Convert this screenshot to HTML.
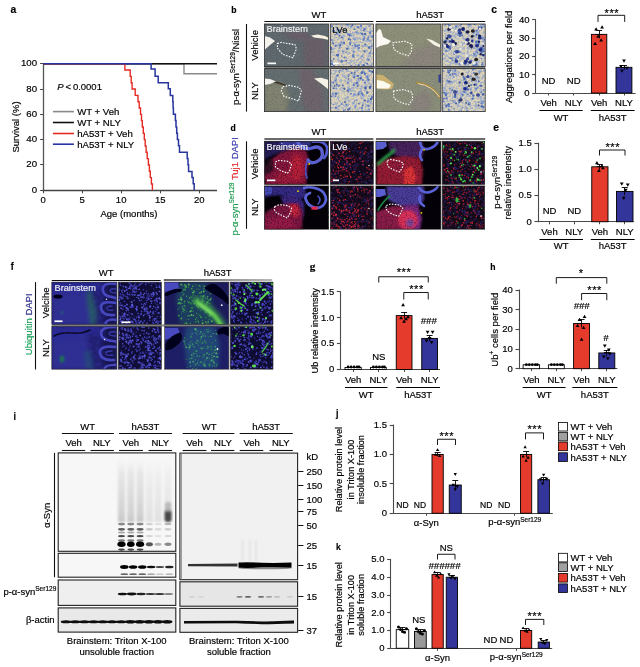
<!DOCTYPE html>
<html><head><meta charset="utf-8"><style>
html,body{margin:0;padding:0;background:#fff;}
body{width:640px;height:667px;overflow:hidden;}
svg{display:block;will-change:transform;}
text{font-family:"Liberation Sans", sans-serif;stroke-width:0.18px;}
</style></head><body>
<svg width="640" height="667" viewBox="0 0 640 667">
<defs><filter id="f1" x="-20%" y="-20%" width="140%" height="140%"><feGaussianBlur stdDeviation="1.2"/></filter><filter id="f2" x="-20%" y="-20%" width="140%" height="140%"><feGaussianBlur stdDeviation="2.2"/></filter><filter id="f3" x="-20%" y="-20%" width="140%" height="140%"><feGaussianBlur stdDeviation="0.5"/></filter><filter id="f4" x="-20%" y="-20%" width="140%" height="140%"><feGaussianBlur stdDeviation="0.3"/></filter><clipPath id="c1"><rect x="264.4" y="24" width="64.30000000000001" height="42.599999999999994"/></clipPath><filter id="f5" x="0" y="0" width="1" height="1" filterUnits="objectBoundingBox" color-interpolation-filters="sRGB"><feTurbulence type="fractalNoise" baseFrequency="0.9" numOctaves="2" seed="3"/><feColorMatrix type="matrix" values="0 0 0 0 0.243 0 0 0 0 0.290 0 0 0 0 0.333 4 0 0 0 -2.0"/></filter><clipPath id="c2"><rect x="264.4" y="68.6" width="64.30000000000001" height="43.0"/></clipPath><filter id="f6" x="0" y="0" width="1" height="1" filterUnits="objectBoundingBox" color-interpolation-filters="sRGB"><feTurbulence type="fractalNoise" baseFrequency="0.9" numOctaves="2" seed="5"/><feColorMatrix type="matrix" values="0 0 0 0 0.243 0 0 0 0 0.290 0 0 0 0 0.333 4 0 0 0 -2.0"/></filter><clipPath id="c3"><rect x="330.3" y="24" width="43.099999999999966" height="42.599999999999994"/></clipPath><filter id="f7" x="0" y="0" width="1" height="1" filterUnits="objectBoundingBox" color-interpolation-filters="sRGB"><feTurbulence type="fractalNoise" baseFrequency="0.7" numOctaves="2" seed="51"/><feColorMatrix type="matrix" values="0 0 0 0 0.690 0 0 0 0 0.659 0 0 0 0 0.565 5 0 0 0 -2.6"/></filter><filter id="f8" x="0" y="0" width="1" height="1" filterUnits="objectBoundingBox" color-interpolation-filters="sRGB"><feTurbulence type="fractalNoise" baseFrequency="0.4" numOctaves="2" seed="11"/><feColorMatrix type="matrix" values="0 0 0 0 0.557 0 0 0 0 0.643 0 0 0 0 0.812 7 0 0 0 -3.3"/></filter><clipPath id="c4"><rect x="330.3" y="68.6" width="43.099999999999966" height="43.0"/></clipPath><filter id="f9" x="0" y="0" width="1" height="1" filterUnits="objectBoundingBox" color-interpolation-filters="sRGB"><feTurbulence type="fractalNoise" baseFrequency="0.7" numOctaves="2" seed="52"/><feColorMatrix type="matrix" values="0 0 0 0 0.690 0 0 0 0 0.659 0 0 0 0 0.565 5 0 0 0 -2.6"/></filter><filter id="f10" x="0" y="0" width="1" height="1" filterUnits="objectBoundingBox" color-interpolation-filters="sRGB"><feTurbulence type="fractalNoise" baseFrequency="0.4" numOctaves="2" seed="12"/><feColorMatrix type="matrix" values="0 0 0 0 0.557 0 0 0 0 0.643 0 0 0 0 0.812 7 0 0 0 -3.3"/></filter><clipPath id="c5"><rect x="375.9" y="24" width="65.0" height="42.599999999999994"/></clipPath><filter id="f11" x="0" y="0" width="1" height="1" filterUnits="objectBoundingBox" color-interpolation-filters="sRGB"><feTurbulence type="fractalNoise" baseFrequency="0.9" numOctaves="2" seed="7"/><feColorMatrix type="matrix" values="0 0 0 0 0.353 0 0 0 0 0.392 0 0 0 0 0.314 4 0 0 0 -2.0"/></filter><clipPath id="c6"><rect x="375.9" y="68.6" width="65.0" height="43.0"/></clipPath><filter id="f12" x="0" y="0" width="1" height="1" filterUnits="objectBoundingBox" color-interpolation-filters="sRGB"><feTurbulence type="fractalNoise" baseFrequency="0.9" numOctaves="2" seed="9"/><feColorMatrix type="matrix" values="0 0 0 0 0.353 0 0 0 0 0.392 0 0 0 0 0.314 4 0 0 0 -2.0"/></filter><clipPath id="c7"><rect x="442.2" y="24" width="43.0" height="42.599999999999994"/></clipPath><filter id="f13" x="0" y="0" width="1" height="1" filterUnits="objectBoundingBox" color-interpolation-filters="sRGB"><feTurbulence type="fractalNoise" baseFrequency="0.7" numOctaves="2" seed="71"/><feColorMatrix type="matrix" values="0 0 0 0 0.690 0 0 0 0 0.659 0 0 0 0 0.565 5 0 0 0 -2.6"/></filter><filter id="f14" x="0" y="0" width="1" height="1" filterUnits="objectBoundingBox" color-interpolation-filters="sRGB"><feTurbulence type="fractalNoise" baseFrequency="0.4" numOctaves="2" seed="31"/><feColorMatrix type="matrix" values="0 0 0 0 0.557 0 0 0 0 0.643 0 0 0 0 0.812 7 0 0 0 -3.3"/></filter><clipPath id="c8"><rect x="442.2" y="68.6" width="43.0" height="43.0"/></clipPath><filter id="f15" x="0" y="0" width="1" height="1" filterUnits="objectBoundingBox" color-interpolation-filters="sRGB"><feTurbulence type="fractalNoise" baseFrequency="0.7" numOctaves="2" seed="72"/><feColorMatrix type="matrix" values="0 0 0 0 0.690 0 0 0 0 0.659 0 0 0 0 0.565 5 0 0 0 -2.6"/></filter><filter id="f16" x="0" y="0" width="1" height="1" filterUnits="objectBoundingBox" color-interpolation-filters="sRGB"><feTurbulence type="fractalNoise" baseFrequency="0.4" numOctaves="2" seed="32"/><feColorMatrix type="matrix" values="0 0 0 0 0.557 0 0 0 0 0.643 0 0 0 0 0.812 7 0 0 0 -3.3"/></filter><clipPath id="c9"><rect x="264.4" y="141.2" width="64.30000000000001" height="43.20000000000002"/></clipPath><filter id="f17" x="0" y="0" width="1" height="1" filterUnits="objectBoundingBox" color-interpolation-filters="sRGB"><feTurbulence type="fractalNoise" baseFrequency="0.8" numOctaves="2" seed="141"/><feColorMatrix type="matrix" values="0 0 0 0 0.000 0 0 0 0 0.000 0 0 0 0 0.000 4 0 0 0 -2.0"/></filter><clipPath id="c10"><rect x="264.4" y="185.9" width="64.30000000000001" height="43.29999999999998"/></clipPath><filter id="f18" x="0" y="0" width="1" height="1" filterUnits="objectBoundingBox" color-interpolation-filters="sRGB"><feTurbulence type="fractalNoise" baseFrequency="0.8" numOctaves="2" seed="143"/><feColorMatrix type="matrix" values="0 0 0 0 0.000 0 0 0 0 0.000 0 0 0 0 0.000 4 0 0 0 -2.0"/></filter><clipPath id="c11"><rect x="330.3" y="141.2" width="43.099999999999966" height="43.20000000000002"/></clipPath><filter id="f19" x="0" y="0" width="1" height="1" filterUnits="objectBoundingBox" color-interpolation-filters="sRGB"><feTurbulence type="fractalNoise" baseFrequency="0.3" numOctaves="2" seed="62"/><feColorMatrix type="matrix" values="0 0 0 0 0.165 0 0 0 0 0.102 0 0 0 0 0.314 5 0 0 0 -2.5"/></filter><clipPath id="c12"><rect x="330.3" y="185.9" width="43.099999999999966" height="43.29999999999998"/></clipPath><filter id="f20" x="0" y="0" width="1" height="1" filterUnits="objectBoundingBox" color-interpolation-filters="sRGB"><feTurbulence type="fractalNoise" baseFrequency="0.3" numOctaves="2" seed="63"/><feColorMatrix type="matrix" values="0 0 0 0 0.165 0 0 0 0 0.102 0 0 0 0 0.314 5 0 0 0 -2.5"/></filter><clipPath id="c13"><rect x="375.9" y="141.2" width="65.0" height="43.20000000000002"/></clipPath><filter id="f21" x="0" y="0" width="1" height="1" filterUnits="objectBoundingBox" color-interpolation-filters="sRGB"><feTurbulence type="fractalNoise" baseFrequency="0.8" numOctaves="2" seed="161"/><feColorMatrix type="matrix" values="0 0 0 0 0.000 0 0 0 0 0.000 0 0 0 0 0.000 4 0 0 0 -2.0"/></filter><clipPath id="c14"><rect x="375.9" y="185.9" width="65.0" height="43.29999999999998"/></clipPath><filter id="f22" x="0" y="0" width="1" height="1" filterUnits="objectBoundingBox" color-interpolation-filters="sRGB"><feTurbulence type="fractalNoise" baseFrequency="0.8" numOctaves="2" seed="163"/><feColorMatrix type="matrix" values="0 0 0 0 0.000 0 0 0 0 0.000 0 0 0 0 0.000 4 0 0 0 -2.0"/></filter><clipPath id="c15"><rect x="442.2" y="141.2" width="42.5" height="43.20000000000002"/></clipPath><filter id="f23" x="0" y="0" width="1" height="1" filterUnits="objectBoundingBox" color-interpolation-filters="sRGB"><feTurbulence type="fractalNoise" baseFrequency="0.3" numOctaves="2" seed="82"/><feColorMatrix type="matrix" values="0 0 0 0 0.165 0 0 0 0 0.102 0 0 0 0 0.314 5 0 0 0 -2.5"/></filter><clipPath id="c16"><rect x="442.2" y="185.9" width="42.5" height="43.29999999999998"/></clipPath><filter id="f24" x="0" y="0" width="1" height="1" filterUnits="objectBoundingBox" color-interpolation-filters="sRGB"><feTurbulence type="fractalNoise" baseFrequency="0.3" numOctaves="2" seed="83"/><feColorMatrix type="matrix" values="0 0 0 0 0.165 0 0 0 0 0.102 0 0 0 0 0.314 5 0 0 0 -2.5"/></filter><clipPath id="c17"><rect x="51.8" y="282.1" width="65.10000000000001" height="42.5"/></clipPath><filter id="f25" x="0" y="0" width="1" height="1" filterUnits="objectBoundingBox" color-interpolation-filters="sRGB"><feTurbulence type="fractalNoise" baseFrequency="0.3" numOctaves="2" seed="84"/><feColorMatrix type="matrix" values="0 0 0 0 0.188 0 0 0 0 0.188 0 0 0 0 0.627 4 0 0 0 -1.8"/></filter><clipPath id="c18"><rect x="51.8" y="326.2" width="65.10000000000001" height="43.0"/></clipPath><filter id="f26" x="0" y="0" width="1" height="1" filterUnits="objectBoundingBox" color-interpolation-filters="sRGB"><feTurbulence type="fractalNoise" baseFrequency="0.3" numOctaves="2" seed="85"/><feColorMatrix type="matrix" values="0 0 0 0 0.188 0 0 0 0 0.188 0 0 0 0 0.627 4 0 0 0 -1.8"/></filter><clipPath id="c19"><rect x="118.2" y="282.1" width="43.3" height="42.5"/></clipPath><clipPath id="c20"><rect x="118.2" y="326.2" width="43.3" height="43.0"/></clipPath><clipPath id="c21"><rect x="164.6" y="282.1" width="64.30000000000001" height="42.5"/></clipPath><clipPath id="c22"><rect x="164.6" y="326.2" width="64.30000000000001" height="43.0"/></clipPath><clipPath id="c23"><rect x="230.2" y="282.1" width="42.80000000000001" height="42.5"/></clipPath><clipPath id="c24"><rect x="230.2" y="326.2" width="42.80000000000001" height="43.0"/></clipPath><linearGradient id="sm1" x1="0" x2="0" y1="0" y2="1"><stop offset="0" stop-color="#e8e8e8" stop-opacity="0"/><stop offset="0.25" stop-color="#e2e2e2" stop-opacity="0.8"/><stop offset="0.85" stop-color="#d2d2d2"/><stop offset="1" stop-color="#c8c8c8"/></linearGradient><linearGradient id="sm2" x1="0" x2="0" y1="0" y2="1"><stop offset="0" stop-color="#eeeeee" stop-opacity="0"/><stop offset="0.3" stop-color="#eaeaea" stop-opacity="0.7"/><stop offset="1" stop-color="#e0e0e0"/></linearGradient><clipPath id="c25"><rect x="58.2" y="452.9" width="117.60000000000001" height="98.39999999999998"/></clipPath></defs>
<g transform="translate(10.4 13.1) scale(0.88 1)"><text x="0" y="0" font-size="11.8" font-weight="bold" stroke="#000">a</text></g>
<line x1="43.5" y1="63.7" x2="43.5" y2="190.8" stroke="#555" stroke-width="1.3"/>
<line x1="42.5" y1="190.5" x2="217" y2="190.5" stroke="#444" stroke-width="1.3"/>
<line x1="40.1" y1="190.5" x2="43.1" y2="190.5" stroke="#444" stroke-width="1"/>
<text x="37.1" y="192.8" font-size="9.7" text-anchor="end" stroke="#000">0</text>
<line x1="40.1" y1="164.5" x2="43.1" y2="164.5" stroke="#444" stroke-width="1"/>
<text x="37.1" y="167.48000000000002" font-size="9.7" text-anchor="end" stroke="#000">20</text>
<line x1="40.1" y1="139.5" x2="43.1" y2="139.5" stroke="#444" stroke-width="1"/>
<text x="37.1" y="142.16000000000003" font-size="9.7" text-anchor="end" stroke="#000">40</text>
<line x1="40.1" y1="114.5" x2="43.1" y2="114.5" stroke="#444" stroke-width="1"/>
<text x="37.1" y="116.84" font-size="9.7" text-anchor="end" stroke="#000">60</text>
<line x1="40.1" y1="89.5" x2="43.1" y2="89.5" stroke="#444" stroke-width="1"/>
<text x="37.1" y="91.52000000000001" font-size="9.7" text-anchor="end" stroke="#000">80</text>
<line x1="40.1" y1="63.5" x2="43.1" y2="63.5" stroke="#444" stroke-width="1"/>
<text x="37.1" y="66.20000000000002" font-size="9.7" text-anchor="end" stroke="#000">100</text>
<line x1="43.5" y1="190.3" x2="43.5" y2="193.3" stroke="#444" stroke-width="1"/>
<text x="43.1" y="203.3" font-size="9.5" text-anchor="middle" stroke="#000">0</text>
<line x1="82.5" y1="190.3" x2="82.5" y2="193.3" stroke="#444" stroke-width="1"/>
<text x="82.13" y="203.3" font-size="9.5" text-anchor="middle" stroke="#000">5</text>
<line x1="121.5" y1="190.3" x2="121.5" y2="193.3" stroke="#444" stroke-width="1"/>
<text x="121.16" y="203.3" font-size="9.5" text-anchor="middle" stroke="#000">10</text>
<line x1="160.5" y1="190.3" x2="160.5" y2="193.3" stroke="#444" stroke-width="1"/>
<text x="160.19" y="203.3" font-size="9.5" text-anchor="middle" stroke="#000">15</text>
<line x1="199.5" y1="190.3" x2="199.5" y2="193.3" stroke="#444" stroke-width="1"/>
<text x="199.22" y="203.3" font-size="9.5" text-anchor="middle" stroke="#000">20</text>
<text x="18.7" y="127" font-size="9.5" text-anchor="middle" transform="rotate(-90 18.7 127)" stroke="#000">Survival (%)</text>
<text x="129" y="216.7" font-size="9.5" text-anchor="middle" stroke="#000">Age (months)</text>
<text x="57.2" y="90.3" font-size="9.5" stroke="#000"><tspan font-style="italic">P</tspan> &lt; 0.0001</text>
<path d="M43.1,63.7 H184 V73.8 H217" stroke="#8a8a8a" stroke-width="1.4" fill="none"/>
<path d="M43.1,63.7 H217" stroke="#111" stroke-width="1.5" fill="none"/>
<path d="M43.1,63.7 H124.9 V70.03 H130.2 V76.36 H131.2 V82.69 H132.1 V89.02 H135.2 V95.35 H138 V101.68 H139.2 V108.01 H140.5 V114.34 H141.5 V120.67 H142.3 V127.00 H143.3 V133.33 H144.3 V139.66 H145.2 V145.99 H146.1 V152.32 H147.2 V158.65 H148.4 V164.98 H149.4 V171.31 H150.3 V177.64 H151.4 V183.97 H152.4 V190.30" stroke="#e52a23" stroke-width="1.4" fill="none"/>
<path d="M43.1,63.7 H151.1 V69.1 H155.1 V76.2 H158.2 V82.7 H168.3 V88.8 H170.3 V95.5 H172.8 V101.8 H173.1 V108 H173.4 V114.3 H175.4 V120.6 H176 V126.9 H176.7 V133.2 H177.4 V139.5 H178.5 V145.8 H179.5 V152.2 H187.2 V158.5 H188 V164.8 H188.6 V171.5 H192 V177.5 H193.2 V183.8 H194.2 V190.3" stroke="#28359e" stroke-width="1.5" fill="none"/>
<line x1="52.9" y1="111.6" x2="73.9" y2="111.6" stroke="#8a8a8a" stroke-width="1.6"/>
<text x="77.2" y="115.0" font-size="9.6" stroke="#000">WT + Veh</text>
<line x1="52.9" y1="122.5" x2="73.9" y2="122.5" stroke="#111" stroke-width="1.6"/>
<text x="77.2" y="125.9" font-size="9.6" stroke="#000">WT + NLY</text>
<line x1="52.9" y1="133.5" x2="73.9" y2="133.5" stroke="#e52a23" stroke-width="1.6"/>
<text x="77.2" y="136.9" font-size="9.6" stroke="#000">hA53T + Veh</text>
<line x1="52.9" y1="144.2" x2="73.9" y2="144.2" stroke="#28359e" stroke-width="1.6"/>
<text x="77.2" y="147.6" font-size="9.6" stroke="#000">hA53T + NLY</text>
<g transform="translate(491.3 12.9) scale(0.88 1)"><text x="0" y="0" font-size="11.8" font-weight="bold" stroke="#000">c</text></g>
<line x1="535.5" y1="19.2" x2="535.5" y2="93.5" stroke="#4a4a4a" stroke-width="1.1"/>
<line x1="532.1" y1="93.5" x2="535.7" y2="93.5" stroke="#4a4a4a" stroke-width="1.1"/>
<text x="529.5" y="95.9" font-size="9.5" text-anchor="end" stroke="#000">0</text>
<line x1="532.1" y1="74.5" x2="535.7" y2="74.5" stroke="#4a4a4a" stroke-width="1.1"/>
<text x="529.5" y="77.575" font-size="9.5" text-anchor="end" stroke="#000">10</text>
<line x1="532.1" y1="56.5" x2="535.7" y2="56.5" stroke="#4a4a4a" stroke-width="1.1"/>
<text x="529.5" y="59.25" font-size="9.5" text-anchor="end" stroke="#000">20</text>
<line x1="532.1" y1="38.5" x2="535.7" y2="38.5" stroke="#4a4a4a" stroke-width="1.1"/>
<text x="529.5" y="40.925" font-size="9.5" text-anchor="end" stroke="#000">30</text>
<line x1="532.1" y1="19.5" x2="535.7" y2="19.5" stroke="#4a4a4a" stroke-width="1.1"/>
<text x="529.5" y="22.6" font-size="9.5" text-anchor="end" stroke="#000">40</text>
<line x1="535.7" y1="93.5" x2="635.6" y2="93.5" stroke="#4a4a4a" stroke-width="1"/>
<line x1="548.5" y1="93" x2="548.5" y2="95.5" stroke="#4a4a4a" stroke-width="1"/>
<line x1="573.5" y1="93" x2="573.5" y2="95.5" stroke="#4a4a4a" stroke-width="1"/>
<line x1="599.5" y1="93" x2="599.5" y2="95.5" stroke="#4a4a4a" stroke-width="1"/>
<line x1="624.5" y1="93" x2="624.5" y2="95.5" stroke="#4a4a4a" stroke-width="1"/>
<rect x="591.4" y="34.36" width="15.399999999999977" height="58.64" fill="#e53b2c" stroke="#000" stroke-width="0.9"/>
<rect x="616.0" y="67.345" width="15.899999999999977" height="25.655" fill="#34359a" stroke="#000" stroke-width="0.9"/>
<line x1="599.5" y1="30.32849999999999" x2="599.5" y2="38.3915" stroke="#000" stroke-width="0.9"/>
<line x1="596.1" y1="30.5" x2="602.1" y2="30.5" stroke="#000" stroke-width="0.9"/>
<line x1="596.1" y1="34.5" x2="602.1" y2="34.5" stroke="#000" stroke-width="0.9"/>
<line x1="624.5" y1="65.146" x2="624.5" y2="69.544" stroke="#000" stroke-width="0.9"/>
<line x1="621.0" y1="65.5" x2="627.0" y2="65.5" stroke="#000" stroke-width="0.9"/>
<line x1="621.0" y1="67.5" x2="627.0" y2="67.5" stroke="#000" stroke-width="0.9"/>
<path d="M594.2,30.382499999999997 L598.0,30.382499999999997 L596.1,27.152499999999996 Z" fill="#000"/>
<path d="M600.2,28.55 L604.0,28.55 L602.1,25.32 Z" fill="#000"/>
<path d="M596.2,37.712500000000006 L600.0,37.712500000000006 L598.1,34.4825 Z" fill="#000"/>
<path d="M599.2,41.377500000000005 L603.0,41.377500000000005 L601.1,38.1475 Z" fill="#000"/>
<path d="M593.2,45.042500000000004 L597.0,45.042500000000004 L595.1,41.8125 Z" fill="#000"/>
<path d="M622.1,59.411249999999995 L625.9,59.411249999999995 L624,62.64125 Z" fill="#000"/>
<path d="M620.1,69.49 L623.9,69.49 L622,72.71999999999998 Z" fill="#000"/>
<path d="M625.1,66.74125000000001 L628.9,66.74125000000001 L627,69.97125 Z" fill="#000"/>
<path d="M619.1,64.90875000000001 L622.9,64.90875000000001 L621,68.13875 Z" fill="#000"/>
<text x="548.6" y="83.8" font-size="9.5" text-anchor="middle" stroke="#000">ND</text>
<text x="573.7" y="83.8" font-size="9.5" text-anchor="middle" stroke="#000">ND</text>
<path d="M598,21.9 V15.3 H624.7 V21.9" stroke="#000" stroke-width="0.9" fill="none"/>
<text x="611.9" y="16.5" font-size="11" text-anchor="middle" letter-spacing="0.6" stroke="#000">***</text>
<text x="548.6" y="106" font-size="9.5" text-anchor="middle" stroke="#000">Veh</text>
<text x="573.7" y="106" font-size="9.5" text-anchor="middle" stroke="#000">NLY</text>
<text x="599.1" y="106" font-size="9.5" text-anchor="middle" stroke="#000">Veh</text>
<text x="624.0" y="106" font-size="9.5" text-anchor="middle" stroke="#000">NLY</text>
<line x1="539.4" y1="110.5" x2="582.7" y2="110.5" stroke="#000" stroke-width="1"/>
<text x="561.05" y="121" font-size="9.5" text-anchor="middle" stroke="#000">WT</text>
<line x1="590.8" y1="110.5" x2="634.6" y2="110.5" stroke="#000" stroke-width="1"/>
<text x="612.7" y="121" font-size="9.5" text-anchor="middle" stroke="#000">hA53T</text>
<text x="512.2" y="56.9" font-size="9.5" text-anchor="middle" transform="rotate(-90 512.2 56.9)" stroke="#000">Aggregations per field</text>
<g transform="translate(493.3 130.5) scale(0.88 1)"><text x="0" y="0" font-size="11.8" font-weight="bold" stroke="#000">e</text></g>
<line x1="538.5" y1="142.75" x2="538.5" y2="222.25" stroke="#4a4a4a" stroke-width="1.1"/>
<line x1="534.4" y1="221.5" x2="538" y2="221.5" stroke="#4a4a4a" stroke-width="1.1"/>
<text x="531.8" y="224.65" font-size="9.5" text-anchor="end" stroke="#000">0</text>
<line x1="534.4" y1="195.5" x2="538" y2="195.5" stroke="#4a4a4a" stroke-width="1.1"/>
<text x="531.8" y="198.485" font-size="9.5" text-anchor="end" stroke="#000">0.5</text>
<line x1="534.4" y1="169.5" x2="538" y2="169.5" stroke="#4a4a4a" stroke-width="1.1"/>
<text x="531.8" y="172.32000000000002" font-size="9.5" text-anchor="end" stroke="#000">1.0</text>
<line x1="534.4" y1="143.5" x2="538" y2="143.5" stroke="#4a4a4a" stroke-width="1.1"/>
<text x="531.8" y="146.155" font-size="9.5" text-anchor="end" stroke="#000">1.5</text>
<line x1="538" y1="221.5" x2="633.75" y2="221.5" stroke="#4a4a4a" stroke-width="1"/>
<line x1="549.5" y1="221.75" x2="549.5" y2="224.25" stroke="#4a4a4a" stroke-width="1"/>
<line x1="574.5" y1="221.75" x2="574.5" y2="224.25" stroke="#4a4a4a" stroke-width="1"/>
<line x1="599.5" y1="221.75" x2="599.5" y2="224.25" stroke="#4a4a4a" stroke-width="1"/>
<line x1="624.5" y1="221.75" x2="624.5" y2="224.25" stroke="#4a4a4a" stroke-width="1"/>
<rect x="591.75" y="166.80349999999999" width="16.25" height="54.946500000000015" fill="#e53b2c" stroke="#000" stroke-width="0.9"/>
<rect x="616.5" y="191.3986" width="16.5" height="30.351400000000012" fill="#34359a" stroke="#000" stroke-width="0.9"/>
<line x1="599.5" y1="164.187" x2="599.5" y2="169.42000000000002" stroke="#000" stroke-width="0.9"/>
<line x1="596.9" y1="164.5" x2="602.9" y2="164.5" stroke="#000" stroke-width="0.9"/>
<line x1="596.9" y1="166.5" x2="602.9" y2="166.5" stroke="#000" stroke-width="0.9"/>
<line x1="624.5" y1="187.7355" x2="624.5" y2="195.0617" stroke="#000" stroke-width="0.9"/>
<line x1="621.75" y1="187.5" x2="627.75" y2="187.5" stroke="#000" stroke-width="0.9"/>
<line x1="621.75" y1="191.5" x2="627.75" y2="191.5" stroke="#000" stroke-width="0.9"/>
<path d="M595.0,164.1371 L598.8,164.1371 L596.9,160.90709999999999 Z" fill="#000"/>
<path d="M600.0,167.2769 L603.8,167.2769 L601.9,164.0469 Z" fill="#000"/>
<path d="M597.0,171.9866 L600.8,171.9866 L598.9,168.7566 Z" fill="#000"/>
<path d="M601.0,169.3701 L604.8,169.3701 L602.9,166.1401 Z" fill="#000"/>
<path d="M619.85,182.5524 L623.65,182.5524 L621.75,185.78240000000002 Z" fill="#000"/>
<path d="M625.85,183.599 L629.65,183.599 L627.75,186.829 Z" fill="#000"/>
<path d="M621.85,196.6815 L625.65,196.6815 L623.75,199.91150000000002 Z" fill="#000"/>
<path d="M623.85,188.832 L627.65,188.832 L625.75,192.062 Z" fill="#000"/>
<text x="549.5" y="213.75" font-size="9.5" text-anchor="middle" stroke="#000">ND</text>
<text x="574.25" y="213.75" font-size="9.5" text-anchor="middle" stroke="#000">ND</text>
<path d="M599.5,155.5 V150 H625 V155.5" stroke="#000" stroke-width="0.9" fill="none"/>
<text x="612.8" y="151.0" font-size="11" text-anchor="middle" letter-spacing="0.6" stroke="#000">***</text>
<text x="549.5" y="235" font-size="9.5" text-anchor="middle" stroke="#000">Veh</text>
<text x="574.25" y="235" font-size="9.5" text-anchor="middle" stroke="#000">NLY</text>
<text x="599.9" y="235" font-size="9.5" text-anchor="middle" stroke="#000">Veh</text>
<text x="624.75" y="235" font-size="9.5" text-anchor="middle" stroke="#000">NLY</text>
<line x1="539.5" y1="239.5" x2="583" y2="239.5" stroke="#000" stroke-width="1"/>
<text x="561.25" y="248.75" font-size="9.5" text-anchor="middle" stroke="#000">WT</text>
<line x1="590.8" y1="239.5" x2="634.6" y2="239.5" stroke="#000" stroke-width="1"/>
<text x="612.7" y="248.75" font-size="9.5" text-anchor="middle" stroke="#000">hA53T</text>
<text x="500.5" y="182.4" font-size="9.5" text-anchor="middle" transform="rotate(-90 500.5 182.4)" stroke="#000">p-α-syn<tspan font-size="6.5" dy="-3.8">Ser129</tspan></text>
<text x="510.7" y="182.7" font-size="9.5" text-anchor="middle" transform="rotate(-90 510.7 182.7)" stroke="#000">relative inetensity</text>
<text x="309.8" y="269.6" font-size="11.2" font-weight="bold" style="font-family:'Liberation Serif', serif" stroke="#000">g</text>
<line x1="340.5" y1="291.25" x2="340.5" y2="370.0" stroke="#4a4a4a" stroke-width="1.1"/>
<line x1="336.9" y1="369.5" x2="340.5" y2="369.5" stroke="#4a4a4a" stroke-width="1.1"/>
<text x="334.3" y="372.4" font-size="9.5" text-anchor="end" stroke="#000">0</text>
<line x1="336.9" y1="343.5" x2="340.5" y2="343.5" stroke="#4a4a4a" stroke-width="1.1"/>
<text x="334.3" y="346.48499999999996" font-size="9.5" text-anchor="end" stroke="#000">0.5</text>
<line x1="336.9" y1="317.5" x2="340.5" y2="317.5" stroke="#4a4a4a" stroke-width="1.1"/>
<text x="334.3" y="320.57" font-size="9.5" text-anchor="end" stroke="#000">1.0</text>
<line x1="336.9" y1="291.5" x2="340.5" y2="291.5" stroke="#4a4a4a" stroke-width="1.1"/>
<text x="334.3" y="294.655" font-size="9.5" text-anchor="end" stroke="#000">1.5</text>
<line x1="340.5" y1="369.5" x2="440" y2="369.5" stroke="#4a4a4a" stroke-width="1"/>
<line x1="353.5" y1="369.5" x2="353.5" y2="372.0" stroke="#4a4a4a" stroke-width="1"/>
<line x1="378.5" y1="369.5" x2="378.5" y2="372.0" stroke="#4a4a4a" stroke-width="1"/>
<line x1="404.5" y1="369.5" x2="404.5" y2="372.0" stroke="#4a4a4a" stroke-width="1"/>
<line x1="429.5" y1="369.5" x2="429.5" y2="372.0" stroke="#4a4a4a" stroke-width="1"/>
<rect x="345" y="367.4268" width="16.25" height="2.0731999999999857" fill="#fff" stroke="#000" stroke-width="0.9"/>
<rect x="370.5" y="367.4268" width="15.75" height="2.0731999999999857" fill="#fff" stroke="#000" stroke-width="0.9"/>
<rect x="396.25" y="315.59680000000003" width="15.75" height="53.90319999999997" fill="#e53b2c" stroke="#000" stroke-width="0.9"/>
<rect x="421.75" y="338.402" width="15.75" height="31.098000000000013" fill="#34359a" stroke="#000" stroke-width="0.9"/>
<circle cx="348.1" cy="367.0" r="1.4" fill="#000"/>
<circle cx="351.1" cy="367.0" r="1.4" fill="#000"/>
<circle cx="354.1" cy="367.0" r="1.4" fill="#000"/>
<circle cx="357.1" cy="367.0" r="1.4" fill="#000"/>
<circle cx="359.1" cy="367.0" r="1.4" fill="#000"/>
<circle cx="373.4" cy="367.0" r="1.4" fill="#000"/>
<circle cx="376.4" cy="367.0" r="1.4" fill="#000"/>
<circle cx="379.4" cy="367.0" r="1.4" fill="#000"/>
<circle cx="382.4" cy="367.0" r="1.4" fill="#000"/>
<circle cx="384.4" cy="367.0" r="1.4" fill="#000"/>
<line x1="404.5" y1="312.48699999999997" x2="404.5" y2="318.7066" stroke="#000" stroke-width="0.9"/>
<line x1="401.1" y1="312.5" x2="407.1" y2="312.5" stroke="#000" stroke-width="0.9"/>
<line x1="401.1" y1="315.5" x2="407.1" y2="315.5" stroke="#000" stroke-width="0.9"/>
<line x1="429.5" y1="335.2922" x2="429.5" y2="340.9935" stroke="#000" stroke-width="0.9"/>
<line x1="426.6" y1="335.5" x2="432.6" y2="335.5" stroke="#000" stroke-width="0.9"/>
<line x1="426.6" y1="338.5" x2="432.6" y2="338.5" stroke="#000" stroke-width="0.9"/>
<path d="M401.20000000000005,306.23249999999996 L405.0,306.23249999999996 L403.1,303.0025 Z" fill="#000"/>
<path d="M399.20000000000005,319.19 L403.0,319.19 L401.1,315.96000000000004 Z" fill="#000"/>
<path d="M404.20000000000005,320.22659999999996 L408.0,320.22659999999996 L406.1,316.9966 Z" fill="#000"/>
<path d="M406.20000000000005,318.1534 L410.0,318.1534 L408.1,314.9234 Z" fill="#000"/>
<path d="M402.20000000000005,322.81809999999996 L406.0,322.81809999999996 L404.1,319.5881 Z" fill="#000"/>
<path d="M425.70000000000005,330.66240000000005 L429.5,330.66240000000005 L427.6,333.8924 Z" fill="#000"/>
<path d="M430.70000000000005,330.66240000000005 L434.5,330.66240000000005 L432.6,333.8924 Z" fill="#000"/>
<path d="M424.70000000000005,339.4735 L428.5,339.4735 L426.6,342.70349999999996 Z" fill="#000"/>
<path d="M429.70000000000005,341.02840000000003 L433.5,341.02840000000003 L431.6,344.2584 Z" fill="#000"/>
<path d="M427.70000000000005,336.882 L431.5,336.882 L429.6,340.11199999999997 Z" fill="#000"/>
<text x="378.75" y="360" font-size="9.5" text-anchor="middle" stroke="#000">NS</text>
<text x="428.75" y="323.75" font-size="9.5" text-anchor="middle" font-style="italic" stroke="#000">###</text>
<path d="M378.75,282.5 V276.75 H428.25 V282.5" stroke="#000" stroke-width="0.9" fill="none"/>
<text x="404.05" y="275.7" font-size="11" text-anchor="middle" letter-spacing="0.6" stroke="#000">***</text>
<path d="M403.75,299.5 V292.5 H428.25 V299.5" stroke="#000" stroke-width="0.9" fill="none"/>
<text x="416.55" y="292.7" font-size="11" text-anchor="middle" letter-spacing="0.6" stroke="#000">***</text>
<text x="353.1" y="383.25" font-size="9.5" text-anchor="middle" stroke="#000">Veh</text>
<text x="378.4" y="383.25" font-size="9.5" text-anchor="middle" stroke="#000">NLY</text>
<text x="404.1" y="383.25" font-size="9.5" text-anchor="middle" stroke="#000">Veh</text>
<text x="429.6" y="383.25" font-size="9.5" text-anchor="middle" stroke="#000">NLY</text>
<line x1="345" y1="387.5" x2="387.5" y2="387.5" stroke="#000" stroke-width="1"/>
<text x="366.25" y="397.5" font-size="9.5" text-anchor="middle" stroke="#000">WT</text>
<line x1="396.25" y1="387.5" x2="440" y2="387.5" stroke="#000" stroke-width="1"/>
<text x="418.125" y="397.5" font-size="9.5" text-anchor="middle" stroke="#000">hA53T</text>
<text x="317.6" y="330.8" font-size="9.2" text-anchor="middle" transform="rotate(-90 317.6 330.8)" stroke="#000">Ub relative inetensity</text>
<g transform="translate(490.3 269.6) scale(0.88 1)"><text x="0" y="0" font-size="9.8" font-weight="bold" stroke="#000">h</text></g>
<line x1="519.5" y1="289.5" x2="519.5" y2="369.2" stroke="#4a4a4a" stroke-width="1.1"/>
<line x1="515.5" y1="368.5" x2="519.1" y2="368.5" stroke="#4a4a4a" stroke-width="1.1"/>
<text x="512.9" y="371.59999999999997" font-size="9.5" text-anchor="end" stroke="#000">0</text>
<line x1="515.5" y1="349.5" x2="519.1" y2="349.5" stroke="#4a4a4a" stroke-width="1.1"/>
<text x="512.9" y="351.92499999999995" font-size="9.5" text-anchor="end" stroke="#000">10</text>
<line x1="515.5" y1="329.5" x2="519.1" y2="329.5" stroke="#4a4a4a" stroke-width="1.1"/>
<text x="512.9" y="332.24999999999994" font-size="9.5" text-anchor="end" stroke="#000">20</text>
<line x1="515.5" y1="309.5" x2="519.1" y2="309.5" stroke="#4a4a4a" stroke-width="1.1"/>
<text x="512.9" y="312.575" font-size="9.5" text-anchor="end" stroke="#000">30</text>
<line x1="515.5" y1="290.5" x2="519.1" y2="290.5" stroke="#4a4a4a" stroke-width="1.1"/>
<text x="512.9" y="292.9" font-size="9.5" text-anchor="end" stroke="#000">40</text>
<line x1="519.1" y1="368.5" x2="617.4" y2="368.5" stroke="#4a4a4a" stroke-width="1"/>
<line x1="531.5" y1="368.7" x2="531.5" y2="371.2" stroke="#4a4a4a" stroke-width="1"/>
<line x1="556.5" y1="368.7" x2="556.5" y2="371.2" stroke="#4a4a4a" stroke-width="1"/>
<line x1="581.5" y1="368.7" x2="581.5" y2="371.2" stroke="#4a4a4a" stroke-width="1"/>
<line x1="606.5" y1="368.7" x2="606.5" y2="371.2" stroke="#4a4a4a" stroke-width="1"/>
<rect x="523.1" y="364.765" width="16.5" height="3.9350000000000023" fill="#fff" stroke="#000" stroke-width="0.9"/>
<rect x="548.4" y="364.765" width="15.899999999999977" height="3.9350000000000023" fill="#fff" stroke="#000" stroke-width="0.9"/>
<rect x="573.6" y="323.4475" width="15.899999999999977" height="45.2525" fill="#e53b2c" stroke="#000" stroke-width="0.9"/>
<rect x="598.8" y="352.96" width="16.0" height="15.740000000000009" fill="#34359a" stroke="#000" stroke-width="0.9"/>
<circle cx="526.35" cy="364.7" r="1.4" fill="#000"/>
<circle cx="529.35" cy="364.7" r="1.4" fill="#000"/>
<circle cx="532.35" cy="364.7" r="1.4" fill="#000"/>
<circle cx="535.35" cy="364.7" r="1.4" fill="#000"/>
<circle cx="537.35" cy="364.7" r="1.4" fill="#000"/>
<circle cx="551.35" cy="364.7" r="1.4" fill="#000"/>
<circle cx="554.35" cy="364.7" r="1.4" fill="#000"/>
<circle cx="557.35" cy="364.7" r="1.4" fill="#000"/>
<circle cx="560.35" cy="364.7" r="1.4" fill="#000"/>
<circle cx="562.35" cy="364.7" r="1.4" fill="#000"/>
<line x1="581.5" y1="319.5125" x2="581.5" y2="327.3825" stroke="#000" stroke-width="0.9"/>
<line x1="578.55" y1="319.5" x2="584.55" y2="319.5" stroke="#000" stroke-width="0.9"/>
<line x1="578.55" y1="323.5" x2="584.55" y2="323.5" stroke="#000" stroke-width="0.9"/>
<line x1="606.5" y1="350.00874999999996" x2="606.5" y2="355.91125" stroke="#000" stroke-width="0.9"/>
<line x1="603.8" y1="350.5" x2="609.8" y2="350.5" stroke="#000" stroke-width="0.9"/>
<line x1="603.8" y1="352.5" x2="609.8" y2="352.5" stroke="#000" stroke-width="0.9"/>
<path d="M577.65,321.03249999999997 L581.4499999999999,321.03249999999997 L579.55,317.8025 Z" fill="#000"/>
<path d="M582.65,318.08124999999995 L586.4499999999999,318.08124999999995 L584.55,314.85125 Z" fill="#000"/>
<path d="M575.65,326.93499999999995 L579.4499999999999,326.93499999999995 L577.55,323.705 Z" fill="#000"/>
<path d="M581.65,328.9025 L585.4499999999999,328.9025 L583.55,325.6725 Z" fill="#000"/>
<path d="M579.65,340.7075 L583.4499999999999,340.7075 L581.55,337.4775 Z" fill="#000"/>
<path d="M602.9,344.55375000000004 L606.6999999999999,344.55375000000004 L604.8,347.78375 Z" fill="#000"/>
<path d="M606.9,348.48875 L610.6999999999999,348.48875 L608.8,351.71874999999994 Z" fill="#000"/>
<path d="M601.9,355.375 L605.6999999999999,355.375 L603.8,358.60499999999996 Z" fill="#000"/>
<path d="M605.9,357.34250000000003 L609.6999999999999,357.34250000000003 L607.8,360.5725 Z" fill="#000"/>
<path d="M607.9,352.42375 L611.6999999999999,352.42375 L609.8,355.65374999999995 Z" fill="#000"/>
<text x="581.6" y="309.4" font-size="9.5" text-anchor="middle" font-style="italic" stroke="#000">###</text>
<text x="606" y="340.5" font-size="9.5" text-anchor="middle" font-style="italic" stroke="#000">#</text>
<path d="M556.3,283.7 V277.6 H606.8 V283.7" stroke="#000" stroke-width="0.9" fill="none"/>
<text x="581.3" y="277.0" font-size="11" text-anchor="middle" letter-spacing="0.6" stroke="#000">*</text>
<path d="M581.6,300.2 V293.5 H606.8 V300.2" stroke="#000" stroke-width="0.9" fill="none"/>
<text x="594.5999999999999" y="293.8" font-size="11" text-anchor="middle" letter-spacing="0.6" stroke="#000">***</text>
<text x="531.35" y="382.5" font-size="9.5" text-anchor="middle" stroke="#000">Veh</text>
<text x="556.35" y="382.5" font-size="9.5" text-anchor="middle" stroke="#000">NLY</text>
<text x="581.55" y="382.5" font-size="9.5" text-anchor="middle" stroke="#000">Veh</text>
<text x="606.8" y="382.5" font-size="9.5" text-anchor="middle" stroke="#000">NLY</text>
<line x1="522.6" y1="387.5" x2="565.6" y2="387.5" stroke="#000" stroke-width="1"/>
<text x="544.1" y="397.9" font-size="9.5" text-anchor="middle" stroke="#000">WT</text>
<line x1="572.3" y1="387.5" x2="617.4" y2="387.5" stroke="#000" stroke-width="1"/>
<text x="594.8499999999999" y="397.9" font-size="9.5" text-anchor="middle" stroke="#000">hA53T</text>
<text x="494.5" y="329.6" font-size="9.5" text-anchor="middle" transform="rotate(-90 494.5 329.6)" dy="3.3" stroke="#000">Ub<tspan font-size="6.5" dy="-3.8">+</tspan><tspan dy="3.8"> cells per field</tspan></text>
<g transform="translate(335.90000000000003 417.2) scale(0.88 1)"><text x="0" y="0" font-size="10.2" font-weight="bold" stroke="#000">j</text></g>
<line x1="393.5" y1="424.5" x2="393.5" y2="513.75" stroke="#4a4a4a" stroke-width="1.1"/>
<line x1="389.65" y1="513.5" x2="393.25" y2="513.5" stroke="#4a4a4a" stroke-width="1.1"/>
<text x="387.05" y="516.15" font-size="9.5" text-anchor="end" stroke="#000">0</text>
<line x1="389.65" y1="483.5" x2="393.25" y2="483.5" stroke="#4a4a4a" stroke-width="1.1"/>
<text x="387.05" y="486.73499999999996" font-size="9.5" text-anchor="end" stroke="#000">0.5</text>
<line x1="389.65" y1="454.5" x2="393.25" y2="454.5" stroke="#4a4a4a" stroke-width="1.1"/>
<text x="387.05" y="457.32" font-size="9.5" text-anchor="end" stroke="#000">1.0</text>
<line x1="389.65" y1="425.5" x2="393.25" y2="425.5" stroke="#4a4a4a" stroke-width="1.1"/>
<text x="387.05" y="427.905" font-size="9.5" text-anchor="end" stroke="#000">1.5</text>
<line x1="393.25" y1="513.5" x2="552.8" y2="513.5" stroke="#4a4a4a" stroke-width="1"/>
<line x1="426.5" y1="513.25" x2="426.5" y2="515.75" stroke="#4a4a4a" stroke-width="1"/>
<line x1="514.5" y1="513.25" x2="514.5" y2="515.75" stroke="#4a4a4a" stroke-width="1"/>
<rect x="432" y="454.42" width="11.25" height="58.829999999999984" fill="#e53b2c" stroke="#000" stroke-width="0.9"/>
<rect x="449.25" y="485.0116" width="12.0" height="28.238400000000013" fill="#34359a" stroke="#000" stroke-width="0.9"/>
<rect x="520.5" y="454.42" width="11.200000000000045" height="58.829999999999984" fill="#e53b2c" stroke="#000" stroke-width="0.9"/>
<rect x="537.9" y="479.7169" width="11.5" height="33.53309999999999" fill="#34359a" stroke="#000" stroke-width="0.9"/>
<line x1="437.5" y1="452.6551" x2="437.5" y2="456.1849" stroke="#000" stroke-width="0.9"/>
<line x1="434.6" y1="452.5" x2="440.6" y2="452.5" stroke="#000" stroke-width="0.9"/>
<line x1="434.6" y1="454.5" x2="440.6" y2="454.5" stroke="#000" stroke-width="0.9"/>
<line x1="455.5" y1="480.8935" x2="455.5" y2="489.1297" stroke="#000" stroke-width="0.9"/>
<line x1="452.25" y1="480.5" x2="458.25" y2="480.5" stroke="#000" stroke-width="0.9"/>
<line x1="452.25" y1="485.5" x2="458.25" y2="485.5" stroke="#000" stroke-width="0.9"/>
<line x1="526.5" y1="451.4785" x2="526.5" y2="457.3615" stroke="#000" stroke-width="0.9"/>
<line x1="523.1" y1="451.5" x2="529.1" y2="451.5" stroke="#000" stroke-width="0.9"/>
<line x1="523.1" y1="454.5" x2="529.1" y2="454.5" stroke="#000" stroke-width="0.9"/>
<line x1="543.5" y1="477.952" x2="543.5" y2="482.0701" stroke="#000" stroke-width="0.9"/>
<line x1="540.65" y1="477.5" x2="546.65" y2="477.5" stroke="#000" stroke-width="0.9"/>
<line x1="540.65" y1="479.5" x2="546.65" y2="479.5" stroke="#000" stroke-width="0.9"/>
<path d="M435.90000000000003,451.0736 L439.3,451.0736 L437.6,448.1836 Z" fill="#000"/>
<path d="M433.90000000000003,455.78000000000003 L437.3,455.78000000000003 L435.6,452.89000000000004 Z" fill="#000"/>
<path d="M437.90000000000003,456.95660000000004 L441.3,456.95660000000004 L439.6,454.06660000000005 Z" fill="#000"/>
<path d="M453.55,473.06219999999996 L456.95,473.06219999999996 L455.25,475.95219999999995 Z" fill="#000"/>
<path d="M451.55,483.6516 L454.95,483.6516 L453.25,486.54159999999996 Z" fill="#000"/>
<path d="M455.55,485.4165 L458.95,485.4165 L457.25,488.30649999999997 Z" fill="#000"/>
<path d="M453.55,488.358 L456.95,488.358 L455.25,491.248 Z" fill="#000"/>
<path d="M523.4,448.13210000000004 L526.8000000000001,448.13210000000004 L525.1,445.24210000000005 Z" fill="#000"/>
<path d="M521.4,457.54490000000004 L524.8000000000001,457.54490000000004 L523.1,454.65490000000005 Z" fill="#000"/>
<path d="M526.4,458.7215 L529.8000000000001,458.7215 L528.1,455.8315 Z" fill="#000"/>
<path d="M524.4,461.663 L527.8000000000001,461.663 L526.1,458.773 Z" fill="#000"/>
<path d="M541.9499999999999,473.65049999999997 L545.35,473.65049999999997 L543.65,476.54049999999995 Z" fill="#000"/>
<path d="M538.9499999999999,478.3569 L542.35,478.3569 L540.65,481.2469 Z" fill="#000"/>
<path d="M544.9499999999999,477.7686 L548.35,477.7686 L546.65,480.6586 Z" fill="#000"/>
<path d="M540.9499999999999,482.47499999999997 L544.35,482.47499999999997 L542.65,485.36499999999995 Z" fill="#000"/>
<text x="402.5" y="507.9" font-size="8.5" text-anchor="middle" stroke="#000">ND</text>
<text x="420" y="507.9" font-size="8.5" text-anchor="middle" stroke="#000">ND</text>
<text x="486.2" y="507.9" font-size="8.5" text-anchor="middle" stroke="#000">ND</text>
<text x="504.2" y="507.9" font-size="8.5" text-anchor="middle" stroke="#000">ND</text>
<path d="M437.5,445 V439.25 H455.5 V445" stroke="#000" stroke-width="0.9" fill="none"/>
<text x="446.8" y="439.5" font-size="11" text-anchor="middle" letter-spacing="0.6" stroke="#000">***</text>
<path d="M525.5,439.4 V432.9 H543.5 V439.4" stroke="#000" stroke-width="0.9" fill="none"/>
<text x="534.8" y="433.1" font-size="11" text-anchor="middle" letter-spacing="0.6" stroke="#000">***</text>
<text x="426.25" y="526.4" font-size="9.5" text-anchor="middle" stroke="#000">α-Syn</text>
<text x="514.8" y="525.3" font-size="9.5" text-anchor="middle" stroke="#000">p-α-syn<tspan font-size="6.5" dy="-3.8">Ser129</tspan></text>
<text x="342.1" y="469.5" font-size="9.2" text-anchor="middle" transform="rotate(-90 342.1 469.5)" stroke="#000">Relative protein level</text>
<text x="354.3" y="469.5" font-size="9.2" text-anchor="middle" transform="rotate(-90 354.3 469.5)" stroke="#000">in Triton X-100</text>
<text x="364.3" y="469.5" font-size="9.2" text-anchor="middle" transform="rotate(-90 364.3 469.5)" stroke="#000">insoluble fraction</text>
<rect x="558.4" y="422.4" width="9" height="8.6" fill="#fff" stroke="#000" stroke-width="0.8"/>
<text x="570.5" y="430.09999999999997" font-size="9.5" stroke="#000">WT + Veh</text>
<rect x="558.4" y="432.3" width="9" height="8.6" fill="#a0a0a0" stroke="#000" stroke-width="0.8"/>
<text x="570.5" y="440.0" font-size="9.5" stroke="#000">WT + NLY</text>
<rect x="558.4" y="442.09999999999997" width="9" height="8.6" fill="#e53b2c" stroke="#000" stroke-width="0.8"/>
<text x="570.5" y="449.79999999999995" font-size="9.5" stroke="#000">hA53T + Veh</text>
<rect x="558.4" y="452.8" width="9" height="8.6" fill="#34359a" stroke="#000" stroke-width="0.8"/>
<text x="570.5" y="460.5" font-size="9.5" stroke="#000">hA53T + NLY</text>
<g transform="translate(335.90000000000003 549.5) scale(0.88 1)"><text x="0" y="0" font-size="9.8" font-weight="bold" stroke="#000">k</text></g>
<line x1="390.5" y1="559.0" x2="390.5" y2="648.75" stroke="#4a4a4a" stroke-width="1.1"/>
<line x1="387.15" y1="648.5" x2="390.75" y2="648.5" stroke="#4a4a4a" stroke-width="1.1"/>
<text x="384.55" y="651.15" font-size="9.5" text-anchor="end" stroke="#000">0</text>
<line x1="387.15" y1="630.5" x2="390.75" y2="630.5" stroke="#4a4a4a" stroke-width="1.1"/>
<text x="384.55" y="633.4" font-size="9.5" text-anchor="end" stroke="#000">1.0</text>
<line x1="387.15" y1="612.5" x2="390.75" y2="612.5" stroke="#4a4a4a" stroke-width="1.1"/>
<text x="384.55" y="615.65" font-size="9.5" text-anchor="end" stroke="#000">2.0</text>
<line x1="387.15" y1="595.5" x2="390.75" y2="595.5" stroke="#4a4a4a" stroke-width="1.1"/>
<text x="384.55" y="597.9" font-size="9.5" text-anchor="end" stroke="#000">3.0</text>
<line x1="387.15" y1="577.5" x2="390.75" y2="577.5" stroke="#4a4a4a" stroke-width="1.1"/>
<text x="384.55" y="580.15" font-size="9.5" text-anchor="end" stroke="#000">4.0</text>
<line x1="387.15" y1="559.5" x2="390.75" y2="559.5" stroke="#4a4a4a" stroke-width="1.1"/>
<text x="384.55" y="562.4" font-size="9.5" text-anchor="end" stroke="#000">5.0</text>
<line x1="390.75" y1="648.5" x2="552.2" y2="648.5" stroke="#4a4a4a" stroke-width="1"/>
<line x1="437.5" y1="648.25" x2="437.5" y2="650.75" stroke="#4a4a4a" stroke-width="1"/>
<line x1="516.5" y1="648.25" x2="516.5" y2="650.75" stroke="#4a4a4a" stroke-width="1"/>
<rect x="396.25" y="629.6125" width="12.5" height="18.637500000000045" fill="#fff" stroke="#000" stroke-width="0.9"/>
<rect x="414.5" y="631.3875" width="11.75" height="16.862499999999955" fill="#9a9a9a" stroke="#000" stroke-width="0.9"/>
<rect x="432" y="574.5875" width="11.25" height="73.66250000000002" fill="#e53b2c" stroke="#000" stroke-width="0.9"/>
<rect x="446.25" y="577.25" width="11.25" height="71.0" fill="#34359a" stroke="#000" stroke-width="0.9"/>
<rect x="520.5" y="630.5" width="11.200000000000045" height="17.75" fill="#e53b2c" stroke="#000" stroke-width="0.9"/>
<rect x="538.2" y="642.0375" width="11.199999999999932" height="6.212499999999977" fill="#34359a" stroke="#000" stroke-width="0.9"/>
<line x1="402.5" y1="627.8375" x2="402.5" y2="631.3875" stroke="#000" stroke-width="0.9"/>
<line x1="399.5" y1="627.5" x2="405.5" y2="627.5" stroke="#000" stroke-width="0.9"/>
<line x1="399.5" y1="629.5" x2="405.5" y2="629.5" stroke="#000" stroke-width="0.9"/>
<line x1="420.5" y1="629.6125" x2="420.5" y2="633.1625" stroke="#000" stroke-width="0.9"/>
<line x1="417.4" y1="629.5" x2="423.4" y2="629.5" stroke="#000" stroke-width="0.9"/>
<line x1="417.4" y1="631.5" x2="423.4" y2="631.5" stroke="#000" stroke-width="0.9"/>
<line x1="437.5" y1="572.8125" x2="437.5" y2="576.3625" stroke="#000" stroke-width="0.9"/>
<line x1="434.6" y1="572.5" x2="440.6" y2="572.5" stroke="#000" stroke-width="0.9"/>
<line x1="434.6" y1="574.5" x2="440.6" y2="574.5" stroke="#000" stroke-width="0.9"/>
<line x1="451.5" y1="575.475" x2="451.5" y2="579.025" stroke="#000" stroke-width="0.9"/>
<line x1="448.9" y1="575.5" x2="454.9" y2="575.5" stroke="#000" stroke-width="0.9"/>
<line x1="448.9" y1="577.5" x2="454.9" y2="577.5" stroke="#000" stroke-width="0.9"/>
<line x1="526.5" y1="628.725" x2="526.5" y2="632.275" stroke="#000" stroke-width="0.9"/>
<line x1="523.1" y1="628.5" x2="529.1" y2="628.5" stroke="#000" stroke-width="0.9"/>
<line x1="523.1" y1="630.5" x2="529.1" y2="630.5" stroke="#000" stroke-width="0.9"/>
<line x1="543.5" y1="640.2625" x2="543.5" y2="643.8125" stroke="#000" stroke-width="0.9"/>
<line x1="540.8" y1="640.5" x2="546.8" y2="640.5" stroke="#000" stroke-width="0.9"/>
<line x1="540.8" y1="642.5" x2="546.8" y2="642.5" stroke="#000" stroke-width="0.9"/>
<circle cx="398.5" cy="626.95" r="1.5" fill="#000"/>
<circle cx="400.5" cy="629.6125" r="1.5" fill="#000"/>
<circle cx="402.5" cy="631.3875" r="1.5" fill="#000"/>
<circle cx="404.5" cy="632.275" r="1.5" fill="#000"/>
<circle cx="406.5" cy="628.725" r="1.5" fill="#000"/>
<circle cx="416.4" cy="628.725" r="1.5" fill="#000"/>
<circle cx="418.4" cy="631.3875" r="1.5" fill="#000"/>
<circle cx="420.4" cy="633.1625" r="1.5" fill="#000"/>
<circle cx="422.4" cy="634.05" r="1.5" fill="#000"/>
<circle cx="424.4" cy="630.5" r="1.5" fill="#000"/>
<path d="M433.0,573.2049999999999 L436.20000000000005,573.2049999999999 L434.6,570.4849999999999 Z" fill="#000"/>
<path d="M435.0,576.755 L438.20000000000005,576.755 L436.6,574.035 Z" fill="#000"/>
<path d="M437.0,578.53 L440.20000000000005,578.53 L438.6,575.81 Z" fill="#000"/>
<path d="M439.0,574.98 L442.20000000000005,574.98 L440.6,572.26 Z" fill="#000"/>
<path d="M447.29999999999995,573.3075 L450.5,573.3075 L448.9,576.0275 Z" fill="#000"/>
<path d="M449.29999999999995,576.8575000000001 L452.5,576.8575000000001 L450.9,579.5775000000001 Z" fill="#000"/>
<path d="M451.29999999999995,575.0825 L454.5,575.0825 L452.9,577.8025 Z" fill="#000"/>
<path d="M453.29999999999995,577.745 L456.5,577.745 L454.9,580.465 Z" fill="#000"/>
<path d="M521.5,629.1175 L524.7,629.1175 L523.1,626.3974999999999 Z" fill="#000"/>
<path d="M523.5,631.78 L526.7,631.78 L525.1,629.06 Z" fill="#000"/>
<path d="M525.5,632.6675 L528.7,632.6675 L527.1,629.9475 Z" fill="#000"/>
<path d="M527.5,630.8924999999999 L530.7,630.8924999999999 L529.1,628.1724999999999 Z" fill="#000"/>
<path d="M539.1999999999999,638.095 L542.4,638.095 L540.8,640.815 Z" fill="#000"/>
<path d="M541.1999999999999,641.645 L544.4,641.645 L542.8,644.365 Z" fill="#000"/>
<path d="M543.1999999999999,642.5325 L546.4,642.5325 L544.8,645.2525 Z" fill="#000"/>
<path d="M545.1999999999999,638.9825000000001 L548.4,638.9825000000001 L546.8,641.7025000000001 Z" fill="#000"/>
<text x="418.75" y="623" font-size="9.5" text-anchor="middle" stroke="#000">NS</text>
<text x="446.25" y="550.5" font-size="9.5" text-anchor="middle" stroke="#000">NS</text>
<path d="M437.5,559.5 V554.25 H455 V559.5" stroke="#000" stroke-width="0.9" fill="none"/>
<text x="444.5" y="568.9" font-size="9.6" text-anchor="middle" font-style="italic" stroke="#000">######</text>
<text x="490.4" y="643.3" font-size="9.5" text-anchor="middle" stroke="#000">ND</text>
<text x="506.4" y="643.3" font-size="9.5" text-anchor="middle" stroke="#000">ND</text>
<path d="M525.5,625 V619.4 H543.8 V625" stroke="#000" stroke-width="0.9" fill="none"/>
<text x="534.8" y="619.5" font-size="11" text-anchor="middle" letter-spacing="0.6" stroke="#000">***</text>
<text x="437.5" y="661.4" font-size="9.5" text-anchor="middle" stroke="#000">α-Syn</text>
<text x="516.2" y="660.4" font-size="9.5" text-anchor="middle" stroke="#000">p-α-syn<tspan font-size="6.5" dy="-3.8">Ser129</tspan></text>
<text x="342.1" y="604.8" font-size="9.2" text-anchor="middle" transform="rotate(-90 342.1 604.8)" stroke="#000">Relative protein level</text>
<text x="354.3" y="604.8" font-size="9.2" text-anchor="middle" transform="rotate(-90 354.3 604.8)" stroke="#000">in Triton X-100</text>
<text x="364.3" y="604.8" font-size="9.2" text-anchor="middle" transform="rotate(-90 364.3 604.8)" stroke="#000">soluble fraction</text>
<rect x="558.4" y="553.3000000000001" width="9" height="8.6" fill="#fff" stroke="#000" stroke-width="0.8"/>
<text x="570.5" y="561.0" font-size="9.5" stroke="#000">WT + Veh</text>
<rect x="558.4" y="562.8000000000001" width="9" height="8.6" fill="#a0a0a0" stroke="#000" stroke-width="0.8"/>
<text x="570.5" y="570.5" font-size="9.5" stroke="#000">WT + NLY</text>
<rect x="558.4" y="573.5" width="9" height="8.6" fill="#e53b2c" stroke="#000" stroke-width="0.8"/>
<text x="570.5" y="581.1999999999999" font-size="9.5" stroke="#000">hA53T + Veh</text>
<rect x="558.4" y="583.9000000000001" width="9" height="8.6" fill="#34359a" stroke="#000" stroke-width="0.8"/>
<text x="570.5" y="591.6" font-size="9.5" stroke="#000">hA53T + NLY</text>
<g transform="translate(231.2 13.1) scale(0.88 1)"><text x="0" y="0" font-size="9.8" font-weight="bold" stroke="#000">b</text></g>
<text x="318.9" y="17.5" font-size="9.5" text-anchor="middle" stroke="#000">WT</text>
<text x="430.2" y="17.8" font-size="9.5" text-anchor="middle" stroke="#000">hA53T</text>
<line x1="264.4" y1="21.5" x2="373.4" y2="21.5" stroke="#111" stroke-width="1.1"/>
<line x1="375.9" y1="21.5" x2="485.2" y2="21.5" stroke="#111" stroke-width="1.1"/>
<line x1="246.5" y1="24" x2="246.5" y2="111.6" stroke="#111" stroke-width="1.1"/>
<text x="258.3" y="45.3" font-size="9.5" text-anchor="middle" transform="rotate(-90 258.3 45.3)" stroke="#000">Vehicle</text>
<text x="258.3" y="91" font-size="9.5" text-anchor="middle" transform="rotate(-90 258.3 91)" stroke="#000">NLY</text>
<text x="235.3" y="67" font-size="9.5" text-anchor="middle" dy="3.3" transform="rotate(-90 235.3 67)" stroke="#000">p-α-syn<tspan font-size="6.5" dy="-3.8">Ser129</tspan><tspan dy="3.8">/Nissl</tspan></text>
<rect x="264.4" y="66.2" width="220.8" height="2.6" fill="#7a7a7a"/>
<g clip-path="url(#c1)">
<rect x="264.4" y="24" width="64.30000000000001" height="42.599999999999994" fill="#5f696e"/>
<path d="M282.0,32.0 L307.0,32.0 L311.0,38.0 L326.0,39.0 L326.0,67.0 L304.0,67.0 L304.0,41.0 L290.0,39.0 Z" fill="#6e5c68" filter="url(#f2)" opacity="0.75"/>
<rect x="264.4" y="24" width="64.30000000000001" height="42.599999999999994" fill="#000" filter="url(#f5)" opacity="0.3"/>
<path d="M264.4,36.0 L270.0,37.5 L275.0,41.0 L270.0,45.0 L264.4,50.0 Z" fill="#f4f2ec" filter="url(#f3)"/>
<path d="M311.0,35.5 L318.0,34.5 L325.0,36.0 L329.0,38.0 L329.0,40.0 L322.0,38.5 L314.0,37.5 Z" fill="#f6f1e0" filter="url(#f3)"/>
<text x="266.5" y="32" font-size="9.2" fill="#f0f0f0" stroke="#f0f0f0">Brainstem</text>
<path d="M277.4,43.4 L281.3,42.4 L295.1,44.7 L296.4,48.9 L293.0,57.8 L282.7,54.4 L277.4,48.2 Z" fill="none" stroke="#fff" stroke-width="1.1" stroke-dasharray="1.6 1.3" stroke-linejoin="round"/>
<rect x="267.5" y="62.5" width="8.5" height="1.7" fill="#fff"/>
</g>
<g clip-path="url(#c2)">
<rect x="264.4" y="68.6" width="64.30000000000001" height="43.0" fill="#646e70"/>
<path d="M264.0,84.0 L272.0,82.0 L284.0,84.0 L289.0,95.0 L287.0,112.0 L264.0,112.0 Z" fill="#888870" filter="url(#f2)" opacity="0.85"/>
<path d="M299.0,68.0 L312.0,68.0 L323.0,90.0 L323.0,112.0 L305.0,112.0 L301.0,90.0 Z" fill="#74606a" filter="url(#f2)" opacity="0.7"/>
<rect x="264.4" y="68.6" width="64.30000000000001" height="43.0" fill="#000" filter="url(#f6)" opacity="0.3"/>
<path d="M264,80.5 Q275,81 286,85.5" stroke="#3a3020" stroke-width="1.3" fill="none" filter="url(#f3)"/>
<path d="M264.4,78.5 L270.0,79.0 L276.0,81.5 L270.0,84.0 L264.4,85.0 Z" fill="#f4f2ec" filter="url(#f3)"/>
<path d="M314.0,78.5 L321.0,77.8 L329.0,80.0 L329.0,90.0 L323.0,85.0 Z" fill="#f4f1e6" filter="url(#f3)"/>
<path d="M282.7,86.8 L289.6,85.4 L299.2,87.5 L301.3,90.9 L298.5,101.2 L293.7,99.2 L284.0,96.4 L281.3,90.9 Z" fill="none" stroke="#fff" stroke-width="1.1" stroke-dasharray="1.6 1.3" stroke-linejoin="round"/>
</g>
<g clip-path="url(#c3)">
<rect x="330.3" y="24" width="43.099999999999966" height="42.599999999999994" fill="#ddd3ba"/>
<rect x="330.3" y="24" width="43.099999999999966" height="42.599999999999994" fill="#000" filter="url(#f7)" opacity="0.5"/>
<rect x="330.3" y="24" width="43.099999999999966" height="42.599999999999994" fill="#000" filter="url(#f8)" opacity="0.7"/>
<g filter="url(#f4)"><circle cx="348.3" cy="24.4" r="1.2" fill="#8098cc"/><circle cx="367.2" cy="63.7" r="0.9" fill="#4a66ac"/><circle cx="337.3" cy="29.3" r="1.0" fill="#5070b4"/><circle cx="356.7" cy="32.0" r="1.1" fill="#6680c4"/><circle cx="353.2" cy="55.3" r="1.1" fill="#5070b4"/><circle cx="336.7" cy="54.6" r="0.8" fill="#8098cc"/><circle cx="344.2" cy="43.5" r="0.7" fill="#4a66ac"/><circle cx="330.4" cy="64.1" r="1.2" fill="#5070b4"/><circle cx="342.7" cy="51.8" r="0.8" fill="#5070b4"/><circle cx="362.0" cy="33.9" r="1.0" fill="#8098cc"/><circle cx="365.1" cy="33.9" r="1.2" fill="#5070b4"/><circle cx="362.1" cy="56.2" r="1.1" fill="#8098cc"/><circle cx="355.7" cy="46.1" r="1.3" fill="#6680c4"/><circle cx="372.5" cy="36.8" r="1.2" fill="#6680c4"/><circle cx="336.8" cy="33.8" r="1.0" fill="#5070b4"/><circle cx="346.9" cy="24.5" r="0.7" fill="#4a66ac"/><circle cx="333.7" cy="66.4" r="1.3" fill="#6680c4"/><circle cx="363.6" cy="39.7" r="1.1" fill="#6680c4"/><circle cx="351.0" cy="26.6" r="1.1" fill="#8098cc"/><circle cx="363.6" cy="65.2" r="1.3" fill="#5070b4"/><circle cx="346.0" cy="52.2" r="0.8" fill="#5070b4"/><circle cx="333.7" cy="31.0" r="1.3" fill="#5070b4"/><circle cx="339.1" cy="30.9" r="0.8" fill="#6680c4"/><circle cx="352.7" cy="24.1" r="0.7" fill="#4a66ac"/><circle cx="368.5" cy="59.6" r="1.3" fill="#6680c4"/><circle cx="341.7" cy="56.0" r="0.7" fill="#4a66ac"/><circle cx="348.3" cy="34.4" r="1.2" fill="#6680c4"/><circle cx="346.4" cy="31.5" r="0.8" fill="#5070b4"/><circle cx="371.7" cy="45.9" r="1.0" fill="#6680c4"/><circle cx="333.2" cy="43.6" r="0.8" fill="#5070b4"/><circle cx="362.6" cy="46.6" r="0.8" fill="#8098cc"/><circle cx="335.7" cy="45.7" r="1.2" fill="#6680c4"/><circle cx="341.5" cy="42.2" r="0.9" fill="#6680c4"/><circle cx="357.4" cy="26.9" r="0.9" fill="#6680c4"/><circle cx="342.1" cy="42.9" r="0.9" fill="#8098cc"/><circle cx="349.7" cy="35.3" r="1.1" fill="#4a66ac"/><circle cx="332.5" cy="43.0" r="0.8" fill="#5070b4"/><circle cx="370.0" cy="52.8" r="1.1" fill="#6680c4"/><circle cx="331.6" cy="49.7" r="0.8" fill="#4a66ac"/><circle cx="351.4" cy="35.6" r="0.8" fill="#8098cc"/><circle cx="361.6" cy="60.1" r="0.7" fill="#8098cc"/><circle cx="346.2" cy="60.8" r="1.0" fill="#5070b4"/><circle cx="333.8" cy="58.8" r="0.8" fill="#4a66ac"/><circle cx="339.0" cy="30.4" r="1.3" fill="#6680c4"/><circle cx="364.4" cy="38.5" r="0.9" fill="#6680c4"/><circle cx="340.7" cy="44.6" r="1.0" fill="#8098cc"/><circle cx="354.9" cy="39.3" r="1.3" fill="#8098cc"/><circle cx="331.9" cy="61.1" r="0.8" fill="#5070b4"/><circle cx="354.0" cy="52.0" r="0.9" fill="#6680c4"/><circle cx="363.8" cy="30.5" r="1.0" fill="#5070b4"/><circle cx="350.0" cy="42.7" r="0.9" fill="#6680c4"/><circle cx="367.7" cy="39.1" r="1.2" fill="#6680c4"/><circle cx="344.1" cy="42.6" r="0.9" fill="#4a66ac"/><circle cx="364.8" cy="29.3" r="1.0" fill="#6680c4"/><circle cx="354.9" cy="44.7" r="0.8" fill="#5070b4"/><circle cx="331.7" cy="26.2" r="1.2" fill="#6680c4"/><circle cx="350.1" cy="44.0" r="1.0" fill="#5070b4"/><circle cx="344.5" cy="57.4" r="0.9" fill="#5070b4"/><circle cx="373.4" cy="53.2" r="1.0" fill="#5070b4"/><circle cx="369.1" cy="47.6" r="1.3" fill="#5070b4"/><circle cx="337.2" cy="55.2" r="1.2" fill="#6680c4"/><circle cx="358.3" cy="27.1" r="1.2" fill="#6680c4"/><circle cx="354.5" cy="29.2" r="0.9" fill="#5070b4"/><circle cx="339.5" cy="35.8" r="1.0" fill="#4a66ac"/><circle cx="358.9" cy="47.9" r="1.1" fill="#6680c4"/><circle cx="352.6" cy="45.8" r="1.0" fill="#8098cc"/><circle cx="340.6" cy="45.0" r="0.7" fill="#4a66ac"/><circle cx="335.1" cy="34.6" r="0.9" fill="#6680c4"/><circle cx="337.7" cy="55.0" r="1.3" fill="#4a66ac"/><circle cx="341.6" cy="61.5" r="1.2" fill="#5070b4"/><circle cx="357.4" cy="46.0" r="1.1" fill="#6680c4"/><circle cx="365.1" cy="44.4" r="0.9" fill="#5070b4"/><circle cx="364.4" cy="36.9" r="1.1" fill="#8098cc"/><circle cx="339.6" cy="47.9" r="0.9" fill="#6680c4"/><circle cx="370.0" cy="32.7" r="1.3" fill="#6680c4"/><circle cx="331.0" cy="48.0" r="1.2" fill="#5070b4"/><circle cx="344.5" cy="29.5" r="1.1" fill="#8098cc"/><circle cx="352.3" cy="25.2" r="1.0" fill="#4a66ac"/><circle cx="364.4" cy="51.3" r="1.1" fill="#4a66ac"/><circle cx="354.9" cy="66.2" r="1.0" fill="#6680c4"/><circle cx="358.7" cy="65.4" r="1.1" fill="#5070b4"/><circle cx="369.1" cy="26.0" r="0.8" fill="#6680c4"/><circle cx="341.8" cy="37.4" r="0.9" fill="#4a66ac"/><circle cx="350.9" cy="65.8" r="1.1" fill="#6680c4"/><circle cx="362.2" cy="33.8" r="1.1" fill="#4a66ac"/><circle cx="337.0" cy="24.6" r="0.8" fill="#8098cc"/><circle cx="369.7" cy="40.5" r="0.9" fill="#8098cc"/><circle cx="348.8" cy="39.1" r="1.1" fill="#4a66ac"/><circle cx="331.5" cy="52.6" r="1.0" fill="#8098cc"/><circle cx="367.5" cy="59.5" r="1.2" fill="#8098cc"/><circle cx="364.6" cy="29.6" r="1.0" fill="#6680c4"/><circle cx="350.4" cy="39.7" r="0.9" fill="#4a66ac"/><circle cx="340.0" cy="45.6" r="1.0" fill="#5070b4"/><circle cx="368.3" cy="37.6" r="0.8" fill="#5070b4"/><circle cx="353.3" cy="56.4" r="1.3" fill="#6680c4"/><circle cx="364.0" cy="29.3" r="0.7" fill="#5070b4"/><circle cx="330.3" cy="38.4" r="1.1" fill="#8098cc"/><circle cx="371.2" cy="65.5" r="0.9" fill="#8098cc"/><circle cx="347.2" cy="48.8" r="1.1" fill="#4a66ac"/><circle cx="358.0" cy="34.0" r="0.8" fill="#8098cc"/><circle cx="359.3" cy="45.3" r="0.8" fill="#5070b4"/><circle cx="360.5" cy="33.0" r="0.9" fill="#8098cc"/><circle cx="332.3" cy="63.9" r="1.2" fill="#5070b4"/><circle cx="361.0" cy="25.9" r="1.2" fill="#6680c4"/><circle cx="331.8" cy="40.1" r="1.0" fill="#6680c4"/></g>
</g>
<g clip-path="url(#c4)">
<rect x="330.3" y="68.6" width="43.099999999999966" height="43.0" fill="#ddd3ba"/>
<rect x="330.3" y="68.6" width="43.099999999999966" height="43.0" fill="#000" filter="url(#f9)" opacity="0.5"/>
<rect x="330.3" y="68.6" width="43.099999999999966" height="43.0" fill="#000" filter="url(#f10)" opacity="0.7"/>
<g filter="url(#f4)"><circle cx="337.8" cy="75.2" r="1.0" fill="#5070b4"/><circle cx="351.5" cy="73.1" r="1.1" fill="#5070b4"/><circle cx="331.3" cy="103.3" r="0.9" fill="#8098cc"/><circle cx="345.0" cy="77.7" r="0.8" fill="#8098cc"/><circle cx="347.8" cy="82.9" r="0.9" fill="#5070b4"/><circle cx="354.3" cy="74.3" r="0.7" fill="#5070b4"/><circle cx="368.4" cy="79.6" r="1.2" fill="#5070b4"/><circle cx="354.2" cy="94.4" r="1.3" fill="#8098cc"/><circle cx="342.8" cy="68.7" r="1.0" fill="#4a66ac"/><circle cx="354.1" cy="84.8" r="1.2" fill="#6680c4"/><circle cx="357.9" cy="75.9" r="1.2" fill="#5070b4"/><circle cx="333.5" cy="104.5" r="0.8" fill="#6680c4"/><circle cx="348.1" cy="109.7" r="1.1" fill="#4a66ac"/><circle cx="357.7" cy="86.0" r="0.9" fill="#5070b4"/><circle cx="365.0" cy="100.5" r="1.1" fill="#4a66ac"/><circle cx="336.6" cy="79.1" r="0.8" fill="#8098cc"/><circle cx="358.9" cy="92.6" r="1.2" fill="#8098cc"/><circle cx="339.5" cy="85.4" r="0.7" fill="#4a66ac"/><circle cx="349.7" cy="89.5" r="0.8" fill="#4a66ac"/><circle cx="339.8" cy="70.6" r="0.8" fill="#5070b4"/><circle cx="373.4" cy="107.9" r="0.7" fill="#5070b4"/><circle cx="337.9" cy="76.1" r="0.7" fill="#6680c4"/><circle cx="335.9" cy="107.8" r="1.2" fill="#6680c4"/><circle cx="341.6" cy="104.2" r="0.9" fill="#6680c4"/><circle cx="351.1" cy="93.7" r="0.9" fill="#6680c4"/><circle cx="331.4" cy="96.4" r="0.8" fill="#4a66ac"/><circle cx="372.3" cy="71.8" r="1.3" fill="#4a66ac"/><circle cx="344.4" cy="88.8" r="1.1" fill="#4a66ac"/><circle cx="367.1" cy="86.3" r="0.8" fill="#8098cc"/><circle cx="360.6" cy="78.3" r="1.3" fill="#4a66ac"/><circle cx="345.1" cy="109.9" r="1.0" fill="#8098cc"/><circle cx="335.5" cy="80.4" r="1.0" fill="#6680c4"/><circle cx="334.8" cy="85.9" r="0.9" fill="#4a66ac"/><circle cx="358.3" cy="78.9" r="0.9" fill="#6680c4"/><circle cx="336.6" cy="75.9" r="0.8" fill="#6680c4"/><circle cx="338.4" cy="86.1" r="0.7" fill="#4a66ac"/><circle cx="348.4" cy="82.8" r="0.9" fill="#8098cc"/><circle cx="369.9" cy="70.9" r="1.1" fill="#6680c4"/><circle cx="346.1" cy="69.1" r="1.2" fill="#4a66ac"/><circle cx="358.8" cy="103.8" r="0.8" fill="#4a66ac"/><circle cx="349.0" cy="74.3" r="0.7" fill="#5070b4"/><circle cx="365.3" cy="87.5" r="1.3" fill="#4a66ac"/><circle cx="331.5" cy="82.3" r="0.9" fill="#8098cc"/><circle cx="348.1" cy="92.1" r="0.9" fill="#8098cc"/><circle cx="348.6" cy="76.3" r="0.8" fill="#4a66ac"/><circle cx="361.8" cy="93.2" r="0.8" fill="#8098cc"/><circle cx="353.7" cy="103.2" r="1.0" fill="#8098cc"/><circle cx="360.1" cy="91.5" r="1.1" fill="#8098cc"/><circle cx="333.5" cy="88.3" r="1.0" fill="#4a66ac"/><circle cx="361.8" cy="93.3" r="1.0" fill="#5070b4"/><circle cx="365.5" cy="88.4" r="1.0" fill="#4a66ac"/><circle cx="371.2" cy="72.8" r="0.7" fill="#8098cc"/><circle cx="361.8" cy="108.0" r="1.2" fill="#6680c4"/><circle cx="372.0" cy="97.3" r="1.1" fill="#5070b4"/><circle cx="346.4" cy="105.2" r="0.7" fill="#6680c4"/><circle cx="342.8" cy="85.6" r="1.0" fill="#5070b4"/><circle cx="339.0" cy="106.0" r="0.9" fill="#8098cc"/><circle cx="348.5" cy="79.1" r="0.8" fill="#4a66ac"/><circle cx="368.4" cy="68.7" r="0.8" fill="#5070b4"/><circle cx="364.5" cy="87.7" r="0.8" fill="#6680c4"/><circle cx="371.0" cy="99.0" r="1.3" fill="#4a66ac"/><circle cx="336.3" cy="88.7" r="1.1" fill="#8098cc"/><circle cx="356.8" cy="82.5" r="0.8" fill="#5070b4"/><circle cx="367.8" cy="101.9" r="0.8" fill="#4a66ac"/><circle cx="355.2" cy="106.8" r="1.2" fill="#8098cc"/><circle cx="339.4" cy="72.3" r="0.8" fill="#5070b4"/><circle cx="335.3" cy="96.2" r="1.0" fill="#6680c4"/><circle cx="364.9" cy="73.9" r="1.1" fill="#5070b4"/><circle cx="345.0" cy="102.2" r="1.0" fill="#4a66ac"/><circle cx="362.7" cy="80.0" r="1.0" fill="#6680c4"/><circle cx="368.4" cy="105.8" r="1.2" fill="#6680c4"/><circle cx="362.6" cy="94.8" r="1.2" fill="#6680c4"/><circle cx="333.0" cy="94.1" r="1.2" fill="#8098cc"/><circle cx="361.7" cy="87.9" r="0.7" fill="#6680c4"/><circle cx="354.6" cy="72.6" r="0.9" fill="#4a66ac"/><circle cx="364.9" cy="82.6" r="1.2" fill="#6680c4"/><circle cx="354.2" cy="77.2" r="1.1" fill="#5070b4"/><circle cx="336.1" cy="93.8" r="1.3" fill="#5070b4"/><circle cx="362.7" cy="105.5" r="0.9" fill="#4a66ac"/><circle cx="368.9" cy="109.5" r="1.3" fill="#8098cc"/><circle cx="369.9" cy="87.8" r="1.2" fill="#4a66ac"/><circle cx="361.7" cy="110.9" r="1.1" fill="#8098cc"/><circle cx="370.1" cy="87.1" r="1.3" fill="#4a66ac"/><circle cx="367.2" cy="76.5" r="1.0" fill="#6680c4"/><circle cx="356.4" cy="99.9" r="1.0" fill="#8098cc"/><circle cx="348.7" cy="89.4" r="1.2" fill="#8098cc"/><circle cx="367.4" cy="77.9" r="1.1" fill="#6680c4"/><circle cx="358.3" cy="84.7" r="0.8" fill="#8098cc"/><circle cx="347.7" cy="90.5" r="1.1" fill="#4a66ac"/><circle cx="364.4" cy="72.2" r="0.9" fill="#6680c4"/><circle cx="354.7" cy="101.0" r="0.7" fill="#6680c4"/><circle cx="367.3" cy="92.6" r="1.3" fill="#5070b4"/><circle cx="343.8" cy="110.8" r="0.8" fill="#5070b4"/><circle cx="358.5" cy="94.4" r="1.1" fill="#4a66ac"/><circle cx="336.8" cy="84.5" r="1.1" fill="#4a66ac"/><circle cx="361.3" cy="97.7" r="0.7" fill="#8098cc"/><circle cx="344.0" cy="72.9" r="0.7" fill="#8098cc"/><circle cx="346.4" cy="104.4" r="0.9" fill="#6680c4"/><circle cx="349.4" cy="108.8" r="1.0" fill="#4a66ac"/><circle cx="330.8" cy="73.6" r="0.7" fill="#6680c4"/><circle cx="368.7" cy="101.0" r="1.2" fill="#8098cc"/><circle cx="362.0" cy="72.6" r="1.3" fill="#4a66ac"/><circle cx="333.3" cy="82.7" r="1.1" fill="#6680c4"/><circle cx="356.7" cy="83.1" r="1.3" fill="#5070b4"/><circle cx="347.9" cy="96.9" r="0.9" fill="#8098cc"/></g>
</g>
<text x="332.2" y="32.5" font-size="9.2" fill="#111" stroke="#111">LVe</text>
<rect x="332.8" y="62.6" width="6" height="1.7" fill="#fff"/>
<g clip-path="url(#c5)">
<rect x="375.9" y="24" width="65.0" height="42.599999999999994" fill="#8e8f79"/>
<path d="M400.0,66.6 L416.0,50.0 L430.0,44.0 L441.0,46.0 L441.0,66.6 Z" fill="#8a7c82" filter="url(#f2)" opacity="0.5"/>
<rect x="375.9" y="24" width="65.0" height="42.599999999999994" fill="#000" filter="url(#f11)" opacity="0.3"/>
<path d="M376.0,33.0 L379.0,29.0 L381.0,30.0 L383.0,37.0 L391.0,41.0 L388.0,44.0 L380.0,46.0 L376.0,48.0 Z" fill="#faf8f0" filter="url(#f3)"/>
<path d="M426.0,38.5 L432.0,40.0 L440.0,44.5 L440.0,47.5 L434.0,45.0 Z" fill="#f7f3e4" filter="url(#f3)"/>
<path d="M392.7,42.7 L405.1,41.3 L412.0,44.1 L411.3,51.7 L408.6,55.8 L399.6,53.0 L394.1,49.6 Z" fill="none" stroke="#fff" stroke-width="1.1" stroke-dasharray="1.6 1.3" stroke-linejoin="round"/>
</g>
<g clip-path="url(#c6)">
<rect x="375.9" y="68.6" width="65.0" height="43.0" fill="#8a8e7a"/>
<path d="M408.0,112.0 L414.0,96.0 L424.0,90.0 L432.0,96.0 L430.0,112.0 Z" fill="#8a7a80" filter="url(#f2)" opacity="0.6"/>
<rect x="375.9" y="68.6" width="65.0" height="43.0" fill="#000" filter="url(#f12)" opacity="0.3"/>
<path d="M376.0,74.5 L383.0,75.0 L388.0,79.0 L394.0,84.0 L392.0,89.0 L384.0,89.5 L376.0,88.0 Z" fill="#c9b070" filter="url(#f3)"/>
<path d="M377.0,80.0 L383.0,81.0 L391.0,85.0 L389.0,88.5 L377.0,88.5 Z" fill="#fbf8ee" filter="url(#f3)"/>
<path d="M416,82.7 Q432,84 440,98" stroke="#a88a40" stroke-width="2.2" fill="none"/>
<path d="M418,83.6 Q432,85.5 439.5,97" stroke="#f0ead8" stroke-width="0.8" fill="none"/>
<path d="M438.5,75.0 L441.0,74.0 L441.0,83.0 L438.5,82.0 Z" fill="#2d3f8f" filter="url(#f3)"/>
<path d="M393.4,91.0 L403.7,89.6 L412.0,92.3 L412.7,99.2 L408.6,104.8 L399.6,102.0 L394.1,98.6 Z" fill="none" stroke="#fff" stroke-width="1.1" stroke-dasharray="1.6 1.3" stroke-linejoin="round"/>
</g>
<g clip-path="url(#c7)">
<rect x="442.2" y="24" width="43.0" height="42.599999999999994" fill="#ddd4bc"/>
<rect x="442.2" y="24" width="43.0" height="42.599999999999994" fill="#000" filter="url(#f13)" opacity="0.5"/>
<rect x="442.2" y="24" width="43.0" height="42.599999999999994" fill="#000" filter="url(#f14)" opacity="0.7"/>
<g filter="url(#f4)"><circle cx="476.3" cy="63.0" r="1.2" fill="#8098cc"/><circle cx="442.5" cy="58.3" r="0.7" fill="#8098cc"/><circle cx="485.0" cy="54.6" r="1.1" fill="#6680c4"/><circle cx="477.0" cy="66.1" r="1.1" fill="#8098cc"/><circle cx="478.5" cy="66.4" r="0.7" fill="#4a66ac"/><circle cx="478.5" cy="36.1" r="0.7" fill="#6680c4"/><circle cx="483.4" cy="51.2" r="1.2" fill="#5070b4"/><circle cx="474.7" cy="24.1" r="1.1" fill="#5070b4"/><circle cx="450.7" cy="31.9" r="0.9" fill="#8098cc"/><circle cx="445.4" cy="24.9" r="0.9" fill="#6680c4"/><circle cx="462.2" cy="35.2" r="1.0" fill="#5070b4"/><circle cx="460.4" cy="32.6" r="1.2" fill="#4a66ac"/><circle cx="467.4" cy="43.8" r="0.9" fill="#8098cc"/><circle cx="476.7" cy="34.8" r="1.1" fill="#4a66ac"/><circle cx="460.2" cy="65.8" r="0.8" fill="#8098cc"/><circle cx="478.8" cy="34.7" r="0.9" fill="#8098cc"/><circle cx="470.2" cy="45.5" r="1.1" fill="#4a66ac"/><circle cx="476.1" cy="51.4" r="0.9" fill="#6680c4"/><circle cx="458.9" cy="34.9" r="0.9" fill="#8098cc"/><circle cx="458.8" cy="30.8" r="1.3" fill="#5070b4"/><circle cx="452.5" cy="60.4" r="0.9" fill="#6680c4"/><circle cx="457.7" cy="34.6" r="1.1" fill="#8098cc"/><circle cx="476.1" cy="42.9" r="1.1" fill="#8098cc"/><circle cx="478.8" cy="27.2" r="1.1" fill="#4a66ac"/><circle cx="471.2" cy="61.1" r="1.0" fill="#5070b4"/><circle cx="478.8" cy="49.7" r="1.1" fill="#8098cc"/><circle cx="451.7" cy="58.4" r="1.0" fill="#5070b4"/><circle cx="474.7" cy="63.9" r="0.7" fill="#6680c4"/><circle cx="481.5" cy="58.5" r="0.8" fill="#6680c4"/><circle cx="484.3" cy="55.5" r="1.0" fill="#8098cc"/><circle cx="474.4" cy="54.1" r="1.3" fill="#6680c4"/><circle cx="481.6" cy="27.4" r="1.2" fill="#4a66ac"/><circle cx="447.9" cy="37.1" r="1.0" fill="#8098cc"/><circle cx="462.6" cy="29.5" r="1.2" fill="#4a66ac"/><circle cx="465.7" cy="62.3" r="0.9" fill="#4a66ac"/><circle cx="480.4" cy="24.1" r="0.9" fill="#8098cc"/><circle cx="482.9" cy="24.3" r="0.9" fill="#4a66ac"/><circle cx="476.5" cy="30.8" r="1.3" fill="#6680c4"/><circle cx="476.4" cy="64.3" r="1.0" fill="#4a66ac"/><circle cx="478.2" cy="32.7" r="1.0" fill="#8098cc"/><circle cx="484.3" cy="40.4" r="1.1" fill="#8098cc"/><circle cx="446.3" cy="51.0" r="1.1" fill="#6680c4"/><circle cx="482.6" cy="38.4" r="1.2" fill="#6680c4"/><circle cx="463.7" cy="63.0" r="0.8" fill="#4a66ac"/><circle cx="484.2" cy="26.7" r="1.1" fill="#8098cc"/><circle cx="448.3" cy="47.8" r="1.2" fill="#8098cc"/><circle cx="482.6" cy="42.0" r="1.1" fill="#6680c4"/><circle cx="482.0" cy="66.5" r="0.9" fill="#5070b4"/><circle cx="473.2" cy="65.7" r="1.0" fill="#5070b4"/><circle cx="456.5" cy="56.6" r="1.1" fill="#8098cc"/><circle cx="450.4" cy="47.5" r="0.7" fill="#6680c4"/><circle cx="443.2" cy="47.0" r="0.8" fill="#8098cc"/><circle cx="475.9" cy="55.7" r="1.3" fill="#8098cc"/><circle cx="445.9" cy="40.8" r="1.3" fill="#5070b4"/><circle cx="449.6" cy="25.8" r="1.2" fill="#5070b4"/><circle cx="456.1" cy="51.0" r="1.0" fill="#6680c4"/><circle cx="473.7" cy="32.3" r="1.2" fill="#8098cc"/><circle cx="461.2" cy="24.5" r="0.8" fill="#4a66ac"/><circle cx="444.3" cy="48.4" r="0.7" fill="#6680c4"/><circle cx="459.6" cy="52.0" r="0.9" fill="#6680c4"/><circle cx="456.1" cy="26.5" r="1.2" fill="#6680c4"/><circle cx="447.4" cy="45.9" r="1.2" fill="#4a66ac"/><circle cx="476.2" cy="41.8" r="1.3" fill="#5070b4"/><circle cx="482.6" cy="62.7" r="1.0" fill="#6680c4"/><circle cx="482.1" cy="47.9" r="1.1" fill="#4a66ac"/><circle cx="455.7" cy="58.9" r="1.1" fill="#5070b4"/><circle cx="476.0" cy="51.5" r="1.0" fill="#8098cc"/><circle cx="459.7" cy="64.1" r="1.0" fill="#6680c4"/><circle cx="477.5" cy="45.3" r="1.2" fill="#8098cc"/><circle cx="451.7" cy="39.5" r="0.8" fill="#4a66ac"/><circle cx="479.4" cy="27.4" r="1.3" fill="#8098cc"/><circle cx="478.4" cy="44.0" r="1.1" fill="#4a66ac"/><circle cx="484.3" cy="39.4" r="0.7" fill="#5070b4"/><circle cx="473.8" cy="35.9" r="0.7" fill="#5070b4"/><circle cx="454.3" cy="53.7" r="1.1" fill="#4a66ac"/><circle cx="458.2" cy="57.6" r="1.0" fill="#6680c4"/><circle cx="443.5" cy="54.2" r="0.9" fill="#6680c4"/><circle cx="459.9" cy="35.8" r="1.2" fill="#5070b4"/><circle cx="483.3" cy="49.1" r="1.3" fill="#6680c4"/><circle cx="473.8" cy="48.0" r="0.9" fill="#8098cc"/><circle cx="482.0" cy="64.5" r="0.9" fill="#5070b4"/><circle cx="477.3" cy="52.4" r="0.9" fill="#5070b4"/><circle cx="469.1" cy="24.2" r="1.2" fill="#5070b4"/><circle cx="465.8" cy="39.8" r="1.1" fill="#6680c4"/><circle cx="475.1" cy="65.0" r="1.0" fill="#5070b4"/><circle cx="481.5" cy="52.4" r="1.1" fill="#5070b4"/><circle cx="477.1" cy="49.9" r="0.7" fill="#5070b4"/><circle cx="458.6" cy="30.0" r="0.8" fill="#6680c4"/><circle cx="477.6" cy="65.5" r="0.9" fill="#8098cc"/><circle cx="450.0" cy="48.6" r="1.2" fill="#4a66ac"/><circle cx="462.0" cy="44.7" r="1.0" fill="#6680c4"/><circle cx="485.1" cy="37.6" r="0.9" fill="#8098cc"/><circle cx="451.9" cy="39.5" r="1.0" fill="#4a66ac"/><circle cx="446.7" cy="38.2" r="1.2" fill="#5070b4"/><circle cx="460.3" cy="25.8" r="0.7" fill="#5070b4"/><circle cx="458.3" cy="31.3" r="0.9" fill="#6680c4"/><circle cx="454.9" cy="52.3" r="1.2" fill="#4a66ac"/><circle cx="450.8" cy="46.3" r="0.9" fill="#6680c4"/><circle cx="466.5" cy="55.1" r="0.8" fill="#8098cc"/><circle cx="449.8" cy="27.7" r="1.2" fill="#6680c4"/><circle cx="458.7" cy="29.9" r="0.7" fill="#6680c4"/><circle cx="450.1" cy="58.1" r="0.8" fill="#4a66ac"/><circle cx="480.4" cy="54.2" r="0.8" fill="#8098cc"/><circle cx="448.2" cy="24.2" r="0.9" fill="#5070b4"/><circle cx="472.8" cy="36.1" r="0.8" fill="#5070b4"/></g>
<g filter="url(#f4)"><circle cx="468.2" cy="43.3" r="1.6" fill="#2a2a50"/><circle cx="467.2" cy="43.2" r="1.3" fill="#2a2a50"/><circle cx="450.1" cy="41.5" r="1.3" fill="#2a3a90"/><circle cx="446.7" cy="45.0" r="1.3" fill="#1a2470"/><circle cx="447.3" cy="38.4" r="1.1" fill="#1c1c2a"/><circle cx="471.5" cy="47.0" r="1.4" fill="#2a2a50"/><circle cx="463.2" cy="28.9" r="1.8" fill="#1a2470"/><circle cx="479.6" cy="36.1" r="1.5" fill="#101840"/><circle cx="449.8" cy="36.6" r="1.8" fill="#3a4aa0"/><circle cx="478.9" cy="41.7" r="1.3" fill="#1a2470"/><circle cx="472.1" cy="36.4" r="1.4" fill="#1c1c2a"/><circle cx="480.7" cy="48.6" r="1.3" fill="#2a3a90"/><circle cx="483.2" cy="55.1" r="1.2" fill="#1a2470"/><circle cx="456.4" cy="61.3" r="1.8" fill="#2a3a90"/><circle cx="480.8" cy="54.2" r="1.3" fill="#2a2a50"/><circle cx="462.8" cy="29.2" r="1.3" fill="#1a2470"/><circle cx="465.3" cy="63.4" r="1.4" fill="#2a3a90"/><circle cx="472.3" cy="41.0" r="1.4" fill="#2a3a90"/><circle cx="467.6" cy="58.7" r="1.5" fill="#3a4aa0"/><circle cx="480.0" cy="28.8" r="1.7" fill="#1a2470"/><circle cx="444.9" cy="42.1" r="1.7" fill="#2a2a50"/><circle cx="449.0" cy="29.3" r="1.7" fill="#2a2a50"/><circle cx="483.3" cy="46.1" r="1.1" fill="#1a2470"/><circle cx="455.5" cy="43.4" r="1.5" fill="#101840"/><circle cx="470.0" cy="62.2" r="1.6" fill="#1a2470"/><circle cx="459.6" cy="29.9" r="1.6" fill="#2a3a90"/></g>
<g filter="url(#f3)" opacity="0.9"><circle cx="452.3" cy="30.3" r="1.0" fill="#f0f0ea"/><circle cx="461.7" cy="63.2" r="1.2" fill="#fbfaf4"/><circle cx="466.4" cy="42.6" r="1.4" fill="#f0f0ea"/><circle cx="453.7" cy="44.6" r="1.3" fill="#fbfaf4"/><circle cx="474.3" cy="62.9" r="1.5" fill="#f0f0ea"/><circle cx="480.1" cy="29.0" r="1.4" fill="#fbfaf4"/><circle cx="460.6" cy="48.6" r="1.0" fill="#fbfaf4"/><circle cx="456.0" cy="30.8" r="1.1" fill="#f0f0ea"/><circle cx="450.1" cy="27.4" r="1.3" fill="#f0f0ea"/><circle cx="461.3" cy="44.6" r="1.1" fill="#f0f0ea"/><circle cx="482.8" cy="43.0" r="1.0" fill="#fbfaf4"/><circle cx="466.9" cy="55.6" r="1.4" fill="#f0f0ea"/><circle cx="445.2" cy="45.8" r="1.1" fill="#fbfaf4"/><circle cx="454.6" cy="53.1" r="0.9" fill="#fbfaf4"/></g>
<ellipse cx="467.6" cy="31.9" rx="2.0" ry="1.7" fill="#1a1f40" filter="url(#f3)"/>
<ellipse cx="472.8" cy="31" rx="2.0" ry="1.7" fill="#222" filter="url(#f3)"/>
<ellipse cx="479.7" cy="37.9" rx="2.0" ry="1.7" fill="#1c2a8a" filter="url(#f3)"/>
<ellipse cx="452.9" cy="41.4" rx="2.0" ry="1.7" fill="#1a2070" filter="url(#f3)"/>
<ellipse cx="467.6" cy="39.7" rx="2.0" ry="1.7" fill="#20307a" filter="url(#f3)"/>
<ellipse cx="447.8" cy="46.6" rx="2.0" ry="1.7" fill="#1f2d85" filter="url(#f3)"/>
<ellipse cx="471" cy="45.7" rx="2.0" ry="1.7" fill="#181c50" filter="url(#f3)"/>
<ellipse cx="477" cy="45.7" rx="2.0" ry="1.7" fill="#1f2f90" filter="url(#f3)"/>
<ellipse cx="465.9" cy="61.2" rx="2.0" ry="1.7" fill="#1a2a80" filter="url(#f3)"/>
<ellipse cx="476.2" cy="59.5" rx="2.0" ry="1.7" fill="#222" filter="url(#f3)"/>
<ellipse cx="457.2" cy="51.7" rx="2.0" ry="1.7" fill="#304090" filter="url(#f3)"/>
<ellipse cx="480.5" cy="50" rx="2.0" ry="1.7" fill="#1a2a80" filter="url(#f3)"/>
<ellipse cx="460" cy="33" rx="2.0" ry="1.7" fill="#2a3a8a" filter="url(#f3)"/>
<ellipse cx="449" cy="36" rx="2.0" ry="1.7" fill="#3a4a95" filter="url(#f3)"/>
</g>
<g clip-path="url(#c8)">
<rect x="442.2" y="68.6" width="43.0" height="43.0" fill="#ddd4bc"/>
<rect x="442.2" y="68.6" width="43.0" height="43.0" fill="#000" filter="url(#f15)" opacity="0.5"/>
<rect x="442.2" y="68.6" width="43.0" height="43.0" fill="#000" filter="url(#f16)" opacity="0.7"/>
<g filter="url(#f4)"><circle cx="464.4" cy="91.9" r="1.2" fill="#6680c4"/><circle cx="477.3" cy="76.7" r="1.0" fill="#8098cc"/><circle cx="453.7" cy="102.3" r="0.7" fill="#8098cc"/><circle cx="475.7" cy="69.1" r="0.7" fill="#4a66ac"/><circle cx="472.6" cy="98.8" r="1.0" fill="#5070b4"/><circle cx="453.5" cy="76.7" r="1.0" fill="#8098cc"/><circle cx="484.3" cy="68.9" r="0.8" fill="#8098cc"/><circle cx="465.6" cy="80.4" r="0.9" fill="#8098cc"/><circle cx="466.1" cy="82.1" r="1.2" fill="#4a66ac"/><circle cx="453.9" cy="102.2" r="0.9" fill="#8098cc"/><circle cx="482.9" cy="94.5" r="1.2" fill="#4a66ac"/><circle cx="477.5" cy="87.8" r="1.2" fill="#8098cc"/><circle cx="481.7" cy="106.4" r="1.3" fill="#5070b4"/><circle cx="471.6" cy="81.0" r="0.8" fill="#5070b4"/><circle cx="459.3" cy="100.5" r="1.2" fill="#5070b4"/><circle cx="465.5" cy="87.5" r="0.8" fill="#4a66ac"/><circle cx="455.3" cy="70.5" r="1.2" fill="#6680c4"/><circle cx="444.2" cy="88.1" r="0.9" fill="#8098cc"/><circle cx="481.6" cy="86.0" r="0.9" fill="#4a66ac"/><circle cx="459.0" cy="102.2" r="0.8" fill="#6680c4"/><circle cx="451.2" cy="81.9" r="1.1" fill="#8098cc"/><circle cx="448.6" cy="104.3" r="1.2" fill="#5070b4"/><circle cx="461.3" cy="110.5" r="0.7" fill="#6680c4"/><circle cx="463.1" cy="91.5" r="0.9" fill="#6680c4"/><circle cx="479.3" cy="73.1" r="0.7" fill="#4a66ac"/><circle cx="446.6" cy="98.4" r="1.2" fill="#6680c4"/><circle cx="483.5" cy="93.9" r="1.0" fill="#4a66ac"/><circle cx="452.6" cy="74.0" r="1.1" fill="#5070b4"/><circle cx="470.7" cy="89.1" r="1.2" fill="#8098cc"/><circle cx="450.3" cy="70.4" r="1.1" fill="#4a66ac"/><circle cx="443.9" cy="105.0" r="0.8" fill="#8098cc"/><circle cx="468.0" cy="94.4" r="1.0" fill="#6680c4"/><circle cx="448.1" cy="81.6" r="0.8" fill="#6680c4"/><circle cx="473.9" cy="72.8" r="1.1" fill="#6680c4"/><circle cx="472.9" cy="69.5" r="1.2" fill="#6680c4"/><circle cx="455.1" cy="96.6" r="1.3" fill="#6680c4"/><circle cx="443.4" cy="71.0" r="1.0" fill="#8098cc"/><circle cx="455.1" cy="96.9" r="1.1" fill="#5070b4"/><circle cx="478.8" cy="81.2" r="1.0" fill="#4a66ac"/><circle cx="475.8" cy="80.7" r="1.2" fill="#8098cc"/><circle cx="479.0" cy="77.1" r="0.7" fill="#4a66ac"/><circle cx="446.0" cy="107.0" r="1.0" fill="#8098cc"/><circle cx="480.2" cy="85.8" r="0.9" fill="#4a66ac"/><circle cx="455.7" cy="74.3" r="1.2" fill="#8098cc"/><circle cx="456.0" cy="103.3" r="1.1" fill="#4a66ac"/><circle cx="448.7" cy="105.9" r="1.2" fill="#6680c4"/><circle cx="470.9" cy="76.0" r="0.8" fill="#4a66ac"/><circle cx="446.4" cy="93.7" r="1.3" fill="#6680c4"/><circle cx="481.4" cy="92.2" r="0.8" fill="#4a66ac"/><circle cx="454.1" cy="108.7" r="0.7" fill="#4a66ac"/><circle cx="473.5" cy="68.6" r="1.3" fill="#6680c4"/><circle cx="480.1" cy="71.7" r="1.0" fill="#8098cc"/><circle cx="463.6" cy="76.6" r="0.9" fill="#4a66ac"/><circle cx="457.3" cy="91.5" r="1.0" fill="#6680c4"/><circle cx="450.1" cy="74.6" r="1.1" fill="#6680c4"/><circle cx="478.7" cy="102.2" r="0.9" fill="#6680c4"/><circle cx="451.1" cy="106.7" r="0.8" fill="#5070b4"/><circle cx="466.9" cy="87.5" r="1.2" fill="#6680c4"/><circle cx="467.0" cy="108.2" r="0.7" fill="#4a66ac"/><circle cx="462.7" cy="95.6" r="0.9" fill="#6680c4"/><circle cx="467.1" cy="111.2" r="1.0" fill="#5070b4"/><circle cx="468.8" cy="104.3" r="1.2" fill="#4a66ac"/><circle cx="483.6" cy="89.9" r="0.8" fill="#5070b4"/><circle cx="454.8" cy="73.5" r="0.9" fill="#6680c4"/><circle cx="443.7" cy="98.7" r="0.9" fill="#4a66ac"/><circle cx="469.9" cy="103.7" r="0.7" fill="#8098cc"/><circle cx="482.2" cy="102.5" r="1.2" fill="#6680c4"/><circle cx="483.5" cy="101.1" r="1.1" fill="#8098cc"/><circle cx="482.4" cy="103.2" r="1.2" fill="#8098cc"/><circle cx="449.7" cy="88.6" r="1.0" fill="#4a66ac"/><circle cx="464.5" cy="78.8" r="1.3" fill="#4a66ac"/><circle cx="443.7" cy="92.6" r="0.9" fill="#5070b4"/><circle cx="443.5" cy="101.4" r="1.1" fill="#6680c4"/><circle cx="467.9" cy="89.5" r="1.2" fill="#4a66ac"/><circle cx="446.0" cy="95.0" r="0.9" fill="#5070b4"/><circle cx="483.4" cy="106.8" r="1.0" fill="#5070b4"/><circle cx="448.7" cy="72.4" r="1.2" fill="#4a66ac"/><circle cx="447.3" cy="80.7" r="1.1" fill="#6680c4"/><circle cx="476.1" cy="89.1" r="1.0" fill="#6680c4"/><circle cx="452.9" cy="100.7" r="0.8" fill="#4a66ac"/><circle cx="449.7" cy="88.6" r="0.9" fill="#8098cc"/><circle cx="469.3" cy="102.5" r="0.9" fill="#8098cc"/><circle cx="459.2" cy="102.2" r="0.7" fill="#4a66ac"/><circle cx="460.9" cy="98.0" r="0.8" fill="#4a66ac"/><circle cx="459.7" cy="82.5" r="1.2" fill="#4a66ac"/><circle cx="464.0" cy="68.8" r="0.8" fill="#4a66ac"/><circle cx="478.6" cy="96.5" r="0.8" fill="#8098cc"/><circle cx="473.3" cy="95.6" r="1.1" fill="#4a66ac"/><circle cx="442.5" cy="107.5" r="0.8" fill="#5070b4"/><circle cx="466.4" cy="77.0" r="0.9" fill="#6680c4"/><circle cx="462.5" cy="94.6" r="1.0" fill="#5070b4"/><circle cx="471.0" cy="85.1" r="1.0" fill="#5070b4"/><circle cx="466.1" cy="102.9" r="1.0" fill="#4a66ac"/><circle cx="476.0" cy="84.7" r="1.3" fill="#6680c4"/><circle cx="472.4" cy="77.7" r="0.8" fill="#6680c4"/><circle cx="456.9" cy="92.7" r="1.0" fill="#8098cc"/><circle cx="448.9" cy="109.9" r="0.8" fill="#4a66ac"/><circle cx="448.2" cy="70.8" r="1.1" fill="#6680c4"/><circle cx="449.4" cy="81.5" r="1.2" fill="#4a66ac"/><circle cx="445.1" cy="93.3" r="1.2" fill="#6680c4"/><circle cx="481.2" cy="103.5" r="0.9" fill="#6680c4"/><circle cx="452.5" cy="90.3" r="1.0" fill="#4a66ac"/><circle cx="446.1" cy="95.4" r="0.9" fill="#4a66ac"/><circle cx="462.5" cy="107.6" r="1.0" fill="#8098cc"/><circle cx="446.5" cy="105.6" r="1.1" fill="#4a66ac"/></g>
<g filter="url(#f4)"><circle cx="474.4" cy="84.7" r="1.0" fill="#1a2470"/><circle cx="478.6" cy="105.4" r="1.0" fill="#3a4aa0"/><circle cx="455.2" cy="94.8" r="1.2" fill="#3a4aa0"/><circle cx="462.2" cy="73.9" r="1.5" fill="#1c1c2a"/><circle cx="468.9" cy="86.0" r="1.1" fill="#1c1c2a"/><circle cx="455.2" cy="91.7" r="1.1" fill="#3a4aa0"/><circle cx="468.0" cy="76.6" r="1.5" fill="#2a3a90"/><circle cx="471.3" cy="93.0" r="1.4" fill="#3a4aa0"/></g>
<ellipse cx="465.9" cy="82.8" rx="2.0" ry="1.7" fill="#1a2a80" filter="url(#f3)"/>
<ellipse cx="473.6" cy="79.3" rx="2.0" ry="1.7" fill="#222" filter="url(#f3)"/>
<ellipse cx="465" cy="88.8" rx="2.0" ry="1.7" fill="#1f2a90" filter="url(#f3)"/>
<ellipse cx="460.7" cy="100" rx="2.0" ry="1.7" fill="#303a70" filter="url(#f3)"/>
<ellipse cx="476.2" cy="74.1" rx="2.0" ry="1.7" fill="#333" filter="url(#f3)"/>
<ellipse cx="455" cy="92" rx="2.0" ry="1.7" fill="#3a4a95" filter="url(#f3)"/>
<ellipse cx="478" cy="95" rx="2.0" ry="1.7" fill="#3a4a95" filter="url(#f3)"/>
</g>
<rect x="264.4" y="24" width="64.30000000000001" height="42.599999999999994" fill="none" stroke="#2a2a2a" stroke-width="0.8"/>
<rect x="264.4" y="68.6" width="64.30000000000001" height="43.0" fill="none" stroke="#2a2a2a" stroke-width="0.8"/>
<rect x="330.3" y="24" width="43.099999999999966" height="42.599999999999994" fill="none" stroke="#2a2a2a" stroke-width="0.8"/>
<rect x="330.3" y="68.6" width="43.099999999999966" height="43.0" fill="none" stroke="#2a2a2a" stroke-width="0.8"/>
<rect x="375.9" y="24" width="65.0" height="42.599999999999994" fill="none" stroke="#2a2a2a" stroke-width="0.8"/>
<rect x="375.9" y="68.6" width="65.0" height="43.0" fill="none" stroke="#2a2a2a" stroke-width="0.8"/>
<rect x="442.2" y="24" width="43.0" height="42.599999999999994" fill="none" stroke="#2a2a2a" stroke-width="0.8"/>
<rect x="442.2" y="68.6" width="43.0" height="43.0" fill="none" stroke="#2a2a2a" stroke-width="0.8"/>
<g transform="translate(230.4 130.8) scale(0.88 1)"><text x="0" y="0" font-size="9.8" font-weight="bold" stroke="#000">d</text></g>
<text x="318.9" y="135.2" font-size="9.5" text-anchor="middle" stroke="#000">WT</text>
<text x="430.2" y="135.2" font-size="9.5" text-anchor="middle" stroke="#000">hA53T</text>
<rect x="264.4" y="138.0" width="109.0" height="2.0" fill="#6a6a6a"/>
<rect x="375.9" y="138.0" width="109.30000000000001" height="2.0" fill="#6a6a6a"/>
<line x1="246.5" y1="141.3" x2="246.5" y2="228.8" stroke="#111" stroke-width="1.1"/>
<text x="258.3" y="163.8" font-size="9.5" text-anchor="middle" transform="rotate(-90 258.3 163.8)" stroke="#000">Vehicle</text>
<text x="258.3" y="207.2" font-size="9.5" text-anchor="middle" transform="rotate(-90 258.3 207.2)" stroke="#000">NLY</text>
<text x="234.4" y="186.3" font-size="9.5" text-anchor="middle" dy="3.3" transform="rotate(-90 234.4 186.3)" stroke="#000"><tspan fill="#1c9a4e" stroke="#1c9a4e">p-α-syn</tspan><tspan fill="#1c9a4e" font-size="6.5" dy="-3.8" stroke="#1c9a4e">Ser129</tspan><tspan fill="#e0262a" dy="3.8" stroke="#e0262a"> Tuj1</tspan><tspan fill="#3a3ab0" stroke="#3a3ab0"> DAPI</tspan></text>
<g clip-path="url(#c9)">
<rect x="264.4" y="141.2" width="64.30000000000001" height="43.20000000000002" fill="#040208"/>
<path d="M264.0,141.0 L304.0,141.0 L302.0,151.0 L288.0,152.0 L276.0,154.0 L268.0,158.0 L264.0,160.0 Z" fill="#261c58" filter="url(#f1)"/>
<path d="M278.0,141.0 L312.0,141.0 L310.0,147.0 L296.0,148.0 L282.0,147.0 Z" fill="#4040a8" filter="url(#f1)" opacity="0.8"/>
<path d="M270.0,160.0 L282.0,152.0 L296.0,148.0 L306.0,150.0 L309.0,160.0 L307.0,172.0 L306.0,185.0 L266.0,185.0 L264.0,176.0 L264.0,168.0 Z" fill="#84183e" filter="url(#f1)"/>
<ellipse cx="297" cy="168" rx="7" ry="14" fill="#d82838" filter="url(#f2)" opacity="0.6"/>
<ellipse cx="284" cy="178" rx="10" ry="6" fill="#b8203e" filter="url(#f2)" opacity="0.5"/>
<path d="M264.0,160.0 L272.0,158.0 L274.0,170.0 L266.0,175.0 L264.0,175.0 Z" fill="#14081e" filter="url(#f1)" opacity="0.7"/>
<rect x="264.4" y="141.2" width="64.30000000000001" height="43.20000000000002" fill="#000" filter="url(#f17)" opacity="0.4"/>
<path d="M298,143 Q304,151 312,148 Q320,145 322,151 Q324,159 316,162 Q310,164 308,160" fill="none" stroke="#5a60d0" stroke-width="3.4" stroke-linecap="round" filter="url(#f3)" opacity="1"/>
<path d="M313,141.5 Q324,140 327,147 Q328,154 324,158" fill="none" stroke="#5058c8" stroke-width="2.8" stroke-linecap="round" filter="url(#f3)" opacity="1"/>
<path d="M307,162 Q304,170 307,178" fill="none" stroke="#4a50c0" stroke-width="1.8" stroke-linecap="round" filter="url(#f3)" opacity="1"/>
<circle cx="309.2" cy="164" r="0.9" fill="#f0d000"/>
<text x="266.5" y="149.5" font-size="9.2" fill="#f2f2f2" stroke="#f2f2f2">Brainstem</text>
<path d="M275.4,161.9 L278.9,160.5 L287.4,161.2 L291.6,164.1 L289.5,171.1 L287.4,173.2 L280.3,170.4 L275.4,166.9 Z" fill="none" stroke="#fff" stroke-width="1.1" stroke-dasharray="1.6 1.3" stroke-linejoin="round"/>
<rect x="266.9" y="179.5" width="8.5" height="1.7" fill="#fff"/>
</g>
<g clip-path="url(#c10)">
<rect x="264.4" y="185.9" width="64.30000000000001" height="43.29999999999998" fill="#040208"/>
<path d="M264.0,186.0 L305.0,186.0 L306.0,196.0 L300.0,200.0 L290.0,198.0 L280.0,195.0 L270.0,196.0 L264.0,198.0 Z" fill="#342c88" filter="url(#f1)"/>
<path d="M265.0,187.0 L272.0,187.0 L272.0,194.0 L265.0,195.0 Z" fill="#4a50c0" filter="url(#f3)" opacity="0.9"/>
<path d="M280.0,196.0 L296.0,196.0 L304.0,202.0 L304.0,215.0 L300.0,222.0 L290.0,214.0 L284.0,205.0 Z" fill="#3a2880" filter="url(#f1)"/>
<path d="M266.0,212.0 L276.0,206.0 L288.0,203.0 L298.0,204.0 L303.0,212.0 L302.0,230.0 L264.0,230.0 L264.0,215.0 Z" fill="#7c1842" filter="url(#f1)"/>
<path d="M290.0,204.0 L298.0,204.0 L300.0,214.0 L296.0,218.0 L290.0,214.0 Z" fill="#d02840" filter="url(#f1)" opacity="0.8"/>
<path d="M266.0,218.0 L290.0,216.0 L298.0,230.0 L264.0,230.0 Z" fill="#a01c4c" filter="url(#f2)" opacity="0.7"/>
<rect x="264.4" y="185.9" width="64.30000000000001" height="43.29999999999998" fill="#000" filter="url(#f18)" opacity="0.45"/>
<path d="M304,188 Q310,186 318,189 Q326,192 326,200 Q324,208 316,208 Q308,206 306,200 Q304,195 310,193" fill="none" stroke="#5a62d8" stroke-width="2.8" stroke-linecap="round" filter="url(#f3)" opacity="1"/>
<path d="M318,196 Q322,200 318,204" fill="none" stroke="#4a52c0" stroke-width="1.6" stroke-linecap="round" filter="url(#f3)" opacity="1"/>
<rect x="311.4" y="206.6" width="6.2" height="3.1" fill="#e02850"/>
<circle cx="298" cy="191.2" r="0.9" fill="#f0d000"/>
<path d="M274.8,206.6 L279.5,204.6 L287.7,205.6 L291.6,208.2 L290.6,212.3 L287.2,218.0 L282.0,215.4 L276.4,212.8 L274.3,209.7 Z" fill="none" stroke="#fff" stroke-width="1.1" stroke-dasharray="1.6 1.3" stroke-linejoin="round"/>
</g>
<g clip-path="url(#c11)">
<rect x="330.3" y="141.2" width="43.099999999999966" height="43.20000000000002" fill="#120a18"/>
<rect x="330.3" y="141.2" width="43.099999999999966" height="43.20000000000002" fill="#000" filter="url(#f19)" opacity="0.7"/>
<g filter="url(#f4)" opacity="0.7"><circle cx="369.4" cy="179.9" r="0.6" fill="#4838b0"/><circle cx="332.5" cy="161.4" r="0.6" fill="#4838b0"/><circle cx="338.6" cy="145.6" r="0.6" fill="#4838b0"/><circle cx="343.5" cy="166.9" r="0.7" fill="#3a30a0"/><circle cx="357.2" cy="143.9" r="0.5" fill="#4838b0"/><circle cx="355.3" cy="179.6" r="0.7" fill="#4838b0"/><circle cx="371.8" cy="156.6" r="0.5" fill="#3a30a0"/><circle cx="352.5" cy="173.7" r="0.4" fill="#4838b0"/><circle cx="373.2" cy="182.1" r="0.6" fill="#3a30a0"/><circle cx="341.0" cy="178.7" r="0.7" fill="#3a30a0"/><circle cx="370.6" cy="183.2" r="0.4" fill="#4838b0"/><circle cx="347.8" cy="164.1" r="0.7" fill="#4838b0"/><circle cx="342.1" cy="183.9" r="0.5" fill="#3a30a0"/><circle cx="347.3" cy="160.6" r="0.7" fill="#3a30a0"/><circle cx="371.5" cy="173.7" r="0.8" fill="#4838b0"/><circle cx="372.4" cy="151.7" r="0.8" fill="#4838b0"/><circle cx="348.9" cy="155.6" r="0.6" fill="#3a30a0"/><circle cx="335.2" cy="173.9" r="0.7" fill="#3a30a0"/><circle cx="349.3" cy="148.8" r="0.7" fill="#4838b0"/><circle cx="361.4" cy="146.6" r="0.5" fill="#3a30a0"/><circle cx="332.0" cy="153.4" r="0.6" fill="#3a30a0"/><circle cx="331.5" cy="153.0" r="0.7" fill="#3a30a0"/><circle cx="350.1" cy="166.0" r="0.7" fill="#4838b0"/><circle cx="362.3" cy="151.8" r="0.7" fill="#3a30a0"/><circle cx="331.0" cy="165.4" r="0.8" fill="#4838b0"/><circle cx="343.0" cy="180.1" r="0.6" fill="#4838b0"/><circle cx="339.8" cy="183.8" r="0.8" fill="#3a30a0"/><circle cx="333.4" cy="164.7" r="0.6" fill="#3a30a0"/><circle cx="342.6" cy="161.6" r="0.7" fill="#3a30a0"/><circle cx="341.2" cy="150.3" r="0.5" fill="#3a30a0"/><circle cx="353.9" cy="146.3" r="0.4" fill="#4838b0"/><circle cx="332.9" cy="154.2" r="0.4" fill="#3a30a0"/><circle cx="363.5" cy="164.4" r="0.8" fill="#4838b0"/><circle cx="331.4" cy="174.0" r="0.4" fill="#4838b0"/><circle cx="347.8" cy="178.9" r="0.4" fill="#4838b0"/><circle cx="362.1" cy="164.2" r="0.6" fill="#4838b0"/><circle cx="372.2" cy="183.0" r="0.4" fill="#3a30a0"/><circle cx="335.7" cy="161.4" r="0.5" fill="#4838b0"/><circle cx="332.9" cy="174.3" r="0.8" fill="#3a30a0"/><circle cx="331.4" cy="144.5" r="0.6" fill="#3a30a0"/><circle cx="350.4" cy="169.1" r="0.6" fill="#4838b0"/><circle cx="368.8" cy="156.9" r="0.8" fill="#4838b0"/><circle cx="347.6" cy="167.5" r="0.6" fill="#3a30a0"/><circle cx="346.6" cy="163.2" r="0.7" fill="#4838b0"/><circle cx="364.9" cy="158.0" r="0.4" fill="#4838b0"/><circle cx="333.2" cy="169.1" r="0.7" fill="#3a30a0"/><circle cx="370.8" cy="172.9" r="0.6" fill="#3a30a0"/><circle cx="333.9" cy="150.0" r="0.5" fill="#4838b0"/><circle cx="367.2" cy="155.7" r="0.6" fill="#3a30a0"/><circle cx="359.4" cy="171.3" r="0.8" fill="#3a30a0"/><circle cx="338.4" cy="148.4" r="0.4" fill="#4838b0"/><circle cx="339.1" cy="162.6" r="0.8" fill="#3a30a0"/><circle cx="339.9" cy="170.6" r="0.5" fill="#3a30a0"/><circle cx="333.3" cy="142.1" r="0.6" fill="#4838b0"/><circle cx="342.4" cy="153.1" r="0.8" fill="#3a30a0"/><circle cx="343.0" cy="153.7" r="0.7" fill="#4838b0"/><circle cx="335.3" cy="177.3" r="0.5" fill="#3a30a0"/><circle cx="341.2" cy="148.7" r="0.7" fill="#4838b0"/><circle cx="366.6" cy="184.3" r="0.7" fill="#4838b0"/><circle cx="336.5" cy="179.8" r="0.5" fill="#3a30a0"/><circle cx="344.3" cy="157.3" r="0.4" fill="#3a30a0"/><circle cx="339.0" cy="179.5" r="0.8" fill="#4838b0"/><circle cx="355.3" cy="169.6" r="0.6" fill="#3a30a0"/><circle cx="333.0" cy="164.9" r="0.6" fill="#3a30a0"/><circle cx="334.2" cy="160.8" r="0.5" fill="#4838b0"/><circle cx="360.9" cy="155.4" r="0.5" fill="#4838b0"/><circle cx="334.3" cy="182.6" r="0.6" fill="#3a30a0"/><circle cx="370.2" cy="152.0" r="0.8" fill="#4838b0"/><circle cx="353.0" cy="166.1" r="0.8" fill="#3a30a0"/><circle cx="367.2" cy="158.3" r="0.5" fill="#4838b0"/><circle cx="347.1" cy="165.5" r="0.5" fill="#3a30a0"/><circle cx="344.9" cy="179.6" r="0.7" fill="#3a30a0"/><circle cx="363.9" cy="154.5" r="0.7" fill="#4838b0"/><circle cx="354.2" cy="156.3" r="0.6" fill="#3a30a0"/><circle cx="363.4" cy="175.3" r="0.5" fill="#3a30a0"/><circle cx="345.0" cy="143.9" r="0.8" fill="#3a30a0"/><circle cx="332.2" cy="141.7" r="0.7" fill="#3a30a0"/><circle cx="366.6" cy="182.7" r="0.7" fill="#4838b0"/><circle cx="342.1" cy="148.6" r="0.6" fill="#3a30a0"/><circle cx="368.3" cy="160.5" r="0.8" fill="#4838b0"/><circle cx="331.6" cy="182.5" r="0.5" fill="#4838b0"/><circle cx="355.4" cy="148.2" r="0.7" fill="#4838b0"/><circle cx="362.5" cy="168.9" r="0.4" fill="#3a30a0"/><circle cx="341.0" cy="150.0" r="0.8" fill="#4838b0"/><circle cx="341.5" cy="167.8" r="0.8" fill="#3a30a0"/><circle cx="360.7" cy="161.3" r="0.5" fill="#4838b0"/><circle cx="368.4" cy="153.9" r="0.6" fill="#4838b0"/><circle cx="345.5" cy="169.3" r="0.6" fill="#3a30a0"/><circle cx="352.1" cy="144.0" r="0.7" fill="#3a30a0"/><circle cx="348.8" cy="155.9" r="0.7" fill="#3a30a0"/><circle cx="334.6" cy="178.0" r="0.4" fill="#3a30a0"/><circle cx="357.0" cy="166.1" r="0.8" fill="#3a30a0"/><circle cx="362.8" cy="154.3" r="0.6" fill="#4838b0"/><circle cx="371.9" cy="146.2" r="0.6" fill="#4838b0"/><circle cx="371.7" cy="181.2" r="0.5" fill="#3a30a0"/><circle cx="345.6" cy="181.7" r="0.6" fill="#4838b0"/><circle cx="330.3" cy="161.3" r="0.8" fill="#3a30a0"/><circle cx="339.2" cy="161.8" r="0.4" fill="#3a30a0"/><circle cx="359.1" cy="183.3" r="0.5" fill="#3a30a0"/><circle cx="365.1" cy="146.9" r="0.6" fill="#3a30a0"/><circle cx="351.0" cy="169.1" r="0.7" fill="#4838b0"/><circle cx="344.5" cy="179.9" r="0.5" fill="#3a30a0"/><circle cx="361.6" cy="143.4" r="0.4" fill="#4838b0"/><circle cx="372.4" cy="165.7" r="0.5" fill="#3a30a0"/><circle cx="371.7" cy="152.2" r="0.8" fill="#3a30a0"/><circle cx="358.1" cy="151.3" r="0.8" fill="#3a30a0"/><circle cx="334.3" cy="178.3" r="0.5" fill="#3a30a0"/><circle cx="359.6" cy="141.3" r="0.5" fill="#3a30a0"/><circle cx="364.8" cy="182.2" r="0.5" fill="#3a30a0"/><circle cx="346.8" cy="178.5" r="0.6" fill="#4838b0"/></g>
<g filter="url(#f4)"><circle cx="369.2" cy="177.2" r="0.6" fill="#8a1828"/><circle cx="334.2" cy="179.3" r="0.5" fill="#c02030"/><circle cx="343.8" cy="171.6" r="0.4" fill="#b01e2c"/><circle cx="365.2" cy="151.6" r="0.7" fill="#8a1828"/><circle cx="361.2" cy="176.8" r="0.5" fill="#b01e2c"/><circle cx="352.4" cy="157.7" r="0.5" fill="#b01e2c"/><circle cx="345.5" cy="150.6" r="0.6" fill="#b01e2c"/><circle cx="369.0" cy="177.5" r="0.6" fill="#8a1828"/><circle cx="349.2" cy="164.5" r="0.7" fill="#8a1828"/><circle cx="333.4" cy="147.5" r="0.6" fill="#c02030"/><circle cx="361.6" cy="142.8" r="0.8" fill="#8a1828"/><circle cx="362.8" cy="164.6" r="0.5" fill="#d02838"/><circle cx="354.6" cy="159.7" r="0.8" fill="#b01e2c"/><circle cx="339.4" cy="153.3" r="0.7" fill="#c02030"/><circle cx="349.1" cy="181.7" r="0.8" fill="#d02838"/><circle cx="373.1" cy="165.3" r="0.6" fill="#c02030"/><circle cx="366.5" cy="148.2" r="0.5" fill="#b01e2c"/><circle cx="364.2" cy="153.3" r="0.8" fill="#d02838"/><circle cx="340.7" cy="175.6" r="0.8" fill="#d02838"/><circle cx="344.1" cy="169.2" r="0.4" fill="#8a1828"/><circle cx="355.4" cy="158.0" r="0.5" fill="#b01e2c"/><circle cx="331.3" cy="142.8" r="0.7" fill="#8a1828"/><circle cx="337.0" cy="171.2" r="0.4" fill="#d02838"/><circle cx="358.8" cy="177.1" r="0.8" fill="#c02030"/><circle cx="342.9" cy="168.5" r="0.5" fill="#8a1828"/><circle cx="358.3" cy="181.1" r="0.4" fill="#b01e2c"/><circle cx="341.8" cy="183.0" r="0.4" fill="#d02838"/><circle cx="332.8" cy="179.4" r="0.6" fill="#c02030"/><circle cx="365.3" cy="148.4" r="0.4" fill="#8a1828"/><circle cx="341.3" cy="170.9" r="0.5" fill="#8a1828"/><circle cx="353.4" cy="156.0" r="0.6" fill="#d02838"/><circle cx="370.4" cy="169.5" r="0.4" fill="#b01e2c"/><circle cx="354.7" cy="161.3" r="0.6" fill="#c02030"/><circle cx="359.9" cy="158.8" r="0.8" fill="#d02838"/><circle cx="355.9" cy="167.8" r="0.6" fill="#b01e2c"/><circle cx="363.2" cy="161.1" r="0.8" fill="#8a1828"/><circle cx="338.6" cy="171.1" r="0.6" fill="#d02838"/><circle cx="359.3" cy="147.5" r="0.8" fill="#d02838"/><circle cx="338.9" cy="170.5" r="0.6" fill="#b01e2c"/><circle cx="354.7" cy="171.6" r="0.7" fill="#b01e2c"/><circle cx="334.7" cy="167.0" r="0.7" fill="#8a1828"/><circle cx="369.2" cy="169.4" r="0.8" fill="#8a1828"/><circle cx="350.4" cy="167.4" r="0.6" fill="#c02030"/><circle cx="351.8" cy="165.4" r="0.4" fill="#b01e2c"/><circle cx="345.4" cy="159.1" r="0.7" fill="#c02030"/><circle cx="360.3" cy="152.3" r="0.7" fill="#c02030"/><circle cx="333.4" cy="178.3" r="0.7" fill="#8a1828"/><circle cx="366.3" cy="162.1" r="0.4" fill="#d02838"/><circle cx="367.1" cy="172.5" r="0.8" fill="#c02030"/><circle cx="345.0" cy="174.8" r="0.6" fill="#d02838"/><circle cx="333.9" cy="155.3" r="0.6" fill="#d02838"/><circle cx="359.7" cy="177.7" r="0.4" fill="#c02030"/><circle cx="352.7" cy="172.4" r="0.8" fill="#b01e2c"/><circle cx="338.1" cy="163.8" r="0.7" fill="#c02030"/><circle cx="331.3" cy="179.8" r="0.5" fill="#c02030"/><circle cx="368.0" cy="168.0" r="0.6" fill="#c02030"/><circle cx="360.7" cy="176.6" r="0.4" fill="#c02030"/><circle cx="332.0" cy="181.2" r="0.8" fill="#b01e2c"/><circle cx="352.5" cy="162.0" r="0.8" fill="#d02838"/><circle cx="362.3" cy="165.8" r="0.5" fill="#8a1828"/><circle cx="366.9" cy="167.5" r="0.7" fill="#c02030"/><circle cx="336.8" cy="155.8" r="0.6" fill="#8a1828"/><circle cx="343.9" cy="169.5" r="0.7" fill="#d02838"/><circle cx="354.1" cy="171.6" r="0.8" fill="#d02838"/><circle cx="355.0" cy="162.1" r="0.5" fill="#b01e2c"/><circle cx="360.0" cy="143.5" r="0.8" fill="#d02838"/><circle cx="360.5" cy="174.3" r="0.7" fill="#b01e2c"/><circle cx="371.1" cy="150.4" r="0.5" fill="#b01e2c"/><circle cx="361.7" cy="182.6" r="0.4" fill="#c02030"/><circle cx="373.1" cy="165.2" r="0.8" fill="#c02030"/><circle cx="342.3" cy="155.7" r="0.6" fill="#b01e2c"/><circle cx="357.8" cy="181.2" r="0.5" fill="#d02838"/><circle cx="373.4" cy="172.2" r="0.4" fill="#c02030"/><circle cx="335.8" cy="171.5" r="0.8" fill="#8a1828"/><circle cx="361.5" cy="148.5" r="0.4" fill="#8a1828"/><circle cx="330.8" cy="181.6" r="0.6" fill="#b01e2c"/><circle cx="337.6" cy="165.9" r="0.7" fill="#b01e2c"/><circle cx="330.5" cy="167.9" r="0.5" fill="#d02838"/><circle cx="343.8" cy="177.2" r="0.7" fill="#d02838"/><circle cx="348.2" cy="183.8" r="0.5" fill="#b01e2c"/><circle cx="346.8" cy="160.3" r="0.6" fill="#8a1828"/><circle cx="348.5" cy="172.1" r="0.5" fill="#d02838"/><circle cx="366.6" cy="177.8" r="0.6" fill="#c02030"/><circle cx="338.8" cy="164.2" r="0.5" fill="#b01e2c"/><circle cx="343.4" cy="156.8" r="0.7" fill="#d02838"/><circle cx="364.6" cy="154.0" r="0.6" fill="#b01e2c"/><circle cx="335.2" cy="146.0" r="0.6" fill="#c02030"/><circle cx="333.3" cy="170.8" r="0.7" fill="#d02838"/><circle cx="366.0" cy="152.1" r="0.7" fill="#b01e2c"/><circle cx="336.3" cy="177.0" r="0.6" fill="#c02030"/><circle cx="362.6" cy="141.8" r="0.7" fill="#d02838"/><circle cx="349.8" cy="173.7" r="0.6" fill="#c02030"/><circle cx="341.2" cy="178.4" r="0.7" fill="#d02838"/><circle cx="340.4" cy="159.1" r="0.6" fill="#b01e2c"/><circle cx="347.1" cy="149.1" r="0.6" fill="#b01e2c"/><circle cx="366.1" cy="148.1" r="0.6" fill="#d02838"/><circle cx="338.5" cy="153.3" r="0.6" fill="#8a1828"/><circle cx="370.2" cy="174.3" r="0.8" fill="#8a1828"/><circle cx="370.8" cy="173.4" r="0.8" fill="#c02030"/><circle cx="347.0" cy="142.3" r="0.5" fill="#d02838"/><circle cx="358.8" cy="176.5" r="0.4" fill="#b01e2c"/><circle cx="342.4" cy="153.9" r="0.6" fill="#8a1828"/><circle cx="372.9" cy="141.5" r="0.6" fill="#c02030"/><circle cx="349.6" cy="158.0" r="0.8" fill="#b01e2c"/><circle cx="336.9" cy="157.9" r="0.6" fill="#8a1828"/><circle cx="331.9" cy="157.1" r="0.4" fill="#b01e2c"/><circle cx="372.2" cy="171.0" r="0.6" fill="#b01e2c"/><circle cx="356.8" cy="179.4" r="0.8" fill="#c02030"/><circle cx="362.5" cy="161.6" r="0.8" fill="#c02030"/><circle cx="348.3" cy="158.2" r="0.5" fill="#b01e2c"/></g>
<g filter="url(#f4)"><circle cx="347.2" cy="176.4" r="0.8" fill="#d02838"/><circle cx="336.4" cy="162.8" r="0.7" fill="#d02838"/><circle cx="340.9" cy="170.2" r="0.4" fill="#d02838"/><circle cx="343.2" cy="152.2" r="0.9" fill="#d02838"/><circle cx="340.9" cy="156.3" r="0.7" fill="#c02030"/><circle cx="332.2" cy="159.4" r="0.9" fill="#c02030"/><circle cx="334.5" cy="179.9" r="0.8" fill="#d02838"/><circle cx="344.2" cy="151.1" r="0.5" fill="#c02030"/><circle cx="347.0" cy="157.6" r="0.6" fill="#d02838"/><circle cx="330.7" cy="151.6" r="0.6" fill="#d02838"/><circle cx="349.6" cy="151.5" r="0.7" fill="#d02838"/><circle cx="350.7" cy="176.9" r="0.9" fill="#d02838"/><circle cx="347.1" cy="162.0" r="0.8" fill="#d02838"/><circle cx="337.1" cy="150.1" r="0.7" fill="#c02030"/><circle cx="338.2" cy="167.6" r="0.8" fill="#d02838"/><circle cx="346.7" cy="170.9" r="0.8" fill="#c02030"/><circle cx="339.1" cy="160.5" r="0.6" fill="#d02838"/><circle cx="340.9" cy="167.1" r="0.9" fill="#d02838"/><circle cx="333.0" cy="154.8" r="0.7" fill="#d02838"/><circle cx="330.8" cy="177.3" r="0.5" fill="#c02030"/><circle cx="331.5" cy="177.1" r="0.5" fill="#c02030"/><circle cx="351.0" cy="158.2" r="0.6" fill="#d02838"/><circle cx="345.7" cy="176.6" r="0.7" fill="#c02030"/><circle cx="338.6" cy="167.9" r="0.7" fill="#d02838"/><circle cx="335.0" cy="173.7" r="0.7" fill="#c02030"/><circle cx="346.9" cy="158.4" r="0.8" fill="#d02838"/><circle cx="346.6" cy="168.6" r="0.6" fill="#d02838"/><circle cx="351.2" cy="155.6" r="0.4" fill="#c02030"/><circle cx="342.2" cy="169.8" r="0.6" fill="#c02030"/><circle cx="349.8" cy="175.1" r="0.5" fill="#d02838"/><circle cx="343.3" cy="167.3" r="0.8" fill="#d02838"/><circle cx="350.1" cy="164.0" r="0.8" fill="#d02838"/><circle cx="345.0" cy="171.5" r="0.4" fill="#c02030"/><circle cx="330.9" cy="156.9" r="0.8" fill="#c02030"/><circle cx="344.8" cy="164.3" r="0.8" fill="#d02838"/><circle cx="338.7" cy="173.3" r="0.5" fill="#d02838"/><circle cx="339.4" cy="161.4" r="0.7" fill="#c02030"/><circle cx="344.3" cy="159.8" r="0.4" fill="#c02030"/><circle cx="331.4" cy="173.8" r="0.6" fill="#c02030"/><circle cx="346.2" cy="153.3" r="0.6" fill="#c02030"/></g>
</g>
<g clip-path="url(#c12)">
<rect x="330.3" y="185.9" width="43.099999999999966" height="43.29999999999998" fill="#120a18"/>
<rect x="330.3" y="185.9" width="43.099999999999966" height="43.29999999999998" fill="#000" filter="url(#f20)" opacity="0.7"/>
<g filter="url(#f4)" opacity="0.7"><circle cx="336.8" cy="201.7" r="0.5" fill="#4838b0"/><circle cx="351.5" cy="207.0" r="0.8" fill="#4838b0"/><circle cx="367.4" cy="211.4" r="0.8" fill="#4838b0"/><circle cx="361.5" cy="208.8" r="0.4" fill="#3a30a0"/><circle cx="341.3" cy="223.2" r="0.5" fill="#3a30a0"/><circle cx="352.8" cy="219.5" r="0.6" fill="#3a30a0"/><circle cx="364.1" cy="208.0" r="0.7" fill="#4838b0"/><circle cx="343.8" cy="204.5" r="0.8" fill="#4838b0"/><circle cx="363.4" cy="226.5" r="0.6" fill="#4838b0"/><circle cx="354.6" cy="216.1" r="0.7" fill="#4838b0"/><circle cx="349.5" cy="207.6" r="0.6" fill="#3a30a0"/><circle cx="331.4" cy="192.9" r="0.6" fill="#3a30a0"/><circle cx="333.6" cy="199.6" r="0.5" fill="#3a30a0"/><circle cx="354.9" cy="225.6" r="0.7" fill="#4838b0"/><circle cx="332.2" cy="206.8" r="0.7" fill="#4838b0"/><circle cx="349.2" cy="211.5" r="0.7" fill="#4838b0"/><circle cx="345.8" cy="203.0" r="0.5" fill="#4838b0"/><circle cx="342.6" cy="186.8" r="0.6" fill="#3a30a0"/><circle cx="335.3" cy="226.2" r="0.6" fill="#3a30a0"/><circle cx="353.3" cy="187.7" r="0.7" fill="#4838b0"/><circle cx="358.1" cy="187.7" r="0.6" fill="#4838b0"/><circle cx="365.8" cy="201.2" r="0.6" fill="#4838b0"/><circle cx="370.3" cy="198.0" r="0.6" fill="#4838b0"/><circle cx="337.7" cy="192.1" r="0.6" fill="#3a30a0"/><circle cx="341.2" cy="228.1" r="0.7" fill="#4838b0"/><circle cx="343.8" cy="199.8" r="0.6" fill="#3a30a0"/><circle cx="331.2" cy="211.2" r="0.8" fill="#4838b0"/><circle cx="341.2" cy="196.4" r="0.8" fill="#4838b0"/><circle cx="333.7" cy="187.7" r="0.7" fill="#4838b0"/><circle cx="332.6" cy="202.9" r="0.7" fill="#4838b0"/><circle cx="366.7" cy="221.2" r="0.7" fill="#4838b0"/><circle cx="352.8" cy="186.5" r="0.5" fill="#3a30a0"/><circle cx="372.0" cy="198.3" r="0.7" fill="#4838b0"/><circle cx="338.0" cy="214.9" r="0.6" fill="#4838b0"/><circle cx="372.3" cy="192.9" r="0.7" fill="#4838b0"/><circle cx="361.4" cy="187.7" r="0.6" fill="#4838b0"/><circle cx="363.2" cy="219.7" r="0.7" fill="#4838b0"/><circle cx="367.8" cy="193.4" r="0.8" fill="#4838b0"/><circle cx="371.8" cy="204.1" r="0.6" fill="#3a30a0"/><circle cx="357.9" cy="228.1" r="0.5" fill="#4838b0"/><circle cx="332.3" cy="218.8" r="0.7" fill="#4838b0"/><circle cx="352.3" cy="203.6" r="0.6" fill="#4838b0"/><circle cx="347.5" cy="190.4" r="0.5" fill="#4838b0"/><circle cx="370.1" cy="192.7" r="0.6" fill="#3a30a0"/><circle cx="342.2" cy="220.0" r="0.5" fill="#4838b0"/><circle cx="346.6" cy="205.6" r="0.5" fill="#4838b0"/><circle cx="360.8" cy="186.4" r="0.7" fill="#3a30a0"/><circle cx="332.1" cy="200.4" r="0.7" fill="#3a30a0"/><circle cx="349.2" cy="222.0" r="0.6" fill="#4838b0"/><circle cx="344.4" cy="223.3" r="0.5" fill="#3a30a0"/><circle cx="342.1" cy="203.6" r="0.7" fill="#3a30a0"/><circle cx="352.3" cy="207.8" r="0.7" fill="#3a30a0"/><circle cx="356.4" cy="200.6" r="0.4" fill="#3a30a0"/><circle cx="364.9" cy="199.4" r="0.7" fill="#4838b0"/><circle cx="369.9" cy="199.2" r="0.6" fill="#3a30a0"/><circle cx="332.0" cy="223.6" r="0.5" fill="#3a30a0"/><circle cx="339.8" cy="216.0" r="0.4" fill="#4838b0"/><circle cx="360.8" cy="187.7" r="0.6" fill="#4838b0"/><circle cx="341.3" cy="218.6" r="0.6" fill="#3a30a0"/><circle cx="338.6" cy="202.9" r="0.8" fill="#4838b0"/><circle cx="333.1" cy="202.8" r="0.7" fill="#3a30a0"/><circle cx="340.9" cy="227.0" r="0.6" fill="#3a30a0"/><circle cx="361.4" cy="216.5" r="0.7" fill="#4838b0"/><circle cx="331.3" cy="192.5" r="0.6" fill="#3a30a0"/><circle cx="348.8" cy="227.3" r="0.7" fill="#3a30a0"/><circle cx="334.5" cy="219.2" r="0.5" fill="#3a30a0"/><circle cx="336.2" cy="216.9" r="0.7" fill="#3a30a0"/><circle cx="366.1" cy="200.4" r="0.5" fill="#4838b0"/><circle cx="350.0" cy="196.2" r="0.5" fill="#3a30a0"/><circle cx="354.5" cy="190.6" r="0.6" fill="#3a30a0"/><circle cx="346.1" cy="188.5" r="0.6" fill="#4838b0"/><circle cx="341.7" cy="212.4" r="0.6" fill="#3a30a0"/><circle cx="369.7" cy="195.7" r="0.5" fill="#4838b0"/><circle cx="345.8" cy="220.9" r="0.5" fill="#4838b0"/><circle cx="333.0" cy="215.1" r="0.5" fill="#3a30a0"/><circle cx="346.9" cy="200.4" r="0.7" fill="#4838b0"/><circle cx="343.1" cy="210.8" r="0.6" fill="#4838b0"/><circle cx="345.1" cy="206.9" r="0.7" fill="#3a30a0"/><circle cx="353.4" cy="188.5" r="0.5" fill="#3a30a0"/><circle cx="347.6" cy="193.5" r="0.5" fill="#4838b0"/><circle cx="350.9" cy="210.0" r="0.5" fill="#3a30a0"/><circle cx="343.5" cy="213.3" r="0.5" fill="#4838b0"/><circle cx="353.2" cy="194.7" r="0.4" fill="#4838b0"/><circle cx="358.5" cy="188.9" r="0.5" fill="#3a30a0"/><circle cx="350.9" cy="216.7" r="0.8" fill="#3a30a0"/><circle cx="351.7" cy="217.8" r="0.6" fill="#3a30a0"/><circle cx="343.6" cy="193.4" r="0.4" fill="#4838b0"/><circle cx="370.1" cy="191.2" r="0.8" fill="#3a30a0"/><circle cx="371.4" cy="212.7" r="0.5" fill="#3a30a0"/><circle cx="348.6" cy="207.2" r="0.5" fill="#3a30a0"/><circle cx="365.5" cy="225.8" r="0.7" fill="#4838b0"/><circle cx="353.2" cy="214.9" r="0.6" fill="#4838b0"/><circle cx="341.8" cy="191.1" r="0.4" fill="#4838b0"/><circle cx="342.2" cy="228.0" r="0.4" fill="#4838b0"/><circle cx="351.3" cy="205.9" r="0.7" fill="#3a30a0"/><circle cx="339.5" cy="200.0" r="0.6" fill="#3a30a0"/><circle cx="340.1" cy="202.5" r="0.7" fill="#4838b0"/><circle cx="348.5" cy="191.8" r="0.7" fill="#4838b0"/><circle cx="359.2" cy="218.3" r="0.7" fill="#3a30a0"/><circle cx="337.2" cy="201.8" r="0.5" fill="#4838b0"/><circle cx="346.7" cy="222.0" r="0.5" fill="#3a30a0"/><circle cx="366.1" cy="206.8" r="0.6" fill="#4838b0"/><circle cx="331.2" cy="192.8" r="0.7" fill="#4838b0"/><circle cx="372.2" cy="202.8" r="0.5" fill="#3a30a0"/><circle cx="332.7" cy="203.1" r="0.5" fill="#4838b0"/><circle cx="370.5" cy="206.6" r="0.7" fill="#3a30a0"/><circle cx="350.8" cy="213.2" r="0.5" fill="#4838b0"/><circle cx="335.7" cy="221.4" r="0.6" fill="#4838b0"/><circle cx="363.9" cy="201.7" r="0.5" fill="#4838b0"/><circle cx="333.6" cy="194.9" r="0.4" fill="#3a30a0"/></g>
<g filter="url(#f4)"><circle cx="367.2" cy="199.9" r="0.6" fill="#8a1828"/><circle cx="352.5" cy="223.6" r="0.7" fill="#8a1828"/><circle cx="332.2" cy="208.6" r="0.8" fill="#c02030"/><circle cx="361.1" cy="214.8" r="0.5" fill="#8a1828"/><circle cx="364.8" cy="204.7" r="0.5" fill="#b01e2c"/><circle cx="330.8" cy="228.4" r="0.6" fill="#c02030"/><circle cx="335.4" cy="203.8" r="0.4" fill="#8a1828"/><circle cx="366.9" cy="189.5" r="0.6" fill="#d02838"/><circle cx="349.8" cy="228.7" r="0.7" fill="#8a1828"/><circle cx="355.0" cy="210.7" r="0.7" fill="#d02838"/><circle cx="370.6" cy="197.6" r="0.4" fill="#8a1828"/><circle cx="344.0" cy="199.6" r="0.7" fill="#b01e2c"/><circle cx="371.9" cy="187.9" r="0.5" fill="#c02030"/><circle cx="331.1" cy="200.5" r="0.4" fill="#8a1828"/><circle cx="355.6" cy="223.9" r="0.7" fill="#d02838"/><circle cx="357.1" cy="206.9" r="0.7" fill="#8a1828"/><circle cx="373.2" cy="217.4" r="0.8" fill="#d02838"/><circle cx="343.2" cy="207.1" r="0.4" fill="#8a1828"/><circle cx="345.9" cy="225.1" r="0.8" fill="#b01e2c"/><circle cx="362.1" cy="198.1" r="0.6" fill="#8a1828"/><circle cx="368.9" cy="226.4" r="0.6" fill="#8a1828"/><circle cx="368.3" cy="207.1" r="0.5" fill="#c02030"/><circle cx="345.6" cy="226.7" r="0.5" fill="#8a1828"/><circle cx="346.5" cy="228.0" r="0.5" fill="#c02030"/><circle cx="361.6" cy="207.6" r="0.6" fill="#8a1828"/><circle cx="371.4" cy="210.1" r="0.4" fill="#b01e2c"/><circle cx="372.8" cy="226.2" r="0.5" fill="#d02838"/><circle cx="371.1" cy="202.3" r="0.4" fill="#b01e2c"/><circle cx="355.4" cy="209.7" r="0.7" fill="#d02838"/><circle cx="369.3" cy="222.7" r="0.8" fill="#b01e2c"/><circle cx="357.3" cy="209.8" r="0.5" fill="#b01e2c"/><circle cx="338.1" cy="189.7" r="0.8" fill="#d02838"/><circle cx="353.7" cy="196.8" r="0.4" fill="#d02838"/><circle cx="362.5" cy="216.8" r="0.8" fill="#8a1828"/><circle cx="372.5" cy="220.5" r="0.4" fill="#8a1828"/><circle cx="349.8" cy="225.6" r="0.8" fill="#d02838"/><circle cx="343.6" cy="210.1" r="0.7" fill="#b01e2c"/><circle cx="337.8" cy="218.7" r="0.8" fill="#b01e2c"/><circle cx="332.1" cy="202.6" r="0.4" fill="#d02838"/><circle cx="334.9" cy="203.7" r="0.4" fill="#d02838"/><circle cx="348.8" cy="219.7" r="0.4" fill="#c02030"/><circle cx="366.4" cy="203.0" r="0.6" fill="#d02838"/><circle cx="331.9" cy="218.7" r="0.4" fill="#b01e2c"/><circle cx="357.8" cy="211.0" r="0.7" fill="#d02838"/><circle cx="344.8" cy="214.4" r="0.6" fill="#d02838"/><circle cx="346.9" cy="186.5" r="0.5" fill="#8a1828"/><circle cx="372.2" cy="209.2" r="0.7" fill="#b01e2c"/><circle cx="352.3" cy="202.7" r="0.4" fill="#c02030"/><circle cx="362.8" cy="219.5" r="0.7" fill="#c02030"/><circle cx="357.8" cy="191.8" r="0.5" fill="#d02838"/><circle cx="352.0" cy="221.7" r="0.7" fill="#d02838"/><circle cx="367.2" cy="213.9" r="0.8" fill="#c02030"/><circle cx="367.9" cy="208.9" r="0.8" fill="#8a1828"/><circle cx="330.9" cy="224.6" r="0.7" fill="#b01e2c"/><circle cx="358.2" cy="225.5" r="0.8" fill="#d02838"/><circle cx="364.5" cy="190.0" r="0.7" fill="#8a1828"/><circle cx="357.5" cy="188.6" r="0.6" fill="#d02838"/><circle cx="352.1" cy="190.8" r="0.7" fill="#8a1828"/><circle cx="358.3" cy="229.0" r="0.7" fill="#c02030"/><circle cx="356.6" cy="216.1" r="0.6" fill="#c02030"/><circle cx="360.6" cy="186.9" r="0.5" fill="#b01e2c"/><circle cx="371.1" cy="212.2" r="0.5" fill="#8a1828"/><circle cx="339.7" cy="200.4" r="0.8" fill="#c02030"/><circle cx="356.6" cy="185.9" r="0.6" fill="#d02838"/><circle cx="351.4" cy="227.3" r="0.6" fill="#c02030"/><circle cx="337.5" cy="218.0" r="0.7" fill="#d02838"/><circle cx="369.7" cy="190.9" r="0.8" fill="#c02030"/><circle cx="339.6" cy="192.7" r="0.8" fill="#c02030"/><circle cx="367.1" cy="198.0" r="0.5" fill="#b01e2c"/><circle cx="336.4" cy="223.4" r="0.4" fill="#8a1828"/><circle cx="372.1" cy="197.3" r="0.5" fill="#d02838"/><circle cx="364.8" cy="209.1" r="0.8" fill="#8a1828"/><circle cx="337.6" cy="204.3" r="0.6" fill="#c02030"/><circle cx="336.1" cy="187.1" r="0.6" fill="#8a1828"/><circle cx="351.8" cy="218.3" r="0.8" fill="#c02030"/><circle cx="336.6" cy="207.2" r="0.6" fill="#c02030"/><circle cx="353.5" cy="225.5" r="0.6" fill="#8a1828"/><circle cx="347.8" cy="221.8" r="0.6" fill="#d02838"/><circle cx="369.3" cy="185.9" r="0.6" fill="#b01e2c"/><circle cx="352.7" cy="200.7" r="0.4" fill="#d02838"/><circle cx="335.9" cy="185.9" r="0.6" fill="#b01e2c"/><circle cx="356.2" cy="187.3" r="0.7" fill="#8a1828"/><circle cx="333.5" cy="226.4" r="0.7" fill="#8a1828"/><circle cx="352.8" cy="191.8" r="0.5" fill="#d02838"/><circle cx="345.0" cy="188.8" r="0.5" fill="#c02030"/><circle cx="345.0" cy="205.9" r="0.8" fill="#c02030"/><circle cx="358.0" cy="195.0" r="0.7" fill="#8a1828"/><circle cx="370.9" cy="218.7" r="0.8" fill="#8a1828"/><circle cx="354.1" cy="187.4" r="0.6" fill="#c02030"/><circle cx="350.7" cy="193.9" r="0.4" fill="#8a1828"/><circle cx="350.8" cy="229.1" r="0.4" fill="#c02030"/><circle cx="343.7" cy="200.5" r="0.6" fill="#d02838"/><circle cx="367.9" cy="193.1" r="0.5" fill="#8a1828"/><circle cx="357.8" cy="198.4" r="0.4" fill="#8a1828"/><circle cx="366.8" cy="210.7" r="0.6" fill="#b01e2c"/><circle cx="345.5" cy="199.4" r="0.7" fill="#b01e2c"/><circle cx="367.5" cy="219.3" r="0.4" fill="#b01e2c"/><circle cx="351.3" cy="190.7" r="0.7" fill="#8a1828"/><circle cx="358.7" cy="215.1" r="0.7" fill="#d02838"/><circle cx="331.9" cy="228.1" r="0.7" fill="#b01e2c"/><circle cx="355.4" cy="203.5" r="0.8" fill="#8a1828"/><circle cx="340.8" cy="223.5" r="0.5" fill="#d02838"/><circle cx="344.3" cy="192.4" r="0.4" fill="#b01e2c"/><circle cx="357.8" cy="189.7" r="0.8" fill="#d02838"/><circle cx="363.9" cy="216.2" r="0.6" fill="#d02838"/><circle cx="359.9" cy="196.9" r="0.7" fill="#c02030"/><circle cx="358.1" cy="224.1" r="0.4" fill="#d02838"/><circle cx="361.2" cy="221.7" r="0.5" fill="#b01e2c"/><circle cx="350.7" cy="191.9" r="0.8" fill="#c02030"/><circle cx="372.2" cy="186.8" r="0.7" fill="#8a1828"/><circle cx="350.4" cy="196.3" r="0.7" fill="#d02838"/><circle cx="354.0" cy="188.9" r="0.5" fill="#c02030"/><circle cx="350.0" cy="227.7" r="0.5" fill="#d02838"/><circle cx="345.7" cy="211.0" r="0.6" fill="#8a1828"/><circle cx="337.7" cy="198.3" r="0.6" fill="#c02030"/><circle cx="359.7" cy="226.9" r="0.5" fill="#8a1828"/><circle cx="347.0" cy="224.6" r="0.7" fill="#b01e2c"/><circle cx="333.4" cy="200.5" r="0.7" fill="#b01e2c"/><circle cx="358.2" cy="204.4" r="0.6" fill="#8a1828"/><circle cx="349.1" cy="203.0" r="0.5" fill="#8a1828"/><circle cx="349.5" cy="219.6" r="0.8" fill="#c02030"/><circle cx="368.2" cy="201.0" r="0.8" fill="#8a1828"/><circle cx="369.1" cy="199.7" r="0.5" fill="#b01e2c"/><circle cx="362.3" cy="226.4" r="0.6" fill="#b01e2c"/><circle cx="332.3" cy="227.3" r="0.5" fill="#8a1828"/><circle cx="355.1" cy="218.9" r="0.6" fill="#c02030"/><circle cx="337.9" cy="192.1" r="0.8" fill="#d02838"/><circle cx="365.9" cy="188.8" r="0.5" fill="#d02838"/><circle cx="358.8" cy="225.6" r="0.8" fill="#8a1828"/><circle cx="341.0" cy="213.3" r="0.8" fill="#8a1828"/><circle cx="338.6" cy="226.6" r="0.8" fill="#b01e2c"/><circle cx="359.3" cy="204.3" r="0.8" fill="#8a1828"/><circle cx="345.1" cy="195.1" r="0.5" fill="#d02838"/><circle cx="353.2" cy="195.6" r="0.7" fill="#b01e2c"/><circle cx="336.8" cy="190.1" r="0.8" fill="#b01e2c"/><circle cx="366.4" cy="212.3" r="0.4" fill="#d02838"/><circle cx="355.5" cy="228.9" r="0.8" fill="#c02030"/><circle cx="358.0" cy="212.5" r="0.6" fill="#8a1828"/><circle cx="338.6" cy="189.6" r="0.6" fill="#b01e2c"/><circle cx="362.4" cy="207.8" r="0.5" fill="#8a1828"/><circle cx="343.1" cy="192.0" r="0.6" fill="#8a1828"/><circle cx="349.2" cy="194.7" r="0.5" fill="#8a1828"/><circle cx="368.7" cy="203.9" r="0.7" fill="#d02838"/><circle cx="354.0" cy="188.1" r="0.4" fill="#8a1828"/><circle cx="337.6" cy="228.7" r="0.5" fill="#b01e2c"/><circle cx="336.5" cy="186.0" r="0.5" fill="#b01e2c"/><circle cx="348.5" cy="228.6" r="0.4" fill="#c02030"/><circle cx="347.6" cy="224.9" r="0.6" fill="#d02838"/><circle cx="361.7" cy="190.7" r="0.8" fill="#8a1828"/><circle cx="333.8" cy="217.5" r="0.4" fill="#d02838"/><circle cx="361.2" cy="208.5" r="0.7" fill="#b01e2c"/><circle cx="363.8" cy="190.1" r="0.6" fill="#d02838"/><circle cx="364.5" cy="192.0" r="0.6" fill="#c02030"/><circle cx="362.5" cy="212.2" r="0.4" fill="#b01e2c"/><circle cx="339.2" cy="186.1" r="0.5" fill="#8a1828"/><circle cx="358.4" cy="205.5" r="0.5" fill="#8a1828"/><circle cx="373.3" cy="228.7" r="0.5" fill="#c02030"/><circle cx="363.9" cy="188.3" r="0.5" fill="#d02838"/><circle cx="355.3" cy="194.6" r="0.8" fill="#c02030"/><circle cx="368.6" cy="192.7" r="0.8" fill="#8a1828"/></g>
<g filter="url(#f4)"><circle cx="331.4" cy="214.3" r="0.6" fill="#a01c2c"/><circle cx="354.9" cy="214.4" r="0.4" fill="#c02030"/><circle cx="346.0" cy="228.3" r="0.4" fill="#c02030"/><circle cx="347.6" cy="220.5" r="0.6" fill="#a01c2c"/><circle cx="343.6" cy="210.7" r="0.6" fill="#c02030"/><circle cx="336.2" cy="207.1" r="0.7" fill="#a01c2c"/><circle cx="349.1" cy="212.9" r="0.7" fill="#c02030"/><circle cx="339.9" cy="227.0" r="0.7" fill="#c02030"/><circle cx="338.0" cy="219.2" r="0.5" fill="#a01c2c"/><circle cx="347.5" cy="211.1" r="0.6" fill="#a01c2c"/><circle cx="347.0" cy="209.3" r="0.7" fill="#a01c2c"/><circle cx="336.1" cy="226.5" r="0.6" fill="#a01c2c"/><circle cx="334.2" cy="224.5" r="0.5" fill="#c02030"/><circle cx="345.8" cy="228.4" r="0.6" fill="#c02030"/><circle cx="336.0" cy="214.9" r="0.9" fill="#d83040"/><circle cx="358.5" cy="210.1" r="0.8" fill="#d83040"/><circle cx="358.4" cy="216.1" r="0.5" fill="#d83040"/><circle cx="352.8" cy="213.0" r="0.9" fill="#a01c2c"/><circle cx="350.9" cy="224.7" r="0.4" fill="#c02030"/><circle cx="353.1" cy="227.0" r="0.8" fill="#c02030"/><circle cx="356.6" cy="212.4" r="0.8" fill="#c02030"/><circle cx="354.1" cy="211.6" r="0.6" fill="#d83040"/><circle cx="349.9" cy="219.4" r="0.7" fill="#c02030"/><circle cx="332.2" cy="218.1" r="0.5" fill="#d83040"/><circle cx="352.7" cy="225.7" r="0.5" fill="#a01c2c"/><circle cx="356.0" cy="219.0" r="0.5" fill="#d83040"/><circle cx="343.8" cy="226.2" r="0.8" fill="#d83040"/><circle cx="354.3" cy="224.5" r="0.7" fill="#a01c2c"/><circle cx="345.9" cy="205.3" r="0.9" fill="#c02030"/><circle cx="332.0" cy="213.2" r="0.7" fill="#d83040"/><circle cx="348.3" cy="207.7" r="0.5" fill="#a01c2c"/><circle cx="336.0" cy="214.3" r="0.8" fill="#d83040"/><circle cx="350.0" cy="212.3" r="0.6" fill="#d83040"/><circle cx="334.3" cy="205.2" r="0.5" fill="#d83040"/><circle cx="353.4" cy="216.9" r="0.4" fill="#d83040"/><circle cx="333.7" cy="215.1" r="0.9" fill="#c02030"/><circle cx="339.4" cy="209.6" r="0.8" fill="#c02030"/><circle cx="336.5" cy="224.8" r="0.8" fill="#c02030"/><circle cx="342.1" cy="222.0" r="0.7" fill="#a01c2c"/><circle cx="347.7" cy="216.5" r="0.6" fill="#c02030"/><circle cx="336.6" cy="220.4" r="0.5" fill="#d83040"/><circle cx="336.2" cy="220.5" r="0.8" fill="#a01c2c"/><circle cx="345.1" cy="207.1" r="0.8" fill="#a01c2c"/><circle cx="350.1" cy="226.5" r="0.4" fill="#a01c2c"/><circle cx="336.4" cy="208.7" r="0.8" fill="#c02030"/><circle cx="335.6" cy="215.2" r="0.7" fill="#c02030"/><circle cx="334.1" cy="212.4" r="0.8" fill="#d83040"/><circle cx="347.9" cy="221.4" r="0.8" fill="#a01c2c"/><circle cx="356.6" cy="208.6" r="0.4" fill="#d83040"/><circle cx="356.8" cy="219.1" r="0.5" fill="#d83040"/><circle cx="346.3" cy="209.9" r="0.9" fill="#d83040"/><circle cx="345.7" cy="214.2" r="0.4" fill="#d83040"/><circle cx="335.6" cy="206.8" r="0.9" fill="#a01c2c"/><circle cx="337.1" cy="226.1" r="0.8" fill="#c02030"/><circle cx="332.1" cy="228.7" r="0.8" fill="#a01c2c"/><circle cx="341.4" cy="210.9" r="0.9" fill="#d83040"/><circle cx="342.7" cy="224.8" r="0.6" fill="#d83040"/><circle cx="355.1" cy="226.7" r="0.7" fill="#d83040"/><circle cx="333.7" cy="205.8" r="0.8" fill="#d83040"/><circle cx="346.6" cy="222.4" r="0.5" fill="#a01c2c"/><circle cx="351.1" cy="222.7" r="0.7" fill="#d83040"/><circle cx="341.3" cy="221.2" r="0.6" fill="#d83040"/><circle cx="343.9" cy="210.7" r="0.6" fill="#a01c2c"/><circle cx="350.5" cy="215.8" r="0.4" fill="#c02030"/><circle cx="339.1" cy="206.2" r="0.5" fill="#c02030"/><circle cx="344.8" cy="219.5" r="0.7" fill="#c02030"/><circle cx="342.2" cy="219.2" r="0.5" fill="#d83040"/><circle cx="354.3" cy="205.8" r="0.5" fill="#c02030"/><circle cx="351.6" cy="226.8" r="0.8" fill="#d83040"/><circle cx="354.4" cy="208.5" r="0.6" fill="#d83040"/><circle cx="353.1" cy="215.1" r="0.4" fill="#c02030"/><circle cx="343.1" cy="221.4" r="0.9" fill="#c02030"/><circle cx="331.3" cy="223.0" r="0.5" fill="#c02030"/><circle cx="354.5" cy="225.0" r="0.5" fill="#c02030"/><circle cx="351.5" cy="218.2" r="0.4" fill="#c02030"/><circle cx="358.7" cy="216.2" r="0.7" fill="#a01c2c"/><circle cx="347.0" cy="218.4" r="0.6" fill="#d83040"/><circle cx="340.1" cy="219.2" r="0.7" fill="#c02030"/><circle cx="358.1" cy="226.5" r="0.8" fill="#c02030"/><circle cx="331.9" cy="222.7" r="0.4" fill="#c02030"/><circle cx="356.4" cy="222.7" r="0.4" fill="#c02030"/><circle cx="344.2" cy="222.5" r="0.7" fill="#c02030"/><circle cx="339.5" cy="228.9" r="0.8" fill="#a01c2c"/><circle cx="353.8" cy="226.5" r="0.6" fill="#c02030"/><circle cx="334.0" cy="222.8" r="0.8" fill="#a01c2c"/><circle cx="341.8" cy="210.9" r="0.7" fill="#d83040"/><circle cx="351.5" cy="205.0" r="0.8" fill="#d83040"/><circle cx="354.9" cy="221.7" r="0.7" fill="#d83040"/><circle cx="349.2" cy="210.8" r="0.8" fill="#c02030"/><circle cx="346.6" cy="208.1" r="0.4" fill="#d83040"/></g>
</g>
<circle cx="369" cy="165.5" r="0.7" fill="#fff"/>
<circle cx="369" cy="208.5" r="0.7" fill="#fff"/>
<text x="332.2" y="149.5" font-size="9.2" fill="#f2f2f2" stroke="#f2f2f2">LVe</text>
<rect x="333.0" y="179.5" width="6" height="1.7" fill="#fff"/>
<g clip-path="url(#c13)">
<rect x="375.9" y="141.2" width="65.0" height="43.20000000000002" fill="#040208"/>
<path d="M388.0,141.0 L422.0,141.0 L424.0,150.0 L422.0,158.0 L400.0,158.0 L390.0,152.0 Z" fill="#4a2060" filter="url(#f1)"/>
<path d="M377.0,162.0 L390.0,158.0 L405.0,156.0 L420.0,158.0 L423.0,170.0 L422.0,185.0 L376.0,185.0 Z" fill="#961c36" filter="url(#f1)"/>
<path d="M404.0,170.0 L412.0,166.0 L416.0,176.0 L414.0,185.0 L404.0,185.0 Z" fill="#e83838" filter="url(#f1)" opacity="0.85"/>
<path d="M390.0,162.0 L400.0,160.0 L404.0,166.0 L398.0,172.0 L390.0,170.0 Z" fill="#8a1c40" filter="url(#f1)" opacity="0.6"/>
<rect x="375.9" y="141.2" width="65.0" height="43.20000000000002" fill="#000" filter="url(#f21)" opacity="0.4"/>
<path d="M376.0,142.0 L386.0,142.0 L387.0,146.0 L383.0,149.0 L376.0,150.0 Z" fill="#5a5ed0" filter="url(#f3)"/>
<path d="M378,164 Q384,158 390,154 Q393,152 394,150" fill="none" stroke="#2a9a48" stroke-width="3.0" stroke-linecap="round" filter="url(#f1)" opacity="1"/>
<path d="M420,142 Q421,150 428,149 Q436,147 438,141 M422,149 Q418,156 422,160" fill="none" stroke="#5a62d8" stroke-width="2.6" stroke-linecap="round" filter="url(#f3)" opacity="1"/>
<circle cx="424" cy="149.8" r="0.9" fill="#f0d000"/>
<path d="M387.4,160.6 L390.5,159.4 L399.7,161.1 L403.4,163.2 L402.3,167.8 L399.7,171.9 L394.6,170.4 L388.4,166.8 L386.9,163.2 Z" fill="none" stroke="#fff" stroke-width="1.1" stroke-dasharray="1.6 1.3" stroke-linejoin="round"/>
</g>
<g clip-path="url(#c14)">
<rect x="375.9" y="185.9" width="65.0" height="43.29999999999998" fill="#040208"/>
<path d="M386.0,186.0 L424.0,186.0 L424.0,200.0 L418.0,206.0 L400.0,206.0 L388.0,200.0 Z" fill="#4a3a98" filter="url(#f1)"/>
<path d="M376.0,212.0 L392.0,206.0 L402.0,206.0 L410.0,210.0 L404.0,230.0 L376.0,230.0 Z" fill="#8a1c48" filter="url(#f1)"/>
<path d="M404.0,205.0 L418.0,205.0 L422.0,218.0 L420.0,230.0 L404.0,230.0 Z" fill="#7a2a80" filter="url(#f1)"/>
<ellipse cx="408" cy="220" rx="10" ry="10" fill="#e0305a" filter="url(#f1)" opacity="0.95"/>
<ellipse cx="410" cy="223" rx="4" ry="4" fill="#6a4aa8" filter="url(#f1)" opacity="0.8"/>
<rect x="375.9" y="185.9" width="65.0" height="43.29999999999998" fill="#000" filter="url(#f22)" opacity="0.35"/>
<path d="M376.0,189.0 L385.0,189.0 L386.0,195.0 L380.0,197.0 L376.0,197.0 Z" fill="#5a5ed0" filter="url(#f3)"/>
<path d="M378,210 Q384,200 390,196" fill="none" stroke="#1c8040" stroke-width="1.6" stroke-linecap="round" filter="url(#f3)" opacity="1"/>
<path d="M419,188 Q424,194 430,192 Q436,190 438,186 M420,196 Q418,202 424,206" fill="none" stroke="#5a62d8" stroke-width="2.6" stroke-linecap="round" filter="url(#f3)" opacity="1"/>
<circle cx="421.4" cy="212.8" r="0.9" fill="#f0d000"/>
<path d="M386.3,205.5 L390.5,204.0 L399.7,205.0 L402.8,208.1 L401.3,212.2 L398.7,216.3 L393.6,214.8 L387.4,211.2 L385.8,208.1 Z" fill="none" stroke="#fff" stroke-width="1.1" stroke-dasharray="1.6 1.3" stroke-linejoin="round"/>
</g>
<g clip-path="url(#c15)">
<rect x="442.2" y="141.2" width="42.5" height="43.20000000000002" fill="#120a16"/>
<rect x="442.2" y="141.2" width="42.5" height="43.20000000000002" fill="#000" filter="url(#f23)" opacity="0.7"/>
<g filter="url(#f4)" opacity="0.7"><circle cx="459.3" cy="166.3" r="0.6" fill="#3a30a0"/><circle cx="472.7" cy="174.5" r="0.6" fill="#4838b0"/><circle cx="443.5" cy="145.4" r="0.4" fill="#4838b0"/><circle cx="483.8" cy="172.6" r="0.8" fill="#4838b0"/><circle cx="468.5" cy="148.4" r="0.6" fill="#4838b0"/><circle cx="456.0" cy="152.6" r="0.8" fill="#3a30a0"/><circle cx="471.6" cy="156.5" r="0.5" fill="#4838b0"/><circle cx="471.4" cy="145.2" r="0.6" fill="#4838b0"/><circle cx="472.9" cy="171.4" r="0.6" fill="#4838b0"/><circle cx="466.4" cy="167.7" r="0.4" fill="#3a30a0"/><circle cx="471.3" cy="141.9" r="0.5" fill="#4838b0"/><circle cx="478.1" cy="162.9" r="0.4" fill="#4838b0"/><circle cx="456.9" cy="180.2" r="0.5" fill="#3a30a0"/><circle cx="479.6" cy="146.6" r="0.7" fill="#3a30a0"/><circle cx="474.5" cy="183.3" r="0.8" fill="#3a30a0"/><circle cx="453.9" cy="168.1" r="0.8" fill="#4838b0"/><circle cx="478.3" cy="154.6" r="0.6" fill="#4838b0"/><circle cx="476.0" cy="152.0" r="0.6" fill="#3a30a0"/><circle cx="463.2" cy="180.8" r="0.6" fill="#4838b0"/><circle cx="477.4" cy="166.8" r="0.8" fill="#3a30a0"/><circle cx="463.5" cy="159.6" r="0.8" fill="#4838b0"/><circle cx="482.9" cy="180.7" r="0.6" fill="#3a30a0"/><circle cx="456.9" cy="157.9" r="0.8" fill="#3a30a0"/><circle cx="473.8" cy="150.1" r="0.4" fill="#3a30a0"/><circle cx="458.9" cy="158.7" r="0.5" fill="#3a30a0"/><circle cx="452.1" cy="180.2" r="0.7" fill="#4838b0"/><circle cx="465.6" cy="152.5" r="0.5" fill="#3a30a0"/><circle cx="447.9" cy="164.9" r="0.8" fill="#3a30a0"/><circle cx="453.0" cy="153.6" r="0.5" fill="#4838b0"/><circle cx="480.6" cy="180.0" r="0.6" fill="#3a30a0"/><circle cx="454.8" cy="144.3" r="0.7" fill="#3a30a0"/><circle cx="443.8" cy="168.6" r="0.5" fill="#3a30a0"/><circle cx="470.4" cy="180.0" r="0.5" fill="#3a30a0"/><circle cx="445.8" cy="180.8" r="0.6" fill="#3a30a0"/><circle cx="484.5" cy="170.9" r="0.4" fill="#3a30a0"/><circle cx="482.1" cy="153.5" r="0.5" fill="#3a30a0"/><circle cx="458.2" cy="154.9" r="0.6" fill="#3a30a0"/><circle cx="456.7" cy="168.8" r="0.6" fill="#3a30a0"/><circle cx="460.2" cy="183.7" r="0.7" fill="#4838b0"/><circle cx="471.7" cy="147.9" r="0.5" fill="#3a30a0"/><circle cx="470.9" cy="176.0" r="0.6" fill="#4838b0"/><circle cx="453.5" cy="183.8" r="0.5" fill="#3a30a0"/><circle cx="471.9" cy="169.2" r="0.5" fill="#3a30a0"/><circle cx="477.8" cy="146.9" r="0.5" fill="#3a30a0"/><circle cx="465.0" cy="173.9" r="0.8" fill="#3a30a0"/><circle cx="449.0" cy="148.7" r="0.7" fill="#4838b0"/><circle cx="455.5" cy="167.6" r="0.6" fill="#3a30a0"/><circle cx="461.4" cy="169.6" r="0.6" fill="#4838b0"/><circle cx="453.8" cy="172.1" r="0.6" fill="#3a30a0"/><circle cx="459.7" cy="163.5" r="0.7" fill="#3a30a0"/><circle cx="469.4" cy="180.8" r="0.7" fill="#4838b0"/><circle cx="453.4" cy="176.9" r="0.6" fill="#4838b0"/><circle cx="449.7" cy="183.6" r="0.8" fill="#3a30a0"/><circle cx="466.6" cy="157.3" r="0.6" fill="#3a30a0"/><circle cx="474.3" cy="180.8" r="0.7" fill="#4838b0"/><circle cx="484.6" cy="141.9" r="0.7" fill="#3a30a0"/><circle cx="464.5" cy="149.4" r="0.6" fill="#3a30a0"/><circle cx="477.6" cy="155.2" r="0.8" fill="#4838b0"/><circle cx="468.1" cy="165.1" r="0.8" fill="#3a30a0"/><circle cx="464.7" cy="168.7" r="0.7" fill="#3a30a0"/><circle cx="483.6" cy="183.7" r="0.7" fill="#3a30a0"/><circle cx="472.0" cy="154.8" r="0.6" fill="#3a30a0"/><circle cx="478.7" cy="150.7" r="0.6" fill="#3a30a0"/><circle cx="450.6" cy="160.6" r="0.5" fill="#3a30a0"/><circle cx="458.4" cy="148.4" r="0.8" fill="#3a30a0"/><circle cx="463.1" cy="166.6" r="0.7" fill="#3a30a0"/><circle cx="453.2" cy="172.6" r="0.7" fill="#4838b0"/><circle cx="457.0" cy="156.7" r="0.5" fill="#3a30a0"/><circle cx="456.0" cy="156.4" r="0.4" fill="#3a30a0"/><circle cx="474.7" cy="171.3" r="0.5" fill="#4838b0"/><circle cx="484.3" cy="178.3" r="0.6" fill="#3a30a0"/><circle cx="456.9" cy="168.2" r="0.6" fill="#4838b0"/><circle cx="452.1" cy="156.2" r="0.5" fill="#4838b0"/><circle cx="468.2" cy="183.0" r="0.4" fill="#3a30a0"/><circle cx="446.7" cy="159.3" r="0.5" fill="#4838b0"/><circle cx="458.3" cy="178.5" r="0.4" fill="#4838b0"/><circle cx="470.1" cy="154.0" r="0.5" fill="#4838b0"/><circle cx="459.7" cy="183.1" r="0.5" fill="#3a30a0"/><circle cx="442.4" cy="162.7" r="0.6" fill="#3a30a0"/><circle cx="475.7" cy="144.6" r="0.7" fill="#4838b0"/><circle cx="458.8" cy="172.3" r="0.7" fill="#3a30a0"/><circle cx="454.6" cy="177.7" r="0.5" fill="#3a30a0"/><circle cx="471.8" cy="183.5" r="0.4" fill="#3a30a0"/><circle cx="460.5" cy="159.1" r="0.5" fill="#3a30a0"/><circle cx="449.8" cy="157.1" r="0.7" fill="#3a30a0"/><circle cx="465.4" cy="149.1" r="0.8" fill="#4838b0"/><circle cx="456.8" cy="180.6" r="0.5" fill="#4838b0"/><circle cx="447.2" cy="154.7" r="0.5" fill="#3a30a0"/><circle cx="478.5" cy="184.4" r="0.6" fill="#4838b0"/><circle cx="462.6" cy="162.1" r="0.8" fill="#3a30a0"/><circle cx="459.5" cy="153.9" r="0.6" fill="#4838b0"/><circle cx="443.0" cy="160.3" r="0.6" fill="#3a30a0"/><circle cx="470.7" cy="155.4" r="0.4" fill="#4838b0"/><circle cx="456.4" cy="168.4" r="0.5" fill="#3a30a0"/><circle cx="448.3" cy="172.6" r="0.7" fill="#3a30a0"/><circle cx="447.3" cy="141.3" r="0.6" fill="#3a30a0"/><circle cx="476.3" cy="165.1" r="0.7" fill="#3a30a0"/><circle cx="459.1" cy="155.8" r="0.5" fill="#4838b0"/><circle cx="455.4" cy="146.6" r="0.6" fill="#3a30a0"/><circle cx="475.7" cy="183.8" r="0.6" fill="#4838b0"/><circle cx="462.3" cy="155.3" r="0.4" fill="#3a30a0"/><circle cx="481.6" cy="182.8" r="0.6" fill="#3a30a0"/><circle cx="458.4" cy="149.0" r="0.8" fill="#4838b0"/><circle cx="476.9" cy="167.3" r="0.4" fill="#4838b0"/><circle cx="462.1" cy="152.2" r="0.4" fill="#4838b0"/><circle cx="476.4" cy="178.2" r="0.6" fill="#3a30a0"/><circle cx="451.4" cy="147.1" r="0.5" fill="#3a30a0"/><circle cx="477.4" cy="168.9" r="0.7" fill="#4838b0"/><circle cx="481.1" cy="148.7" r="0.6" fill="#4838b0"/><circle cx="442.3" cy="160.1" r="0.5" fill="#3a30a0"/></g>
<g filter="url(#f4)"><circle cx="484.0" cy="159.1" r="0.5" fill="#b01e2c"/><circle cx="454.7" cy="178.6" r="0.5" fill="#c02030"/><circle cx="457.3" cy="142.4" r="0.4" fill="#d02838"/><circle cx="443.5" cy="149.6" r="0.8" fill="#8a1828"/><circle cx="471.4" cy="164.4" r="0.5" fill="#c02030"/><circle cx="466.1" cy="160.3" r="0.8" fill="#8a1828"/><circle cx="443.9" cy="164.4" r="0.4" fill="#8a1828"/><circle cx="451.6" cy="157.3" r="0.6" fill="#8a1828"/><circle cx="460.2" cy="151.8" r="0.8" fill="#d02838"/><circle cx="478.4" cy="175.8" r="0.5" fill="#8a1828"/><circle cx="483.3" cy="171.1" r="0.8" fill="#b01e2c"/><circle cx="452.2" cy="149.0" r="0.5" fill="#b01e2c"/><circle cx="445.4" cy="171.0" r="0.6" fill="#8a1828"/><circle cx="473.3" cy="153.2" r="0.8" fill="#d02838"/><circle cx="474.1" cy="142.1" r="0.5" fill="#b01e2c"/><circle cx="482.3" cy="145.1" r="0.5" fill="#8a1828"/><circle cx="465.3" cy="171.6" r="0.7" fill="#c02030"/><circle cx="450.0" cy="146.2" r="0.7" fill="#8a1828"/><circle cx="460.6" cy="179.3" r="0.8" fill="#b01e2c"/><circle cx="481.0" cy="174.0" r="0.8" fill="#d02838"/><circle cx="450.5" cy="153.6" r="0.4" fill="#8a1828"/><circle cx="451.7" cy="170.7" r="0.6" fill="#c02030"/><circle cx="478.0" cy="146.1" r="0.6" fill="#d02838"/><circle cx="481.7" cy="183.6" r="0.5" fill="#d02838"/><circle cx="453.0" cy="171.7" r="0.5" fill="#d02838"/><circle cx="476.7" cy="162.2" r="0.8" fill="#d02838"/><circle cx="481.1" cy="156.9" r="0.5" fill="#c02030"/><circle cx="444.3" cy="152.0" r="0.7" fill="#8a1828"/><circle cx="447.5" cy="176.3" r="0.8" fill="#b01e2c"/><circle cx="466.8" cy="176.9" r="0.7" fill="#b01e2c"/><circle cx="482.2" cy="143.4" r="0.7" fill="#8a1828"/><circle cx="457.8" cy="142.2" r="0.6" fill="#8a1828"/><circle cx="484.0" cy="142.0" r="0.7" fill="#8a1828"/><circle cx="476.7" cy="151.9" r="0.5" fill="#8a1828"/><circle cx="449.3" cy="144.4" r="0.4" fill="#c02030"/><circle cx="451.9" cy="178.2" r="0.8" fill="#c02030"/><circle cx="459.8" cy="144.1" r="0.6" fill="#8a1828"/><circle cx="466.4" cy="152.0" r="0.6" fill="#c02030"/><circle cx="465.0" cy="143.4" r="0.7" fill="#b01e2c"/><circle cx="484.5" cy="181.8" r="0.4" fill="#8a1828"/><circle cx="444.3" cy="165.7" r="0.5" fill="#d02838"/><circle cx="481.4" cy="180.4" r="0.7" fill="#d02838"/><circle cx="452.8" cy="159.9" r="0.7" fill="#c02030"/><circle cx="463.9" cy="155.3" r="0.5" fill="#d02838"/><circle cx="479.4" cy="154.0" r="0.8" fill="#c02030"/><circle cx="444.6" cy="141.2" r="0.4" fill="#8a1828"/><circle cx="444.0" cy="169.9" r="0.7" fill="#8a1828"/><circle cx="460.5" cy="166.5" r="0.7" fill="#b01e2c"/><circle cx="483.7" cy="156.5" r="0.4" fill="#b01e2c"/><circle cx="473.8" cy="160.7" r="0.5" fill="#8a1828"/><circle cx="469.5" cy="144.7" r="0.5" fill="#d02838"/><circle cx="455.6" cy="156.1" r="0.4" fill="#c02030"/><circle cx="446.3" cy="168.4" r="0.6" fill="#c02030"/><circle cx="450.3" cy="149.3" r="0.7" fill="#8a1828"/><circle cx="470.8" cy="181.2" r="0.8" fill="#c02030"/><circle cx="477.2" cy="178.2" r="0.7" fill="#d02838"/><circle cx="442.3" cy="160.2" r="0.5" fill="#8a1828"/><circle cx="448.8" cy="181.3" r="0.5" fill="#c02030"/><circle cx="468.7" cy="179.5" r="0.5" fill="#8a1828"/><circle cx="448.9" cy="171.9" r="0.8" fill="#d02838"/><circle cx="477.4" cy="148.8" r="0.5" fill="#b01e2c"/><circle cx="449.4" cy="159.6" r="0.7" fill="#8a1828"/><circle cx="453.7" cy="182.8" r="0.6" fill="#d02838"/><circle cx="450.0" cy="173.3" r="0.6" fill="#d02838"/><circle cx="478.6" cy="170.0" r="0.7" fill="#d02838"/><circle cx="459.1" cy="152.4" r="0.4" fill="#8a1828"/><circle cx="442.8" cy="150.8" r="0.4" fill="#c02030"/><circle cx="460.2" cy="143.6" r="0.7" fill="#d02838"/><circle cx="462.0" cy="174.5" r="0.8" fill="#d02838"/><circle cx="466.2" cy="184.2" r="0.5" fill="#8a1828"/><circle cx="464.4" cy="148.1" r="0.5" fill="#b01e2c"/><circle cx="451.5" cy="172.1" r="0.5" fill="#c02030"/><circle cx="461.0" cy="167.0" r="0.7" fill="#b01e2c"/><circle cx="470.6" cy="150.4" r="0.4" fill="#d02838"/><circle cx="484.4" cy="180.1" r="0.8" fill="#8a1828"/><circle cx="452.5" cy="182.9" r="0.5" fill="#8a1828"/><circle cx="461.5" cy="150.7" r="0.7" fill="#8a1828"/><circle cx="465.3" cy="159.8" r="0.5" fill="#b01e2c"/><circle cx="465.6" cy="182.8" r="0.7" fill="#8a1828"/><circle cx="469.0" cy="161.6" r="0.5" fill="#b01e2c"/><circle cx="460.3" cy="152.6" r="0.6" fill="#8a1828"/><circle cx="444.9" cy="156.1" r="0.4" fill="#8a1828"/><circle cx="446.7" cy="148.5" r="0.4" fill="#b01e2c"/><circle cx="467.7" cy="144.7" r="0.4" fill="#c02030"/><circle cx="459.1" cy="151.4" r="0.6" fill="#d02838"/><circle cx="476.9" cy="160.1" r="0.7" fill="#c02030"/><circle cx="452.0" cy="150.8" r="0.7" fill="#c02030"/><circle cx="471.1" cy="148.2" r="0.5" fill="#b01e2c"/><circle cx="462.3" cy="163.1" r="0.8" fill="#c02030"/><circle cx="475.7" cy="161.9" r="0.8" fill="#8a1828"/><circle cx="475.9" cy="170.4" r="0.8" fill="#c02030"/><circle cx="482.0" cy="179.5" r="0.6" fill="#8a1828"/><circle cx="474.1" cy="166.0" r="0.6" fill="#d02838"/><circle cx="443.8" cy="165.4" r="0.8" fill="#b01e2c"/><circle cx="474.3" cy="166.2" r="0.8" fill="#d02838"/><circle cx="462.2" cy="143.7" r="0.5" fill="#c02030"/><circle cx="471.3" cy="153.6" r="0.8" fill="#8a1828"/><circle cx="470.3" cy="166.6" r="0.7" fill="#b01e2c"/><circle cx="473.2" cy="166.1" r="0.8" fill="#8a1828"/><circle cx="456.8" cy="141.4" r="0.8" fill="#8a1828"/><circle cx="457.9" cy="171.1" r="0.7" fill="#c02030"/><circle cx="478.6" cy="141.6" r="0.5" fill="#c02030"/><circle cx="483.5" cy="179.6" r="0.7" fill="#d02838"/><circle cx="447.3" cy="168.5" r="0.7" fill="#d02838"/><circle cx="460.1" cy="163.2" r="0.5" fill="#b01e2c"/><circle cx="446.1" cy="172.1" r="0.6" fill="#c02030"/><circle cx="472.6" cy="147.6" r="0.6" fill="#c02030"/><circle cx="476.8" cy="141.8" r="0.6" fill="#8a1828"/><circle cx="453.6" cy="168.7" r="0.8" fill="#b01e2c"/><circle cx="465.9" cy="155.6" r="0.5" fill="#b01e2c"/><circle cx="484.3" cy="159.3" r="0.5" fill="#8a1828"/><circle cx="482.9" cy="157.8" r="0.4" fill="#b01e2c"/><circle cx="471.1" cy="179.4" r="0.4" fill="#8a1828"/><circle cx="463.7" cy="155.2" r="0.6" fill="#c02030"/><circle cx="468.4" cy="177.7" r="0.7" fill="#c02030"/><circle cx="476.5" cy="181.6" r="0.6" fill="#d02838"/><circle cx="481.6" cy="174.0" r="0.7" fill="#b01e2c"/><circle cx="459.8" cy="167.6" r="0.5" fill="#8a1828"/><circle cx="462.4" cy="169.2" r="0.8" fill="#8a1828"/><circle cx="455.1" cy="169.2" r="0.5" fill="#8a1828"/><circle cx="445.6" cy="149.8" r="0.4" fill="#8a1828"/><circle cx="471.7" cy="146.8" r="0.8" fill="#c02030"/><circle cx="442.8" cy="143.4" r="0.4" fill="#b01e2c"/><circle cx="472.2" cy="174.9" r="0.7" fill="#8a1828"/><circle cx="448.3" cy="161.4" r="0.4" fill="#d02838"/><circle cx="474.4" cy="167.9" r="0.7" fill="#8a1828"/><circle cx="447.2" cy="151.9" r="0.7" fill="#c02030"/><circle cx="449.0" cy="149.3" r="0.5" fill="#d02838"/><circle cx="465.9" cy="143.0" r="0.6" fill="#8a1828"/><circle cx="468.8" cy="169.2" r="0.7" fill="#8a1828"/><circle cx="454.7" cy="164.8" r="0.6" fill="#c02030"/><circle cx="448.0" cy="146.1" r="0.6" fill="#b01e2c"/><circle cx="452.2" cy="181.6" r="0.6" fill="#b01e2c"/><circle cx="452.0" cy="149.4" r="0.4" fill="#c02030"/><circle cx="449.9" cy="172.8" r="0.4" fill="#b01e2c"/><circle cx="473.4" cy="171.9" r="0.8" fill="#d02838"/><circle cx="445.4" cy="151.1" r="0.5" fill="#c02030"/><circle cx="447.9" cy="155.6" r="0.7" fill="#d02838"/><circle cx="476.3" cy="180.2" r="0.8" fill="#b01e2c"/><circle cx="465.1" cy="159.0" r="0.5" fill="#8a1828"/><circle cx="445.7" cy="179.8" r="0.8" fill="#8a1828"/><circle cx="479.3" cy="151.9" r="0.7" fill="#c02030"/><circle cx="460.7" cy="171.3" r="0.7" fill="#b01e2c"/><circle cx="448.0" cy="173.4" r="0.4" fill="#8a1828"/><circle cx="464.5" cy="175.6" r="0.8" fill="#b01e2c"/><circle cx="471.1" cy="143.3" r="0.5" fill="#8a1828"/><circle cx="460.2" cy="154.2" r="0.5" fill="#b01e2c"/><circle cx="484.4" cy="158.2" r="0.8" fill="#8a1828"/><circle cx="444.8" cy="169.7" r="0.8" fill="#d02838"/><circle cx="459.2" cy="143.6" r="0.6" fill="#8a1828"/><circle cx="447.8" cy="180.0" r="0.5" fill="#d02838"/><circle cx="477.0" cy="160.0" r="0.7" fill="#8a1828"/><circle cx="446.2" cy="157.5" r="0.6" fill="#d02838"/><circle cx="446.4" cy="145.1" r="0.8" fill="#d02838"/><circle cx="469.6" cy="160.4" r="0.8" fill="#c02030"/><circle cx="456.0" cy="178.9" r="0.8" fill="#d02838"/><circle cx="462.6" cy="160.9" r="0.8" fill="#8a1828"/><circle cx="475.6" cy="152.0" r="0.5" fill="#c02030"/><circle cx="446.6" cy="171.9" r="0.7" fill="#b01e2c"/><circle cx="465.2" cy="164.9" r="0.7" fill="#8a1828"/></g>
<g filter="url(#f4)"><circle cx="471.7" cy="152.1" r="0.9" fill="#50e050"/><circle cx="454.3" cy="154.6" r="0.9" fill="#38c040"/><circle cx="450.6" cy="163.4" r="1.0" fill="#38c040"/><circle cx="484.1" cy="171.8" r="0.5" fill="#38c040"/><circle cx="480.0" cy="158.4" r="1.0" fill="#2aa038"/><circle cx="472.7" cy="174.7" r="0.9" fill="#70f060"/><circle cx="466.3" cy="152.8" r="0.7" fill="#70f060"/><circle cx="473.0" cy="165.8" r="0.7" fill="#38c040"/><circle cx="467.8" cy="156.8" r="1.1" fill="#2aa038"/><circle cx="466.9" cy="145.2" r="0.7" fill="#50e050"/><circle cx="450.2" cy="149.2" r="0.7" fill="#38c040"/><circle cx="460.8" cy="178.1" r="0.8" fill="#50e050"/><circle cx="451.1" cy="163.2" r="0.8" fill="#70f060"/><circle cx="477.3" cy="160.1" r="0.8" fill="#2aa038"/><circle cx="464.9" cy="180.9" r="1.0" fill="#38c040"/><circle cx="451.0" cy="175.0" r="1.0" fill="#2aa038"/><circle cx="484.4" cy="171.0" r="0.6" fill="#2aa038"/><circle cx="463.1" cy="181.6" r="1.1" fill="#38c040"/><circle cx="469.8" cy="155.7" r="0.7" fill="#38c040"/><circle cx="461.2" cy="179.6" r="1.0" fill="#50e050"/><circle cx="474.7" cy="172.4" r="0.5" fill="#50e050"/><circle cx="474.7" cy="165.4" r="0.9" fill="#50e050"/><circle cx="456.1" cy="177.7" r="0.6" fill="#2aa038"/><circle cx="467.7" cy="161.9" r="0.6" fill="#38c040"/><circle cx="477.4" cy="168.0" r="0.9" fill="#70f060"/><circle cx="483.8" cy="142.3" r="1.0" fill="#38c040"/><circle cx="454.6" cy="160.4" r="0.6" fill="#38c040"/><circle cx="479.8" cy="166.4" r="1.0" fill="#50e050"/><circle cx="459.4" cy="175.4" r="1.1" fill="#50e050"/><circle cx="452.6" cy="149.0" r="1.0" fill="#50e050"/><circle cx="479.7" cy="180.2" r="1.1" fill="#2aa038"/><circle cx="471.8" cy="177.1" r="1.1" fill="#2aa038"/><circle cx="470.3" cy="179.9" r="1.0" fill="#38c040"/><circle cx="482.0" cy="148.9" r="0.8" fill="#50e050"/><circle cx="443.6" cy="146.1" r="0.9" fill="#50e050"/><circle cx="479.8" cy="166.0" r="1.0" fill="#70f060"/><circle cx="474.9" cy="148.3" r="1.2" fill="#70f060"/><circle cx="447.8" cy="170.9" r="0.7" fill="#50e050"/><circle cx="462.2" cy="175.6" r="0.6" fill="#50e050"/><circle cx="474.8" cy="165.4" r="0.6" fill="#50e050"/><circle cx="451.0" cy="158.0" r="1.1" fill="#50e050"/><circle cx="453.2" cy="150.1" r="0.5" fill="#38c040"/><circle cx="477.8" cy="179.7" r="1.1" fill="#70f060"/><circle cx="459.2" cy="177.1" r="0.6" fill="#50e050"/><circle cx="456.6" cy="159.1" r="0.5" fill="#38c040"/><circle cx="443.4" cy="147.7" r="1.1" fill="#2aa038"/><circle cx="473.2" cy="182.9" r="0.8" fill="#2aa038"/><circle cx="464.7" cy="153.5" r="0.7" fill="#38c040"/><circle cx="463.6" cy="164.6" r="0.8" fill="#2aa038"/><circle cx="466.0" cy="147.6" r="0.6" fill="#2aa038"/><circle cx="458.2" cy="159.8" r="0.8" fill="#50e050"/><circle cx="478.7" cy="169.8" r="1.1" fill="#2aa038"/><circle cx="455.6" cy="151.8" r="0.9" fill="#70f060"/><circle cx="465.6" cy="151.8" r="1.0" fill="#38c040"/><circle cx="461.8" cy="165.2" r="0.7" fill="#70f060"/></g>
</g>
<g clip-path="url(#c16)">
<rect x="442.2" y="185.9" width="42.5" height="43.29999999999998" fill="#120a16"/>
<rect x="442.2" y="185.9" width="42.5" height="43.29999999999998" fill="#000" filter="url(#f24)" opacity="0.7"/>
<g filter="url(#f4)" opacity="0.7"><circle cx="475.4" cy="200.8" r="0.5" fill="#3a30a0"/><circle cx="468.1" cy="207.6" r="0.6" fill="#3a30a0"/><circle cx="481.2" cy="224.9" r="0.6" fill="#3a30a0"/><circle cx="459.1" cy="193.3" r="0.8" fill="#3a30a0"/><circle cx="467.2" cy="198.3" r="0.6" fill="#3a30a0"/><circle cx="450.7" cy="187.2" r="0.7" fill="#4838b0"/><circle cx="479.9" cy="189.2" r="0.5" fill="#3a30a0"/><circle cx="446.7" cy="209.1" r="0.6" fill="#4838b0"/><circle cx="455.6" cy="207.3" r="0.6" fill="#3a30a0"/><circle cx="461.7" cy="194.0" r="0.7" fill="#3a30a0"/><circle cx="459.2" cy="186.6" r="0.7" fill="#3a30a0"/><circle cx="483.3" cy="201.3" r="0.5" fill="#4838b0"/><circle cx="448.7" cy="190.1" r="0.7" fill="#3a30a0"/><circle cx="443.6" cy="187.4" r="0.5" fill="#4838b0"/><circle cx="462.8" cy="196.9" r="0.5" fill="#4838b0"/><circle cx="450.6" cy="213.2" r="0.5" fill="#3a30a0"/><circle cx="455.9" cy="225.5" r="0.6" fill="#4838b0"/><circle cx="469.4" cy="206.5" r="0.7" fill="#4838b0"/><circle cx="454.9" cy="212.4" r="0.5" fill="#4838b0"/><circle cx="476.2" cy="186.7" r="0.5" fill="#3a30a0"/><circle cx="445.8" cy="207.1" r="0.5" fill="#4838b0"/><circle cx="447.1" cy="220.0" r="0.5" fill="#3a30a0"/><circle cx="470.7" cy="213.7" r="0.5" fill="#4838b0"/><circle cx="450.2" cy="223.9" r="0.7" fill="#3a30a0"/><circle cx="473.9" cy="188.8" r="0.5" fill="#4838b0"/><circle cx="482.3" cy="221.5" r="0.7" fill="#4838b0"/><circle cx="457.9" cy="227.6" r="0.8" fill="#4838b0"/><circle cx="454.1" cy="204.8" r="0.5" fill="#3a30a0"/><circle cx="480.3" cy="212.8" r="0.4" fill="#3a30a0"/><circle cx="474.1" cy="188.3" r="0.5" fill="#3a30a0"/><circle cx="466.6" cy="227.1" r="0.7" fill="#3a30a0"/><circle cx="448.9" cy="198.5" r="0.6" fill="#4838b0"/><circle cx="476.9" cy="227.4" r="0.6" fill="#3a30a0"/><circle cx="456.2" cy="211.4" r="0.6" fill="#3a30a0"/><circle cx="465.1" cy="212.6" r="0.6" fill="#4838b0"/><circle cx="462.6" cy="209.1" r="0.5" fill="#3a30a0"/><circle cx="450.6" cy="202.4" r="0.7" fill="#3a30a0"/><circle cx="469.1" cy="225.2" r="0.5" fill="#4838b0"/><circle cx="450.6" cy="216.7" r="0.4" fill="#4838b0"/><circle cx="457.0" cy="189.9" r="0.6" fill="#3a30a0"/><circle cx="466.1" cy="196.7" r="0.4" fill="#3a30a0"/><circle cx="467.9" cy="222.0" r="0.5" fill="#4838b0"/><circle cx="461.8" cy="200.4" r="0.5" fill="#3a30a0"/><circle cx="442.5" cy="214.5" r="0.8" fill="#4838b0"/><circle cx="448.3" cy="225.3" r="0.6" fill="#3a30a0"/><circle cx="470.7" cy="217.0" r="0.8" fill="#4838b0"/><circle cx="462.3" cy="211.7" r="0.8" fill="#4838b0"/><circle cx="466.9" cy="208.8" r="0.5" fill="#3a30a0"/><circle cx="465.6" cy="214.0" r="0.7" fill="#3a30a0"/><circle cx="444.2" cy="210.8" r="0.6" fill="#4838b0"/><circle cx="460.2" cy="226.6" r="0.7" fill="#4838b0"/><circle cx="451.6" cy="204.5" r="0.7" fill="#4838b0"/><circle cx="460.8" cy="217.0" r="0.8" fill="#3a30a0"/><circle cx="464.7" cy="211.0" r="0.6" fill="#3a30a0"/><circle cx="465.4" cy="211.2" r="0.6" fill="#4838b0"/><circle cx="480.0" cy="199.1" r="0.7" fill="#4838b0"/><circle cx="444.3" cy="214.4" r="0.5" fill="#3a30a0"/><circle cx="466.6" cy="192.2" r="0.4" fill="#4838b0"/><circle cx="446.2" cy="200.1" r="0.4" fill="#3a30a0"/><circle cx="468.3" cy="227.1" r="0.6" fill="#3a30a0"/><circle cx="464.9" cy="189.9" r="0.8" fill="#4838b0"/><circle cx="477.8" cy="212.0" r="0.7" fill="#4838b0"/><circle cx="456.8" cy="191.1" r="0.6" fill="#3a30a0"/><circle cx="468.0" cy="221.3" r="0.7" fill="#3a30a0"/><circle cx="472.3" cy="191.9" r="0.5" fill="#3a30a0"/><circle cx="451.7" cy="198.1" r="0.4" fill="#3a30a0"/><circle cx="453.2" cy="189.1" r="0.5" fill="#3a30a0"/><circle cx="474.9" cy="211.3" r="0.7" fill="#3a30a0"/><circle cx="474.4" cy="193.9" r="0.4" fill="#3a30a0"/><circle cx="461.0" cy="191.3" r="0.7" fill="#3a30a0"/><circle cx="476.6" cy="191.7" r="0.4" fill="#3a30a0"/><circle cx="469.3" cy="200.2" r="0.4" fill="#4838b0"/><circle cx="472.5" cy="207.9" r="0.7" fill="#3a30a0"/><circle cx="444.9" cy="187.6" r="0.4" fill="#3a30a0"/><circle cx="445.0" cy="201.5" r="0.6" fill="#4838b0"/><circle cx="472.3" cy="199.9" r="0.5" fill="#3a30a0"/><circle cx="478.5" cy="205.5" r="0.7" fill="#3a30a0"/><circle cx="445.7" cy="210.8" r="0.6" fill="#3a30a0"/><circle cx="460.9" cy="220.9" r="0.4" fill="#3a30a0"/><circle cx="443.8" cy="196.4" r="0.5" fill="#4838b0"/><circle cx="483.7" cy="205.7" r="0.7" fill="#4838b0"/><circle cx="445.8" cy="222.8" r="0.7" fill="#4838b0"/><circle cx="466.3" cy="222.8" r="0.8" fill="#4838b0"/><circle cx="468.3" cy="205.2" r="0.8" fill="#4838b0"/><circle cx="468.8" cy="189.4" r="0.7" fill="#4838b0"/><circle cx="471.6" cy="225.4" r="0.6" fill="#4838b0"/><circle cx="479.7" cy="211.9" r="0.7" fill="#4838b0"/><circle cx="466.5" cy="222.2" r="0.8" fill="#4838b0"/><circle cx="448.3" cy="213.8" r="0.6" fill="#3a30a0"/><circle cx="468.1" cy="193.0" r="0.7" fill="#3a30a0"/><circle cx="442.8" cy="223.8" r="0.5" fill="#4838b0"/><circle cx="471.6" cy="191.7" r="0.5" fill="#3a30a0"/><circle cx="476.5" cy="214.3" r="0.5" fill="#3a30a0"/><circle cx="479.0" cy="214.1" r="0.8" fill="#4838b0"/><circle cx="480.4" cy="223.2" r="0.7" fill="#4838b0"/><circle cx="459.1" cy="216.3" r="0.4" fill="#4838b0"/><circle cx="449.0" cy="207.0" r="0.4" fill="#3a30a0"/><circle cx="468.0" cy="189.0" r="0.8" fill="#4838b0"/><circle cx="470.6" cy="194.8" r="0.7" fill="#3a30a0"/><circle cx="461.1" cy="196.6" r="0.5" fill="#3a30a0"/><circle cx="453.4" cy="199.5" r="0.5" fill="#3a30a0"/><circle cx="466.8" cy="206.2" r="0.7" fill="#3a30a0"/><circle cx="469.2" cy="196.8" r="0.6" fill="#4838b0"/><circle cx="448.4" cy="204.7" r="0.4" fill="#3a30a0"/><circle cx="470.6" cy="197.3" r="0.8" fill="#4838b0"/><circle cx="483.1" cy="200.3" r="0.6" fill="#3a30a0"/><circle cx="476.1" cy="218.8" r="0.7" fill="#4838b0"/><circle cx="466.0" cy="207.5" r="0.6" fill="#4838b0"/><circle cx="477.1" cy="189.2" r="0.5" fill="#4838b0"/><circle cx="476.1" cy="206.4" r="0.8" fill="#3a30a0"/></g>
<g filter="url(#f4)"><circle cx="443.4" cy="216.8" r="0.7" fill="#c02030"/><circle cx="448.5" cy="218.0" r="0.7" fill="#d02838"/><circle cx="459.4" cy="204.0" r="0.5" fill="#d02838"/><circle cx="455.6" cy="187.4" r="0.6" fill="#8a1828"/><circle cx="484.2" cy="225.0" r="0.7" fill="#8a1828"/><circle cx="469.3" cy="225.6" r="0.6" fill="#d02838"/><circle cx="445.1" cy="222.5" r="0.5" fill="#c02030"/><circle cx="464.9" cy="215.1" r="0.6" fill="#c02030"/><circle cx="477.5" cy="209.0" r="0.7" fill="#8a1828"/><circle cx="455.8" cy="223.9" r="0.8" fill="#8a1828"/><circle cx="470.5" cy="222.8" r="0.7" fill="#b01e2c"/><circle cx="467.2" cy="202.1" r="0.6" fill="#c02030"/><circle cx="447.3" cy="190.1" r="0.5" fill="#d02838"/><circle cx="453.9" cy="197.3" r="0.6" fill="#b01e2c"/><circle cx="481.7" cy="218.3" r="0.8" fill="#c02030"/><circle cx="466.4" cy="192.9" r="0.6" fill="#d02838"/><circle cx="483.8" cy="218.4" r="0.5" fill="#d02838"/><circle cx="473.7" cy="196.2" r="0.5" fill="#8a1828"/><circle cx="443.0" cy="223.6" r="0.8" fill="#b01e2c"/><circle cx="464.7" cy="220.4" r="0.8" fill="#d02838"/><circle cx="463.1" cy="206.7" r="0.5" fill="#8a1828"/><circle cx="463.3" cy="204.5" r="0.5" fill="#b01e2c"/><circle cx="478.8" cy="192.4" r="0.5" fill="#8a1828"/><circle cx="456.9" cy="208.0" r="0.8" fill="#b01e2c"/><circle cx="449.9" cy="219.6" r="0.6" fill="#b01e2c"/><circle cx="475.3" cy="200.7" r="0.5" fill="#b01e2c"/><circle cx="479.3" cy="200.3" r="0.4" fill="#8a1828"/><circle cx="464.8" cy="197.9" r="0.8" fill="#8a1828"/><circle cx="474.8" cy="202.7" r="0.8" fill="#8a1828"/><circle cx="464.8" cy="186.1" r="0.4" fill="#8a1828"/><circle cx="450.6" cy="186.1" r="0.6" fill="#d02838"/><circle cx="470.1" cy="225.6" r="0.7" fill="#8a1828"/><circle cx="470.3" cy="228.8" r="0.7" fill="#d02838"/><circle cx="450.1" cy="209.5" r="0.6" fill="#8a1828"/><circle cx="476.9" cy="191.4" r="0.4" fill="#c02030"/><circle cx="469.0" cy="204.0" r="0.6" fill="#c02030"/><circle cx="455.8" cy="200.3" r="0.7" fill="#8a1828"/><circle cx="467.7" cy="225.9" r="0.7" fill="#d02838"/><circle cx="449.4" cy="216.5" r="0.8" fill="#b01e2c"/><circle cx="471.2" cy="205.0" r="0.4" fill="#c02030"/><circle cx="456.0" cy="188.3" r="0.4" fill="#c02030"/><circle cx="458.5" cy="188.8" r="0.6" fill="#b01e2c"/><circle cx="450.9" cy="217.3" r="0.6" fill="#b01e2c"/><circle cx="443.7" cy="194.5" r="0.6" fill="#c02030"/><circle cx="470.7" cy="202.5" r="0.7" fill="#b01e2c"/><circle cx="467.4" cy="216.5" r="0.8" fill="#8a1828"/><circle cx="458.5" cy="199.1" r="0.8" fill="#8a1828"/><circle cx="461.6" cy="225.6" r="0.8" fill="#d02838"/><circle cx="448.2" cy="217.9" r="0.6" fill="#d02838"/><circle cx="481.4" cy="226.2" r="0.4" fill="#b01e2c"/><circle cx="475.9" cy="190.9" r="0.8" fill="#b01e2c"/><circle cx="474.0" cy="189.7" r="0.5" fill="#d02838"/><circle cx="463.2" cy="200.9" r="0.8" fill="#d02838"/><circle cx="462.5" cy="208.6" r="0.6" fill="#b01e2c"/><circle cx="461.8" cy="198.2" r="0.7" fill="#b01e2c"/><circle cx="458.8" cy="194.0" r="0.4" fill="#d02838"/><circle cx="478.6" cy="205.7" r="0.6" fill="#b01e2c"/><circle cx="455.7" cy="204.4" r="0.5" fill="#c02030"/><circle cx="479.5" cy="196.8" r="0.6" fill="#c02030"/><circle cx="466.9" cy="215.6" r="0.5" fill="#c02030"/><circle cx="483.1" cy="192.8" r="0.7" fill="#b01e2c"/><circle cx="447.2" cy="219.5" r="0.8" fill="#8a1828"/><circle cx="445.3" cy="196.3" r="0.5" fill="#b01e2c"/><circle cx="478.3" cy="187.0" r="0.6" fill="#8a1828"/><circle cx="459.7" cy="218.9" r="0.8" fill="#c02030"/><circle cx="442.3" cy="202.5" r="0.5" fill="#b01e2c"/><circle cx="479.0" cy="187.5" r="0.8" fill="#d02838"/><circle cx="471.6" cy="223.3" r="0.5" fill="#b01e2c"/><circle cx="478.2" cy="203.8" r="0.7" fill="#b01e2c"/><circle cx="449.2" cy="202.8" r="0.8" fill="#d02838"/><circle cx="481.8" cy="216.3" r="0.8" fill="#c02030"/><circle cx="451.6" cy="222.9" r="0.7" fill="#b01e2c"/><circle cx="455.0" cy="224.7" r="0.4" fill="#b01e2c"/><circle cx="447.5" cy="199.6" r="0.5" fill="#b01e2c"/><circle cx="452.1" cy="197.7" r="0.5" fill="#8a1828"/><circle cx="482.0" cy="191.5" r="0.5" fill="#b01e2c"/><circle cx="456.5" cy="197.6" r="0.8" fill="#c02030"/><circle cx="465.1" cy="186.1" r="0.6" fill="#b01e2c"/><circle cx="456.5" cy="216.9" r="0.6" fill="#c02030"/><circle cx="482.7" cy="188.0" r="0.8" fill="#8a1828"/><circle cx="480.5" cy="194.9" r="0.6" fill="#b01e2c"/><circle cx="462.5" cy="224.7" r="0.8" fill="#b01e2c"/><circle cx="466.0" cy="206.8" r="0.5" fill="#b01e2c"/><circle cx="461.4" cy="215.4" r="0.5" fill="#c02030"/><circle cx="458.9" cy="203.9" r="0.6" fill="#d02838"/><circle cx="448.0" cy="225.4" r="0.8" fill="#8a1828"/><circle cx="467.8" cy="204.3" r="0.7" fill="#b01e2c"/><circle cx="444.0" cy="221.9" r="0.7" fill="#8a1828"/><circle cx="471.6" cy="185.9" r="0.8" fill="#c02030"/><circle cx="467.0" cy="227.9" r="0.5" fill="#c02030"/><circle cx="442.6" cy="207.3" r="0.4" fill="#d02838"/><circle cx="451.7" cy="190.1" r="0.5" fill="#8a1828"/><circle cx="474.0" cy="190.2" r="0.5" fill="#8a1828"/><circle cx="450.4" cy="208.3" r="0.7" fill="#c02030"/><circle cx="453.8" cy="206.2" r="0.8" fill="#8a1828"/><circle cx="478.0" cy="193.9" r="0.6" fill="#c02030"/><circle cx="479.6" cy="224.3" r="0.4" fill="#d02838"/><circle cx="477.7" cy="189.7" r="0.8" fill="#8a1828"/><circle cx="471.4" cy="212.9" r="0.7" fill="#8a1828"/><circle cx="453.0" cy="195.8" r="0.8" fill="#8a1828"/><circle cx="457.9" cy="203.0" r="0.6" fill="#c02030"/><circle cx="474.8" cy="191.9" r="0.8" fill="#b01e2c"/><circle cx="459.6" cy="209.9" r="0.5" fill="#c02030"/><circle cx="463.8" cy="203.5" r="0.6" fill="#b01e2c"/><circle cx="484.5" cy="203.3" r="0.8" fill="#d02838"/><circle cx="463.0" cy="190.1" r="0.6" fill="#c02030"/><circle cx="454.3" cy="188.1" r="0.7" fill="#b01e2c"/><circle cx="467.6" cy="204.4" r="0.8" fill="#c02030"/><circle cx="482.4" cy="227.0" r="0.8" fill="#8a1828"/><circle cx="475.6" cy="200.5" r="0.7" fill="#c02030"/><circle cx="459.1" cy="199.4" r="0.7" fill="#d02838"/><circle cx="466.1" cy="186.7" r="0.6" fill="#c02030"/><circle cx="445.0" cy="191.3" r="0.5" fill="#8a1828"/><circle cx="456.5" cy="221.4" r="0.8" fill="#b01e2c"/><circle cx="454.5" cy="216.9" r="0.5" fill="#d02838"/><circle cx="465.0" cy="209.1" r="0.5" fill="#8a1828"/><circle cx="446.2" cy="198.0" r="0.8" fill="#8a1828"/><circle cx="443.1" cy="212.1" r="0.8" fill="#c02030"/><circle cx="483.5" cy="209.9" r="0.5" fill="#8a1828"/><circle cx="447.2" cy="197.8" r="0.7" fill="#d02838"/><circle cx="477.8" cy="189.1" r="0.6" fill="#d02838"/><circle cx="479.9" cy="225.8" r="0.8" fill="#d02838"/><circle cx="442.3" cy="208.6" r="0.7" fill="#d02838"/><circle cx="454.9" cy="192.0" r="0.5" fill="#b01e2c"/><circle cx="475.0" cy="212.7" r="0.8" fill="#b01e2c"/><circle cx="476.7" cy="194.3" r="0.7" fill="#d02838"/><circle cx="460.2" cy="196.7" r="0.4" fill="#8a1828"/><circle cx="469.1" cy="197.5" r="0.5" fill="#b01e2c"/><circle cx="472.6" cy="206.5" r="0.8" fill="#b01e2c"/><circle cx="460.4" cy="197.8" r="0.6" fill="#8a1828"/><circle cx="456.6" cy="202.3" r="0.8" fill="#b01e2c"/><circle cx="452.1" cy="197.4" r="0.8" fill="#b01e2c"/><circle cx="457.1" cy="206.3" r="0.7" fill="#b01e2c"/><circle cx="448.8" cy="196.6" r="0.8" fill="#d02838"/><circle cx="481.1" cy="216.8" r="0.8" fill="#d02838"/><circle cx="476.7" cy="191.8" r="0.7" fill="#b01e2c"/><circle cx="478.9" cy="221.3" r="0.4" fill="#d02838"/><circle cx="482.1" cy="223.0" r="0.4" fill="#8a1828"/><circle cx="473.4" cy="199.0" r="0.4" fill="#8a1828"/><circle cx="480.1" cy="206.7" r="0.6" fill="#c02030"/><circle cx="477.4" cy="214.5" r="0.4" fill="#b01e2c"/><circle cx="457.5" cy="211.7" r="0.7" fill="#c02030"/><circle cx="448.1" cy="191.4" r="0.8" fill="#8a1828"/><circle cx="468.8" cy="227.1" r="0.5" fill="#d02838"/><circle cx="474.7" cy="200.7" r="0.8" fill="#b01e2c"/><circle cx="464.8" cy="192.2" r="0.6" fill="#c02030"/><circle cx="460.1" cy="188.0" r="0.4" fill="#8a1828"/><circle cx="476.1" cy="224.9" r="0.5" fill="#d02838"/><circle cx="462.6" cy="186.1" r="0.8" fill="#b01e2c"/><circle cx="463.7" cy="192.6" r="0.5" fill="#8a1828"/><circle cx="447.7" cy="199.0" r="0.5" fill="#8a1828"/><circle cx="467.7" cy="212.4" r="0.7" fill="#c02030"/><circle cx="455.1" cy="187.0" r="0.7" fill="#c02030"/><circle cx="480.1" cy="227.8" r="0.8" fill="#8a1828"/><circle cx="453.9" cy="203.1" r="0.5" fill="#8a1828"/><circle cx="457.8" cy="221.6" r="0.5" fill="#b01e2c"/><circle cx="454.6" cy="191.6" r="0.6" fill="#8a1828"/><circle cx="476.2" cy="216.4" r="0.8" fill="#b01e2c"/><circle cx="472.5" cy="199.5" r="0.4" fill="#c02030"/><circle cx="467.1" cy="212.6" r="0.8" fill="#c02030"/><circle cx="449.1" cy="216.3" r="0.6" fill="#b01e2c"/><circle cx="468.2" cy="186.3" r="0.6" fill="#8a1828"/><circle cx="467.4" cy="216.3" r="0.5" fill="#d02838"/><circle cx="453.1" cy="222.1" r="0.6" fill="#d02838"/><circle cx="447.6" cy="203.1" r="0.5" fill="#d02838"/><circle cx="445.5" cy="193.8" r="0.6" fill="#b01e2c"/><circle cx="443.0" cy="212.4" r="0.7" fill="#b01e2c"/><circle cx="464.5" cy="219.7" r="0.4" fill="#d02838"/><circle cx="449.3" cy="210.7" r="0.6" fill="#8a1828"/><circle cx="470.1" cy="201.5" r="0.4" fill="#8a1828"/><circle cx="442.7" cy="201.0" r="0.4" fill="#c02030"/><circle cx="472.4" cy="195.0" r="0.5" fill="#c02030"/><circle cx="450.0" cy="190.7" r="0.5" fill="#c02030"/><circle cx="464.5" cy="226.7" r="0.5" fill="#8a1828"/><circle cx="478.2" cy="223.1" r="0.4" fill="#b01e2c"/><circle cx="472.7" cy="197.8" r="0.5" fill="#8a1828"/><circle cx="453.0" cy="192.3" r="0.8" fill="#d02838"/><circle cx="447.2" cy="188.2" r="0.6" fill="#b01e2c"/><circle cx="480.1" cy="193.0" r="0.6" fill="#c02030"/><circle cx="482.9" cy="224.3" r="0.6" fill="#b01e2c"/><circle cx="445.7" cy="218.2" r="0.7" fill="#c02030"/><circle cx="459.8" cy="196.3" r="0.7" fill="#c02030"/><circle cx="471.9" cy="198.5" r="0.6" fill="#8a1828"/><circle cx="465.6" cy="189.1" r="0.6" fill="#c02030"/><circle cx="447.7" cy="218.5" r="0.5" fill="#b01e2c"/><circle cx="443.9" cy="223.4" r="0.7" fill="#d02838"/><circle cx="444.2" cy="224.6" r="0.5" fill="#b01e2c"/><circle cx="450.8" cy="225.0" r="0.6" fill="#d02838"/><circle cx="475.8" cy="204.4" r="0.6" fill="#8a1828"/><circle cx="445.4" cy="198.3" r="0.5" fill="#c02030"/><circle cx="472.2" cy="222.2" r="0.8" fill="#c02030"/><circle cx="455.7" cy="217.2" r="0.6" fill="#8a1828"/><circle cx="444.1" cy="188.2" r="0.8" fill="#c02030"/><circle cx="476.5" cy="223.7" r="0.7" fill="#8a1828"/><circle cx="474.0" cy="189.9" r="0.5" fill="#c02030"/><circle cx="444.4" cy="225.9" r="0.5" fill="#b01e2c"/><circle cx="469.1" cy="191.7" r="0.7" fill="#b01e2c"/><circle cx="456.8" cy="212.0" r="0.7" fill="#8a1828"/><circle cx="463.1" cy="194.2" r="0.8" fill="#d02838"/><circle cx="469.0" cy="228.6" r="0.7" fill="#b01e2c"/><circle cx="473.6" cy="210.5" r="0.8" fill="#b01e2c"/><circle cx="443.0" cy="207.1" r="0.6" fill="#c02030"/><circle cx="472.4" cy="223.3" r="0.8" fill="#b01e2c"/><circle cx="483.0" cy="194.1" r="0.6" fill="#c02030"/><circle cx="459.5" cy="203.5" r="0.8" fill="#d02838"/><circle cx="463.6" cy="222.8" r="0.8" fill="#d02838"/><circle cx="450.7" cy="207.5" r="0.6" fill="#c02030"/><circle cx="455.4" cy="187.1" r="0.6" fill="#b01e2c"/><circle cx="478.1" cy="201.0" r="0.5" fill="#8a1828"/><circle cx="478.7" cy="225.1" r="0.7" fill="#b01e2c"/></g>
<g filter="url(#f4)"><circle cx="456.8" cy="187.4" r="0.7" fill="#2aa038"/><circle cx="481.8" cy="208.2" r="0.7" fill="#38c040"/><circle cx="474.1" cy="191.0" r="0.6" fill="#2aa038"/><circle cx="464.6" cy="218.7" r="0.9" fill="#2aa038"/><circle cx="457.9" cy="223.0" r="0.7" fill="#2aa038"/><circle cx="459.1" cy="201.6" r="0.5" fill="#38c040"/><circle cx="463.4" cy="186.8" r="0.6" fill="#38c040"/><circle cx="458.7" cy="227.3" r="0.8" fill="#2aa038"/><circle cx="453.7" cy="213.8" r="0.6" fill="#38c040"/><circle cx="474.3" cy="197.8" r="0.9" fill="#38c040"/></g>
<ellipse cx="457" cy="200" rx="1.6" ry="2.4" fill="#30b040" filter="url(#f4)" opacity="1"/>
<ellipse cx="470" cy="206" rx="1.4" ry="2.0" fill="#30a040" filter="url(#f4)" opacity="1"/>
</g>
<circle cx="481" cy="172" r="0.8" fill="#fff"/>
<circle cx="481" cy="216" r="0.8" fill="#fff"/>
<rect x="264.4" y="141.2" width="64.30000000000001" height="43.20000000000002" fill="none" stroke="#111" stroke-width="0.6"/>
<rect x="264.4" y="185.9" width="64.30000000000001" height="43.29999999999998" fill="none" stroke="#111" stroke-width="0.6"/>
<rect x="330.3" y="141.2" width="43.099999999999966" height="43.20000000000002" fill="none" stroke="#111" stroke-width="0.6"/>
<rect x="330.3" y="185.9" width="43.099999999999966" height="43.29999999999998" fill="none" stroke="#111" stroke-width="0.6"/>
<rect x="375.9" y="141.2" width="65.0" height="43.20000000000002" fill="none" stroke="#111" stroke-width="0.6"/>
<rect x="375.9" y="185.9" width="65.0" height="43.29999999999998" fill="none" stroke="#111" stroke-width="0.6"/>
<rect x="442.2" y="141.2" width="42.5" height="43.20000000000002" fill="none" stroke="#111" stroke-width="0.6"/>
<rect x="442.2" y="185.9" width="42.5" height="43.29999999999998" fill="none" stroke="#111" stroke-width="0.6"/>
<g transform="translate(10.799999999999999 269.6) scale(0.88 1)"><text x="0" y="0" font-size="10.2" font-weight="bold" stroke="#000">f</text></g>
<text x="106.2" y="276.4" font-size="9.5" text-anchor="middle" stroke="#000">WT</text>
<text x="217.7" y="276.4" font-size="9.5" text-anchor="middle" stroke="#000">hA53T</text>
<line x1="51.8" y1="280.5" x2="160.7" y2="280.5" stroke="#111" stroke-width="1.2"/>
<defs><linearGradient id="lgf" x1="0" x2="1" y1="0" y2="0"><stop offset="0" stop-color="#222"/><stop offset="1" stop-color="#999"/></linearGradient></defs>
<rect x="163.8" y="279.3" width="108.39999999999998" height="1.4" fill="url(#lgf)"/>
<line x1="35.5" y1="282.1" x2="35.5" y2="369.5" stroke="#111" stroke-width="1.1"/>
<text x="49.0" y="302.8" font-size="9.5" text-anchor="middle" transform="rotate(-90 49.0 302.8)" stroke="#000">Velcihe</text>
<text x="49.0" y="348" font-size="9.5" text-anchor="middle" transform="rotate(-90 49.0 348)" stroke="#000">NLY</text>
<text x="29.2" y="324.3" font-size="9.5" text-anchor="middle" dy="3.3" transform="rotate(-90 29.2 324.3)" stroke="#000"><tspan fill="#16a058" stroke="#16a058">Ubiquitin</tspan><tspan fill="#2c2c88" stroke="#2c2c88"> DAPI</tspan></text>
<rect x="51.8" y="324.4" width="221.2" height="2.0" fill="#8a8a8a"/>
<g clip-path="url(#c17)">
<rect x="51.8" y="282.1" width="65.10000000000001" height="42.5" fill="#222070"/>
<path d="M52.0,286.1 L86.0,284.1 L92.0,324.6 L52.0,324.6 Z" fill="#34349c" filter="url(#f2)" opacity="0.75"/>
<rect x="51.8" y="282.1" width="65.10000000000001" height="42.5" fill="#000" filter="url(#f25)" opacity="0.45"/>
<path d="M52.0,282.1 L104.0,282.1 L100.0,290.1 L84.0,292.1 L66.0,290.1 L52.0,294.1 Z" fill="#2c2c98" filter="url(#f2)" opacity="0.8"/>
<ellipse cx="58" cy="296.5" rx="4.5" ry="2.0" fill="#05051a" filter="url(#f3)" opacity="1"/>
<path d="M86.0,292.0 L91.0,290.0 L97.0,312.0 L96.0,325.0 L90.0,325.0 L88.0,310.0 Z" fill="#2a8a5c" filter="url(#f2)" opacity="0.5"/>
<ellipse cx="62" cy="312.5" rx="1.5" ry="1.8" fill="#2a8a5c" filter="url(#f1)" opacity="0.5"/>
<path d="M105.0,282.0 L117.0,282.0 L117.0,325.0 L106.0,325.0 L103.0,310.0 L106.0,296.0 Z" fill="#0c0a30" filter="url(#f2)" opacity="0.6"/>
<path d="M118,284 Q104,282 103,288 Q102,296 112,297 Q116,298 118,299" fill="none" stroke="#4646c0" stroke-width="2.6" stroke-linecap="round" filter="url(#f3)" opacity="1"/>
<path d="M116,303 Q100,300 101,308 Q102,316 114,315" fill="none" stroke="#4646c0" stroke-width="2.6" stroke-linecap="round" filter="url(#f3)" opacity="1"/>
<path d="M117,320 Q106,318 105,325" fill="none" stroke="#4646c0" stroke-width="2.4" stroke-linecap="round" filter="url(#f3)" opacity="1"/>
<path d="M117,289 Q110,288 110,291 Q111,293 117,293" fill="none" stroke="#3838a8" stroke-width="1.4" stroke-linecap="round" filter="url(#f3)" opacity="1"/>
<path d="M112,306 Q106,306 107,309 Q108,311 113,310" fill="none" stroke="#3838a8" stroke-width="1.4" stroke-linecap="round" filter="url(#f3)" opacity="1"/>
</g>
<g clip-path="url(#c18)">
<rect x="51.8" y="326.2" width="65.10000000000001" height="43.0" fill="#222070"/>
<path d="M52.0,330.2 L86.0,328.2 L92.0,369.2 L52.0,369.2 Z" fill="#34349c" filter="url(#f2)" opacity="0.75"/>
<rect x="51.8" y="326.2" width="65.10000000000001" height="43.0" fill="#000" filter="url(#f26)" opacity="0.45"/>
<path d="M52.0,326.2 L100.0,326.2 L104.0,332.2 L80.0,336.2 L60.0,340.2 L52.0,342.2 Z" fill="#2c2c98" filter="url(#f2)" opacity="0.8"/>
<path d="M54,336 Q62,332 72,333 Q82,334 90,330" fill="none" stroke="#0a0a28" stroke-width="1.5" stroke-linecap="round" filter="url(#f3)" opacity="1"/>
<path d="M104.0,326.0 L117.0,326.0 L117.0,370.0 L105.0,370.0 L102.0,352.0 L104.0,338.0 Z" fill="#0c0a30" filter="url(#f2)" opacity="0.6"/>
<path d="M117,327 Q102,326 101,333 Q101,340 113,341 Q116,341 118,343" fill="none" stroke="#4646c0" stroke-width="2.6" stroke-linecap="round" filter="url(#f3)" opacity="1"/>
<path d="M116,347 Q99,345 100,353 Q101,361 114,360" fill="none" stroke="#4646c0" stroke-width="2.6" stroke-linecap="round" filter="url(#f3)" opacity="1"/>
<path d="M117,365 Q105,364 104,370" fill="none" stroke="#4646c0" stroke-width="2.4" stroke-linecap="round" filter="url(#f3)" opacity="1"/>
<path d="M116,332 Q109,331 109,334 Q110,336 116,336" fill="none" stroke="#3838a8" stroke-width="1.4" stroke-linecap="round" filter="url(#f3)" opacity="1"/>
<path d="M112,351 Q105,351 106,354 Q107,356 113,355" fill="none" stroke="#3838a8" stroke-width="1.4" stroke-linecap="round" filter="url(#f3)" opacity="1"/>
<ellipse cx="62" cy="359" rx="2.5" ry="3.5" fill="#1e7a50" filter="url(#f1)" opacity="0.85"/>
<path d="M84.0,352.0 L90.0,350.0 L94.0,369.0 L86.0,369.0 Z" fill="#24606a" filter="url(#f2)" opacity="0.5"/>
</g>
<circle cx="106.5" cy="299.3" r="0.7" fill="#fff"/>
<circle cx="104.5" cy="339.5" r="0.7" fill="#fff"/>
<text x="54.5" y="290.8" font-size="9.2" fill="#f2f2f2" stroke="#f2f2f2">Brainstem</text>
<rect x="54.5" y="320.4" width="8" height="1.7" fill="#fff"/>
<g clip-path="url(#c19)">
<rect x="118.2" y="282.1" width="43.3" height="42.5" fill="#100e36"/>
<g filter="url(#f4)"><circle cx="152.2" cy="316.2" r="0.6" fill="#5250cc"/><circle cx="135.3" cy="292.2" r="0.6" fill="#5a58d4"/><circle cx="155.2" cy="303.4" r="0.6" fill="#3432a4"/><circle cx="153.8" cy="306.6" r="0.8" fill="#5250cc"/><circle cx="130.5" cy="282.4" r="0.6" fill="#5a58d4"/><circle cx="142.4" cy="283.5" r="0.6" fill="#5250cc"/><circle cx="139.1" cy="289.3" r="0.9" fill="#5250cc"/><circle cx="156.0" cy="292.6" r="0.8" fill="#5a58d4"/><circle cx="149.9" cy="317.5" r="0.9" fill="#5a58d4"/><circle cx="131.0" cy="286.1" r="0.6" fill="#5a58d4"/><circle cx="122.2" cy="316.4" r="1.0" fill="#4240b8"/><circle cx="131.5" cy="305.2" r="0.7" fill="#5a58d4"/><circle cx="143.5" cy="305.0" r="0.8" fill="#4240b8"/><circle cx="152.5" cy="320.1" r="0.6" fill="#4240b8"/><circle cx="133.3" cy="306.6" r="0.9" fill="#3432a4"/><circle cx="156.8" cy="309.6" r="0.6" fill="#4240b8"/><circle cx="140.9" cy="321.5" r="0.8" fill="#5a58d4"/><circle cx="143.5" cy="294.6" r="0.9" fill="#5250cc"/><circle cx="143.5" cy="315.6" r="0.8" fill="#5a58d4"/><circle cx="124.4" cy="316.2" r="1.0" fill="#4240b8"/><circle cx="152.4" cy="308.4" r="0.6" fill="#4240b8"/><circle cx="154.2" cy="318.8" r="0.9" fill="#5a58d4"/><circle cx="154.8" cy="300.8" r="0.8" fill="#5a58d4"/><circle cx="127.4" cy="292.6" r="0.6" fill="#5a58d4"/><circle cx="156.9" cy="298.4" r="0.9" fill="#5a58d4"/><circle cx="152.1" cy="296.7" r="0.6" fill="#5250cc"/><circle cx="144.7" cy="314.4" r="0.6" fill="#4240b8"/><circle cx="119.0" cy="300.2" r="0.8" fill="#5a58d4"/><circle cx="144.4" cy="321.1" r="1.0" fill="#3432a4"/><circle cx="161.5" cy="294.3" r="0.8" fill="#5a58d4"/><circle cx="123.4" cy="286.5" r="0.8" fill="#5a58d4"/><circle cx="125.8" cy="286.9" r="1.0" fill="#5a58d4"/><circle cx="123.5" cy="296.0" r="0.6" fill="#5a58d4"/><circle cx="120.3" cy="282.6" r="0.7" fill="#5a58d4"/><circle cx="138.6" cy="316.6" r="1.0" fill="#3432a4"/><circle cx="149.1" cy="315.2" r="0.8" fill="#3432a4"/><circle cx="127.7" cy="315.0" r="1.0" fill="#4240b8"/><circle cx="124.5" cy="305.6" r="0.6" fill="#5a58d4"/><circle cx="160.7" cy="321.2" r="0.6" fill="#5250cc"/><circle cx="128.7" cy="298.3" r="0.6" fill="#5250cc"/><circle cx="121.0" cy="297.7" r="0.7" fill="#5250cc"/><circle cx="150.1" cy="312.5" r="0.8" fill="#4240b8"/><circle cx="136.9" cy="297.4" r="0.7" fill="#5250cc"/><circle cx="148.0" cy="294.3" r="0.6" fill="#5250cc"/><circle cx="150.7" cy="301.0" r="0.7" fill="#5a58d4"/><circle cx="136.0" cy="288.2" r="1.0" fill="#5a58d4"/><circle cx="149.6" cy="320.3" r="0.9" fill="#3432a4"/><circle cx="141.6" cy="311.6" r="0.8" fill="#5250cc"/><circle cx="136.8" cy="310.6" r="0.6" fill="#5a58d4"/><circle cx="139.6" cy="324.0" r="0.9" fill="#4240b8"/><circle cx="147.5" cy="300.2" r="0.9" fill="#3432a4"/><circle cx="127.3" cy="293.4" r="0.9" fill="#3432a4"/><circle cx="149.6" cy="307.1" r="0.7" fill="#4240b8"/><circle cx="127.9" cy="309.0" r="0.9" fill="#5a58d4"/><circle cx="119.0" cy="299.7" r="0.8" fill="#5a58d4"/><circle cx="157.9" cy="321.5" r="1.0" fill="#3432a4"/><circle cx="141.7" cy="304.2" r="0.9" fill="#3432a4"/><circle cx="123.2" cy="318.4" r="0.6" fill="#5a58d4"/><circle cx="156.9" cy="294.0" r="0.7" fill="#5250cc"/><circle cx="129.7" cy="288.3" r="0.8" fill="#5a58d4"/><circle cx="161.3" cy="308.1" r="0.6" fill="#3432a4"/><circle cx="158.7" cy="282.3" r="0.6" fill="#3432a4"/><circle cx="132.5" cy="304.9" r="0.9" fill="#5250cc"/><circle cx="153.7" cy="294.0" r="0.9" fill="#4240b8"/><circle cx="144.7" cy="293.3" r="0.7" fill="#5a58d4"/><circle cx="127.1" cy="324.5" r="1.0" fill="#5a58d4"/><circle cx="134.7" cy="284.1" r="0.7" fill="#5250cc"/><circle cx="153.3" cy="295.8" r="0.9" fill="#3432a4"/><circle cx="120.2" cy="319.5" r="0.9" fill="#5250cc"/><circle cx="129.5" cy="285.9" r="0.7" fill="#3432a4"/><circle cx="132.6" cy="294.7" r="1.0" fill="#5250cc"/><circle cx="135.6" cy="308.6" r="0.7" fill="#4240b8"/><circle cx="124.4" cy="319.1" r="0.7" fill="#4240b8"/><circle cx="150.5" cy="312.2" r="0.8" fill="#3432a4"/><circle cx="159.5" cy="285.2" r="0.8" fill="#4240b8"/><circle cx="159.3" cy="297.8" r="0.8" fill="#4240b8"/><circle cx="120.2" cy="298.9" r="0.7" fill="#3432a4"/><circle cx="158.3" cy="306.7" r="0.9" fill="#3432a4"/><circle cx="126.6" cy="307.9" r="0.8" fill="#5250cc"/><circle cx="133.5" cy="288.7" r="0.6" fill="#5a58d4"/><circle cx="145.7" cy="284.3" r="1.0" fill="#3432a4"/><circle cx="136.3" cy="308.6" r="0.8" fill="#5a58d4"/><circle cx="119.2" cy="299.7" r="0.7" fill="#5a58d4"/><circle cx="159.4" cy="287.0" r="0.9" fill="#5250cc"/><circle cx="118.7" cy="291.5" r="0.6" fill="#5250cc"/><circle cx="153.8" cy="313.8" r="0.7" fill="#5250cc"/><circle cx="136.9" cy="307.0" r="1.0" fill="#3432a4"/><circle cx="156.1" cy="299.6" r="1.0" fill="#4240b8"/><circle cx="136.8" cy="309.6" r="1.0" fill="#5a58d4"/><circle cx="152.0" cy="282.9" r="0.9" fill="#4240b8"/><circle cx="124.0" cy="315.0" r="0.7" fill="#5a58d4"/><circle cx="144.4" cy="308.9" r="1.0" fill="#5a58d4"/><circle cx="127.6" cy="294.5" r="0.8" fill="#4240b8"/><circle cx="140.9" cy="297.6" r="0.6" fill="#4240b8"/><circle cx="135.7" cy="321.0" r="0.9" fill="#4240b8"/><circle cx="120.0" cy="305.3" r="0.8" fill="#5250cc"/><circle cx="136.7" cy="317.3" r="1.0" fill="#3432a4"/><circle cx="147.2" cy="313.8" r="0.9" fill="#4240b8"/><circle cx="156.4" cy="287.4" r="0.8" fill="#5250cc"/><circle cx="140.3" cy="284.3" r="0.9" fill="#5a58d4"/><circle cx="160.4" cy="316.9" r="0.9" fill="#3432a4"/><circle cx="159.3" cy="291.4" r="0.8" fill="#5a58d4"/><circle cx="161.4" cy="291.4" r="0.9" fill="#5250cc"/><circle cx="120.8" cy="308.2" r="0.8" fill="#5250cc"/><circle cx="124.0" cy="314.5" r="0.6" fill="#4240b8"/><circle cx="154.3" cy="320.4" r="0.7" fill="#5250cc"/><circle cx="136.6" cy="323.3" r="0.9" fill="#4240b8"/><circle cx="124.5" cy="301.4" r="0.8" fill="#3432a4"/><circle cx="160.0" cy="321.6" r="0.9" fill="#3432a4"/><circle cx="119.8" cy="316.2" r="0.8" fill="#3432a4"/><circle cx="123.1" cy="286.0" r="0.6" fill="#4240b8"/><circle cx="156.2" cy="285.0" r="0.6" fill="#5a58d4"/><circle cx="146.2" cy="300.4" r="0.7" fill="#3432a4"/><circle cx="147.1" cy="297.2" r="0.6" fill="#4240b8"/><circle cx="153.4" cy="323.6" r="1.0" fill="#3432a4"/><circle cx="157.2" cy="300.7" r="1.0" fill="#4240b8"/><circle cx="148.4" cy="282.4" r="0.6" fill="#4240b8"/><circle cx="148.8" cy="313.2" r="0.8" fill="#5250cc"/><circle cx="120.4" cy="296.8" r="0.6" fill="#4240b8"/><circle cx="121.4" cy="308.1" r="0.6" fill="#5250cc"/><circle cx="158.9" cy="312.9" r="0.9" fill="#5250cc"/><circle cx="124.7" cy="291.0" r="0.9" fill="#5a58d4"/><circle cx="133.9" cy="287.7" r="0.8" fill="#4240b8"/><circle cx="158.0" cy="323.3" r="0.7" fill="#5a58d4"/><circle cx="132.6" cy="290.0" r="0.7" fill="#5a58d4"/><circle cx="120.4" cy="285.3" r="0.7" fill="#5250cc"/><circle cx="137.5" cy="295.4" r="0.7" fill="#3432a4"/><circle cx="157.9" cy="312.9" r="0.6" fill="#5250cc"/><circle cx="139.7" cy="300.5" r="1.0" fill="#4240b8"/><circle cx="135.0" cy="319.4" r="0.9" fill="#4240b8"/><circle cx="138.6" cy="320.2" r="0.6" fill="#5250cc"/><circle cx="129.4" cy="283.0" r="1.0" fill="#4240b8"/><circle cx="125.6" cy="322.8" r="0.9" fill="#3432a4"/><circle cx="143.4" cy="289.7" r="0.8" fill="#4240b8"/><circle cx="161.2" cy="288.2" r="0.8" fill="#5a58d4"/><circle cx="123.8" cy="306.7" r="0.8" fill="#3432a4"/><circle cx="150.5" cy="306.3" r="0.9" fill="#5250cc"/><circle cx="122.9" cy="320.8" r="0.8" fill="#3432a4"/><circle cx="159.7" cy="298.8" r="0.6" fill="#3432a4"/><circle cx="121.2" cy="297.6" r="0.9" fill="#4240b8"/><circle cx="130.1" cy="317.2" r="0.7" fill="#4240b8"/><circle cx="152.2" cy="294.2" r="0.6" fill="#5250cc"/><circle cx="125.2" cy="296.0" r="0.7" fill="#4240b8"/><circle cx="146.1" cy="310.9" r="0.8" fill="#5a58d4"/><circle cx="127.0" cy="319.6" r="1.0" fill="#5a58d4"/><circle cx="137.2" cy="321.2" r="0.7" fill="#3432a4"/><circle cx="122.8" cy="309.4" r="0.8" fill="#4240b8"/><circle cx="157.3" cy="316.6" r="0.6" fill="#5a58d4"/><circle cx="153.3" cy="311.8" r="1.0" fill="#3432a4"/><circle cx="142.2" cy="307.6" r="1.0" fill="#5a58d4"/><circle cx="157.5" cy="302.2" r="0.6" fill="#3432a4"/><circle cx="153.1" cy="322.6" r="1.0" fill="#3432a4"/><circle cx="144.6" cy="303.6" r="0.8" fill="#5250cc"/><circle cx="140.8" cy="296.2" r="0.6" fill="#5250cc"/><circle cx="132.1" cy="294.3" r="0.9" fill="#3432a4"/><circle cx="160.2" cy="299.6" r="0.7" fill="#5a58d4"/><circle cx="144.6" cy="308.3" r="0.7" fill="#5a58d4"/><circle cx="121.8" cy="305.4" r="0.9" fill="#5a58d4"/><circle cx="132.1" cy="314.2" r="0.9" fill="#5a58d4"/><circle cx="119.5" cy="289.7" r="0.9" fill="#3432a4"/><circle cx="133.9" cy="291.3" r="0.9" fill="#5250cc"/><circle cx="134.8" cy="294.9" r="0.9" fill="#5250cc"/><circle cx="142.0" cy="282.9" r="0.9" fill="#4240b8"/><circle cx="130.8" cy="282.6" r="0.9" fill="#3432a4"/><circle cx="132.7" cy="318.1" r="0.6" fill="#4240b8"/><circle cx="120.8" cy="318.3" r="0.8" fill="#5a58d4"/><circle cx="155.1" cy="282.7" r="1.0" fill="#3432a4"/><circle cx="151.1" cy="298.5" r="0.7" fill="#5250cc"/><circle cx="122.8" cy="294.3" r="0.6" fill="#5a58d4"/><circle cx="125.6" cy="317.6" r="0.8" fill="#3432a4"/><circle cx="142.6" cy="297.3" r="1.0" fill="#5250cc"/><circle cx="118.5" cy="283.0" r="0.8" fill="#4240b8"/><circle cx="141.3" cy="314.1" r="0.8" fill="#4240b8"/><circle cx="126.9" cy="318.6" r="0.7" fill="#4240b8"/><circle cx="119.8" cy="311.0" r="0.6" fill="#3432a4"/><circle cx="120.4" cy="303.0" r="0.8" fill="#4240b8"/><circle cx="158.0" cy="287.2" r="0.8" fill="#3432a4"/><circle cx="128.5" cy="288.5" r="0.7" fill="#5250cc"/><circle cx="138.2" cy="313.6" r="1.0" fill="#3432a4"/><circle cx="152.8" cy="313.0" r="0.7" fill="#5a58d4"/><circle cx="151.1" cy="285.6" r="0.7" fill="#5a58d4"/><circle cx="122.7" cy="298.4" r="0.8" fill="#5250cc"/><circle cx="141.8" cy="297.1" r="0.6" fill="#4240b8"/><circle cx="146.0" cy="308.1" r="0.7" fill="#5250cc"/><circle cx="122.2" cy="313.0" r="0.6" fill="#5250cc"/><circle cx="145.0" cy="309.2" r="0.7" fill="#3432a4"/><circle cx="126.8" cy="304.3" r="0.7" fill="#5250cc"/><circle cx="141.4" cy="300.1" r="0.6" fill="#5250cc"/><circle cx="144.7" cy="311.3" r="1.0" fill="#3432a4"/><circle cx="151.6" cy="301.8" r="0.8" fill="#3432a4"/><circle cx="147.6" cy="312.1" r="1.0" fill="#5250cc"/><circle cx="152.0" cy="301.1" r="0.8" fill="#3432a4"/><circle cx="156.8" cy="320.8" r="0.7" fill="#4240b8"/><circle cx="148.3" cy="296.8" r="0.6" fill="#3432a4"/><circle cx="131.7" cy="321.5" r="1.0" fill="#5a58d4"/><circle cx="122.4" cy="321.3" r="1.0" fill="#3432a4"/><circle cx="146.4" cy="293.3" r="0.7" fill="#3432a4"/><circle cx="152.8" cy="292.9" r="0.7" fill="#5a58d4"/><circle cx="132.3" cy="304.4" r="0.8" fill="#5a58d4"/><circle cx="131.8" cy="305.5" r="0.9" fill="#5a58d4"/><circle cx="149.2" cy="315.4" r="0.7" fill="#5a58d4"/><circle cx="151.6" cy="303.3" r="0.6" fill="#5a58d4"/><circle cx="135.5" cy="288.0" r="1.0" fill="#5250cc"/><circle cx="151.5" cy="294.3" r="1.0" fill="#4240b8"/><circle cx="124.8" cy="313.5" r="1.0" fill="#5250cc"/><circle cx="146.1" cy="282.4" r="0.8" fill="#5a58d4"/><circle cx="135.7" cy="283.3" r="0.8" fill="#3432a4"/><circle cx="126.9" cy="287.9" r="0.7" fill="#4240b8"/><circle cx="125.7" cy="321.9" r="0.9" fill="#4240b8"/><circle cx="145.5" cy="304.8" r="0.7" fill="#4240b8"/><circle cx="131.6" cy="302.1" r="1.0" fill="#5a58d4"/><circle cx="138.8" cy="285.5" r="1.0" fill="#3432a4"/><circle cx="150.1" cy="306.5" r="1.0" fill="#5250cc"/><circle cx="161.3" cy="315.0" r="0.7" fill="#3432a4"/><circle cx="123.4" cy="295.1" r="0.8" fill="#4240b8"/><circle cx="153.7" cy="289.0" r="0.6" fill="#4240b8"/><circle cx="120.0" cy="316.6" r="1.0" fill="#3432a4"/><circle cx="149.6" cy="317.7" r="0.7" fill="#5a58d4"/><circle cx="138.2" cy="295.4" r="0.9" fill="#5a58d4"/><circle cx="129.5" cy="319.5" r="1.0" fill="#3432a4"/><circle cx="140.2" cy="295.1" r="0.8" fill="#3432a4"/><circle cx="136.4" cy="310.9" r="0.6" fill="#3432a4"/><circle cx="147.0" cy="323.1" r="0.8" fill="#5250cc"/><circle cx="137.1" cy="289.6" r="0.7" fill="#4240b8"/><circle cx="131.0" cy="313.8" r="0.6" fill="#3432a4"/><circle cx="123.9" cy="314.3" r="0.7" fill="#5a58d4"/><circle cx="120.6" cy="294.2" r="1.0" fill="#3432a4"/><circle cx="128.7" cy="319.0" r="0.9" fill="#4240b8"/><circle cx="140.5" cy="294.3" r="0.9" fill="#4240b8"/><circle cx="153.5" cy="292.5" r="0.7" fill="#5a58d4"/><circle cx="128.7" cy="321.5" r="0.9" fill="#5a58d4"/><circle cx="126.9" cy="296.8" r="0.8" fill="#5250cc"/><circle cx="122.8" cy="289.8" r="0.6" fill="#5a58d4"/><circle cx="151.4" cy="295.0" r="0.6" fill="#5a58d4"/><circle cx="128.4" cy="310.3" r="0.8" fill="#4240b8"/><circle cx="144.7" cy="309.7" r="0.8" fill="#5250cc"/><circle cx="160.0" cy="303.1" r="1.0" fill="#5250cc"/><circle cx="130.2" cy="323.1" r="0.7" fill="#4240b8"/><circle cx="156.8" cy="309.8" r="0.6" fill="#4240b8"/><circle cx="125.3" cy="306.5" r="0.7" fill="#4240b8"/><circle cx="136.4" cy="286.4" r="1.0" fill="#5250cc"/><circle cx="139.2" cy="295.3" r="0.7" fill="#5250cc"/><circle cx="161.1" cy="287.3" r="0.9" fill="#3432a4"/><circle cx="126.5" cy="323.6" r="0.7" fill="#5250cc"/><circle cx="159.9" cy="282.4" r="0.9" fill="#4240b8"/><circle cx="141.0" cy="297.1" r="0.7" fill="#5250cc"/><circle cx="121.3" cy="321.3" r="0.7" fill="#5250cc"/><circle cx="148.8" cy="298.6" r="0.9" fill="#3432a4"/><circle cx="143.5" cy="297.7" r="0.8" fill="#3432a4"/><circle cx="121.2" cy="296.1" r="0.6" fill="#4240b8"/><circle cx="136.0" cy="323.8" r="0.6" fill="#5250cc"/><circle cx="118.6" cy="288.2" r="0.8" fill="#4240b8"/><circle cx="148.7" cy="293.7" r="0.6" fill="#4240b8"/><circle cx="139.6" cy="284.2" r="0.9" fill="#3432a4"/><circle cx="140.5" cy="292.3" r="0.6" fill="#5250cc"/><circle cx="126.5" cy="289.7" r="0.6" fill="#5a58d4"/><circle cx="134.1" cy="300.5" r="0.8" fill="#4240b8"/><circle cx="129.8" cy="286.5" r="0.9" fill="#3432a4"/><circle cx="131.4" cy="307.1" r="0.8" fill="#4240b8"/><circle cx="149.1" cy="299.2" r="0.8" fill="#3432a4"/><circle cx="140.9" cy="294.4" r="0.9" fill="#3432a4"/><circle cx="146.8" cy="308.4" r="0.9" fill="#5250cc"/><circle cx="157.2" cy="304.8" r="0.6" fill="#5250cc"/><circle cx="121.8" cy="298.9" r="0.6" fill="#4240b8"/><circle cx="151.1" cy="301.4" r="0.6" fill="#5250cc"/><circle cx="142.9" cy="322.9" r="0.8" fill="#5a58d4"/><circle cx="125.5" cy="316.1" r="0.6" fill="#3432a4"/><circle cx="140.8" cy="321.2" r="0.9" fill="#4240b8"/><circle cx="136.4" cy="291.5" r="0.8" fill="#4240b8"/><circle cx="155.3" cy="318.7" r="1.0" fill="#4240b8"/><circle cx="155.7" cy="307.7" r="1.0" fill="#3432a4"/><circle cx="159.3" cy="298.5" r="0.9" fill="#5a58d4"/><circle cx="139.0" cy="317.4" r="1.0" fill="#5250cc"/><circle cx="156.8" cy="301.3" r="1.0" fill="#3432a4"/><circle cx="138.6" cy="298.4" r="0.8" fill="#5a58d4"/><circle cx="131.0" cy="285.1" r="1.0" fill="#4240b8"/><circle cx="132.8" cy="291.8" r="0.9" fill="#3432a4"/><circle cx="139.1" cy="315.7" r="0.7" fill="#3432a4"/><circle cx="158.1" cy="307.5" r="1.0" fill="#5250cc"/><circle cx="143.7" cy="306.3" r="0.6" fill="#5a58d4"/><circle cx="126.4" cy="310.8" r="0.8" fill="#5250cc"/><circle cx="139.4" cy="322.4" r="1.0" fill="#5250cc"/><circle cx="143.9" cy="297.2" r="0.7" fill="#5250cc"/><circle cx="146.6" cy="302.7" r="0.6" fill="#5250cc"/><circle cx="125.9" cy="314.6" r="0.6" fill="#4240b8"/><circle cx="157.1" cy="294.2" r="1.0" fill="#4240b8"/><circle cx="143.5" cy="297.5" r="0.8" fill="#3432a4"/><circle cx="119.1" cy="297.1" r="0.9" fill="#4240b8"/><circle cx="149.9" cy="316.2" r="0.7" fill="#5a58d4"/><circle cx="150.5" cy="311.3" r="0.7" fill="#5a58d4"/><circle cx="134.2" cy="292.0" r="0.8" fill="#5250cc"/><circle cx="158.0" cy="323.5" r="0.7" fill="#4240b8"/><circle cx="130.8" cy="288.6" r="0.8" fill="#4240b8"/><circle cx="136.4" cy="322.9" r="0.8" fill="#3432a4"/><circle cx="125.3" cy="306.0" r="1.0" fill="#3432a4"/><circle cx="147.4" cy="309.6" r="0.6" fill="#4240b8"/><circle cx="126.6" cy="290.0" r="1.0" fill="#4240b8"/><circle cx="148.7" cy="282.6" r="1.0" fill="#5a58d4"/><circle cx="127.3" cy="298.3" r="0.7" fill="#5a58d4"/><circle cx="147.0" cy="295.0" r="0.6" fill="#4240b8"/><circle cx="149.3" cy="295.9" r="0.9" fill="#3432a4"/><circle cx="130.2" cy="307.1" r="0.9" fill="#4240b8"/><circle cx="129.4" cy="294.6" r="1.0" fill="#4240b8"/><circle cx="156.0" cy="322.2" r="0.9" fill="#5a58d4"/><circle cx="122.8" cy="316.1" r="0.7" fill="#5a58d4"/><circle cx="122.2" cy="323.1" r="1.0" fill="#5a58d4"/><circle cx="134.8" cy="288.9" r="0.9" fill="#4240b8"/><circle cx="136.8" cy="286.5" r="0.6" fill="#3432a4"/><circle cx="122.4" cy="292.5" r="0.6" fill="#5250cc"/><circle cx="146.8" cy="291.1" r="0.7" fill="#5250cc"/><circle cx="129.2" cy="312.9" r="0.7" fill="#3432a4"/><circle cx="130.2" cy="292.5" r="0.6" fill="#3432a4"/><circle cx="132.3" cy="307.0" r="0.9" fill="#4240b8"/><circle cx="120.5" cy="321.6" r="1.0" fill="#4240b8"/><circle cx="132.4" cy="321.9" r="0.9" fill="#5a58d4"/><circle cx="126.6" cy="308.2" r="1.0" fill="#5250cc"/><circle cx="127.1" cy="304.8" r="0.8" fill="#5a58d4"/><circle cx="134.1" cy="316.0" r="0.6" fill="#3432a4"/><circle cx="160.2" cy="303.5" r="1.0" fill="#3432a4"/><circle cx="155.5" cy="311.3" r="0.8" fill="#3432a4"/><circle cx="133.3" cy="324.2" r="1.0" fill="#4240b8"/><circle cx="153.6" cy="294.5" r="0.9" fill="#5a58d4"/><circle cx="134.4" cy="285.7" r="0.9" fill="#4240b8"/><circle cx="129.8" cy="287.6" r="0.9" fill="#5250cc"/><circle cx="140.8" cy="292.9" r="0.9" fill="#4240b8"/><circle cx="118.3" cy="289.0" r="0.9" fill="#4240b8"/><circle cx="118.4" cy="324.1" r="1.0" fill="#4240b8"/><circle cx="118.8" cy="324.3" r="1.0" fill="#3432a4"/><circle cx="118.7" cy="298.9" r="0.6" fill="#5250cc"/><circle cx="146.1" cy="298.5" r="0.6" fill="#4240b8"/><circle cx="141.1" cy="314.2" r="0.7" fill="#4240b8"/><circle cx="133.0" cy="322.1" r="0.6" fill="#5250cc"/><circle cx="134.0" cy="319.3" r="0.9" fill="#5250cc"/><circle cx="148.5" cy="298.7" r="0.8" fill="#5a58d4"/><circle cx="156.5" cy="318.8" r="0.7" fill="#4240b8"/><circle cx="141.2" cy="313.8" r="0.9" fill="#4240b8"/><circle cx="147.6" cy="297.4" r="0.7" fill="#3432a4"/><circle cx="132.5" cy="286.2" r="1.0" fill="#4240b8"/><circle cx="136.7" cy="306.7" r="0.7" fill="#5a58d4"/><circle cx="121.8" cy="291.0" r="0.8" fill="#5a58d4"/></g>
</g>
<g clip-path="url(#c20)">
<rect x="118.2" y="326.2" width="43.3" height="43.0" fill="#100e36"/>
<g filter="url(#f4)"><circle cx="157.7" cy="327.9" r="0.9" fill="#4240b8"/><circle cx="138.5" cy="340.0" r="0.8" fill="#5250cc"/><circle cx="125.0" cy="354.4" r="0.9" fill="#4240b8"/><circle cx="126.6" cy="337.0" r="0.8" fill="#4240b8"/><circle cx="131.4" cy="330.3" r="1.0" fill="#3432a4"/><circle cx="143.0" cy="352.0" r="0.6" fill="#5a58d4"/><circle cx="151.0" cy="351.9" r="0.6" fill="#3432a4"/><circle cx="131.7" cy="331.5" r="1.0" fill="#3432a4"/><circle cx="147.0" cy="338.2" r="0.9" fill="#3432a4"/><circle cx="130.7" cy="330.9" r="0.6" fill="#4240b8"/><circle cx="149.7" cy="342.0" r="0.7" fill="#5a58d4"/><circle cx="128.6" cy="330.5" r="1.0" fill="#4240b8"/><circle cx="149.9" cy="354.7" r="0.7" fill="#5a58d4"/><circle cx="126.3" cy="341.6" r="0.7" fill="#3432a4"/><circle cx="160.5" cy="366.7" r="0.6" fill="#3432a4"/><circle cx="154.2" cy="356.9" r="1.0" fill="#4240b8"/><circle cx="130.7" cy="369.0" r="0.6" fill="#4240b8"/><circle cx="129.9" cy="338.0" r="0.8" fill="#3432a4"/><circle cx="145.3" cy="341.6" r="0.8" fill="#5a58d4"/><circle cx="122.7" cy="368.1" r="0.6" fill="#5250cc"/><circle cx="128.6" cy="344.2" r="0.7" fill="#3432a4"/><circle cx="136.7" cy="326.7" r="0.8" fill="#4240b8"/><circle cx="160.3" cy="337.5" r="0.9" fill="#3432a4"/><circle cx="144.2" cy="356.6" r="0.6" fill="#5a58d4"/><circle cx="154.6" cy="329.6" r="1.0" fill="#5a58d4"/><circle cx="128.4" cy="365.1" r="0.8" fill="#3432a4"/><circle cx="131.8" cy="353.6" r="0.6" fill="#4240b8"/><circle cx="145.7" cy="367.0" r="0.9" fill="#3432a4"/><circle cx="125.4" cy="339.5" r="0.6" fill="#5a58d4"/><circle cx="151.1" cy="360.3" r="0.7" fill="#5a58d4"/><circle cx="155.7" cy="329.5" r="0.6" fill="#3432a4"/><circle cx="144.6" cy="356.1" r="0.9" fill="#5a58d4"/><circle cx="150.4" cy="365.0" r="0.8" fill="#5250cc"/><circle cx="137.3" cy="337.4" r="0.7" fill="#5250cc"/><circle cx="155.5" cy="365.6" r="0.8" fill="#3432a4"/><circle cx="135.9" cy="336.2" r="0.8" fill="#5a58d4"/><circle cx="131.9" cy="358.1" r="0.6" fill="#4240b8"/><circle cx="143.8" cy="353.2" r="0.6" fill="#4240b8"/><circle cx="131.4" cy="328.9" r="0.7" fill="#3432a4"/><circle cx="124.0" cy="368.4" r="0.8" fill="#3432a4"/><circle cx="142.6" cy="338.5" r="0.9" fill="#4240b8"/><circle cx="125.3" cy="363.2" r="0.6" fill="#5a58d4"/><circle cx="131.5" cy="366.9" r="0.6" fill="#5a58d4"/><circle cx="122.4" cy="357.6" r="0.9" fill="#4240b8"/><circle cx="120.6" cy="359.7" r="1.0" fill="#4240b8"/><circle cx="126.5" cy="342.4" r="0.6" fill="#5a58d4"/><circle cx="122.7" cy="368.4" r="0.6" fill="#3432a4"/><circle cx="155.2" cy="367.6" r="0.8" fill="#5a58d4"/><circle cx="150.3" cy="350.4" r="0.7" fill="#5250cc"/><circle cx="155.7" cy="343.0" r="0.7" fill="#4240b8"/><circle cx="128.0" cy="331.2" r="0.9" fill="#4240b8"/><circle cx="131.1" cy="331.9" r="0.7" fill="#5a58d4"/><circle cx="140.2" cy="335.4" r="0.8" fill="#5a58d4"/><circle cx="136.9" cy="347.2" r="0.6" fill="#4240b8"/><circle cx="151.5" cy="365.6" r="0.7" fill="#3432a4"/><circle cx="148.8" cy="334.0" r="0.9" fill="#4240b8"/><circle cx="135.7" cy="358.9" r="0.6" fill="#5a58d4"/><circle cx="144.1" cy="356.5" r="0.8" fill="#5a58d4"/><circle cx="150.4" cy="364.4" r="0.7" fill="#4240b8"/><circle cx="160.2" cy="352.9" r="0.9" fill="#5250cc"/><circle cx="159.8" cy="354.3" r="1.0" fill="#3432a4"/><circle cx="140.0" cy="357.9" r="1.0" fill="#5a58d4"/><circle cx="147.9" cy="348.3" r="1.0" fill="#5a58d4"/><circle cx="141.7" cy="364.4" r="0.7" fill="#5250cc"/><circle cx="121.3" cy="360.9" r="1.0" fill="#5a58d4"/><circle cx="127.1" cy="356.1" r="0.9" fill="#5a58d4"/><circle cx="121.8" cy="337.5" r="0.6" fill="#4240b8"/><circle cx="148.1" cy="349.0" r="0.9" fill="#3432a4"/><circle cx="131.8" cy="352.5" r="0.9" fill="#3432a4"/><circle cx="122.4" cy="329.3" r="0.7" fill="#5a58d4"/><circle cx="134.1" cy="360.1" r="0.7" fill="#4240b8"/><circle cx="128.1" cy="329.0" r="0.8" fill="#4240b8"/><circle cx="154.3" cy="346.7" r="0.9" fill="#4240b8"/><circle cx="138.0" cy="329.6" r="0.8" fill="#5a58d4"/><circle cx="154.1" cy="368.1" r="0.7" fill="#4240b8"/><circle cx="158.9" cy="361.5" r="0.7" fill="#5a58d4"/><circle cx="149.3" cy="363.7" r="0.9" fill="#5250cc"/><circle cx="119.4" cy="339.8" r="0.7" fill="#5250cc"/><circle cx="142.2" cy="327.1" r="0.9" fill="#5a58d4"/><circle cx="161.2" cy="365.4" r="0.7" fill="#5a58d4"/><circle cx="153.9" cy="339.9" r="0.8" fill="#5250cc"/><circle cx="144.0" cy="326.9" r="0.9" fill="#5a58d4"/><circle cx="133.1" cy="362.8" r="0.7" fill="#4240b8"/><circle cx="140.1" cy="349.1" r="0.8" fill="#3432a4"/><circle cx="136.2" cy="332.1" r="0.7" fill="#4240b8"/><circle cx="157.8" cy="329.7" r="0.7" fill="#5a58d4"/><circle cx="150.4" cy="353.3" r="0.9" fill="#5a58d4"/><circle cx="142.4" cy="356.7" r="0.7" fill="#3432a4"/><circle cx="127.5" cy="365.5" r="0.8" fill="#4240b8"/><circle cx="147.4" cy="366.1" r="1.0" fill="#4240b8"/><circle cx="121.8" cy="353.6" r="1.0" fill="#5250cc"/><circle cx="123.5" cy="335.5" r="0.9" fill="#4240b8"/><circle cx="128.9" cy="349.9" r="1.0" fill="#3432a4"/><circle cx="149.2" cy="343.2" r="0.8" fill="#3432a4"/><circle cx="128.4" cy="343.3" r="1.0" fill="#5250cc"/><circle cx="150.2" cy="342.9" r="0.9" fill="#5250cc"/><circle cx="132.6" cy="351.8" r="0.7" fill="#3432a4"/><circle cx="153.6" cy="348.3" r="0.6" fill="#5a58d4"/><circle cx="142.0" cy="362.6" r="0.7" fill="#5250cc"/><circle cx="130.7" cy="359.2" r="0.8" fill="#5250cc"/><circle cx="120.9" cy="352.8" r="1.0" fill="#4240b8"/><circle cx="121.0" cy="365.9" r="0.8" fill="#5a58d4"/><circle cx="155.4" cy="339.6" r="0.7" fill="#3432a4"/><circle cx="123.8" cy="334.2" r="0.8" fill="#3432a4"/><circle cx="148.2" cy="350.3" r="1.0" fill="#5a58d4"/><circle cx="141.1" cy="356.3" r="0.8" fill="#4240b8"/><circle cx="156.3" cy="341.3" r="0.7" fill="#3432a4"/><circle cx="147.6" cy="361.0" r="1.0" fill="#5a58d4"/><circle cx="137.9" cy="350.5" r="0.6" fill="#3432a4"/><circle cx="120.0" cy="368.8" r="0.7" fill="#5250cc"/><circle cx="157.5" cy="361.8" r="0.7" fill="#5250cc"/><circle cx="142.6" cy="356.6" r="0.8" fill="#5250cc"/><circle cx="157.3" cy="352.8" r="0.6" fill="#5a58d4"/><circle cx="136.9" cy="351.2" r="0.9" fill="#4240b8"/><circle cx="153.8" cy="365.8" r="0.9" fill="#4240b8"/><circle cx="139.7" cy="368.2" r="0.7" fill="#3432a4"/><circle cx="154.5" cy="347.2" r="0.8" fill="#4240b8"/><circle cx="125.6" cy="362.3" r="0.9" fill="#3432a4"/><circle cx="133.6" cy="357.0" r="0.9" fill="#5250cc"/><circle cx="155.9" cy="351.0" r="0.9" fill="#4240b8"/><circle cx="146.1" cy="340.4" r="0.6" fill="#4240b8"/><circle cx="152.5" cy="348.6" r="0.6" fill="#4240b8"/><circle cx="160.6" cy="327.0" r="0.6" fill="#4240b8"/><circle cx="125.8" cy="357.1" r="1.0" fill="#5a58d4"/><circle cx="151.2" cy="352.4" r="0.9" fill="#3432a4"/><circle cx="122.5" cy="353.8" r="0.7" fill="#3432a4"/><circle cx="143.2" cy="340.2" r="0.9" fill="#4240b8"/><circle cx="139.5" cy="362.8" r="0.8" fill="#5a58d4"/><circle cx="152.2" cy="359.4" r="0.6" fill="#5250cc"/><circle cx="143.5" cy="364.0" r="0.8" fill="#3432a4"/><circle cx="160.2" cy="339.8" r="0.6" fill="#4240b8"/><circle cx="125.5" cy="358.0" r="0.6" fill="#4240b8"/><circle cx="159.1" cy="365.8" r="0.6" fill="#5250cc"/><circle cx="125.4" cy="335.2" r="0.6" fill="#3432a4"/><circle cx="140.5" cy="326.5" r="0.6" fill="#3432a4"/><circle cx="134.1" cy="357.4" r="0.9" fill="#5250cc"/><circle cx="143.9" cy="333.9" r="0.8" fill="#3432a4"/><circle cx="149.3" cy="365.2" r="0.7" fill="#5a58d4"/><circle cx="134.6" cy="368.3" r="1.0" fill="#4240b8"/><circle cx="160.0" cy="368.8" r="0.9" fill="#3432a4"/><circle cx="142.1" cy="330.5" r="0.7" fill="#5a58d4"/><circle cx="124.7" cy="359.3" r="0.7" fill="#4240b8"/><circle cx="121.2" cy="359.3" r="0.6" fill="#3432a4"/><circle cx="149.8" cy="347.5" r="0.7" fill="#4240b8"/><circle cx="134.7" cy="368.3" r="1.0" fill="#3432a4"/><circle cx="118.6" cy="331.5" r="1.0" fill="#4240b8"/><circle cx="123.9" cy="337.3" r="0.7" fill="#3432a4"/><circle cx="138.6" cy="362.8" r="0.8" fill="#5250cc"/><circle cx="128.1" cy="337.6" r="1.0" fill="#4240b8"/><circle cx="147.0" cy="359.5" r="0.6" fill="#5a58d4"/><circle cx="145.6" cy="347.0" r="1.0" fill="#4240b8"/><circle cx="158.1" cy="358.5" r="0.8" fill="#3432a4"/><circle cx="154.5" cy="362.2" r="0.8" fill="#3432a4"/><circle cx="129.3" cy="335.4" r="0.6" fill="#5250cc"/><circle cx="156.6" cy="369.0" r="1.0" fill="#5a58d4"/><circle cx="151.6" cy="344.9" r="0.8" fill="#5250cc"/><circle cx="144.7" cy="337.2" r="0.9" fill="#4240b8"/><circle cx="156.3" cy="366.3" r="0.6" fill="#4240b8"/><circle cx="142.9" cy="365.6" r="0.6" fill="#5a58d4"/><circle cx="142.7" cy="367.6" r="1.0" fill="#5250cc"/><circle cx="158.4" cy="348.7" r="0.6" fill="#5a58d4"/><circle cx="158.4" cy="338.7" r="0.8" fill="#3432a4"/><circle cx="141.3" cy="368.4" r="0.8" fill="#3432a4"/><circle cx="119.8" cy="337.1" r="0.9" fill="#5a58d4"/><circle cx="139.4" cy="356.0" r="1.0" fill="#3432a4"/><circle cx="131.1" cy="365.3" r="1.0" fill="#4240b8"/><circle cx="120.8" cy="355.0" r="0.8" fill="#5a58d4"/><circle cx="137.2" cy="328.3" r="1.0" fill="#3432a4"/><circle cx="154.0" cy="338.0" r="0.8" fill="#5a58d4"/><circle cx="144.8" cy="355.3" r="1.0" fill="#5250cc"/><circle cx="158.4" cy="338.3" r="1.0" fill="#4240b8"/><circle cx="136.0" cy="349.4" r="0.6" fill="#5a58d4"/><circle cx="131.5" cy="340.9" r="0.8" fill="#3432a4"/><circle cx="136.4" cy="343.9" r="0.9" fill="#5250cc"/><circle cx="144.7" cy="358.2" r="0.8" fill="#3432a4"/><circle cx="160.9" cy="357.9" r="0.7" fill="#5250cc"/><circle cx="146.1" cy="352.8" r="0.7" fill="#3432a4"/><circle cx="119.5" cy="366.1" r="0.7" fill="#5250cc"/><circle cx="149.2" cy="337.1" r="0.8" fill="#5a58d4"/><circle cx="126.4" cy="355.4" r="0.9" fill="#5a58d4"/><circle cx="158.6" cy="348.4" r="0.7" fill="#3432a4"/><circle cx="159.9" cy="335.9" r="0.9" fill="#4240b8"/><circle cx="125.5" cy="329.9" r="1.0" fill="#5a58d4"/><circle cx="142.8" cy="364.7" r="0.7" fill="#5a58d4"/><circle cx="126.8" cy="334.0" r="0.8" fill="#5a58d4"/><circle cx="121.4" cy="350.8" r="0.6" fill="#4240b8"/><circle cx="146.8" cy="367.5" r="0.7" fill="#4240b8"/><circle cx="146.9" cy="342.2" r="0.8" fill="#5a58d4"/><circle cx="136.3" cy="335.9" r="0.8" fill="#3432a4"/><circle cx="118.4" cy="347.7" r="0.8" fill="#3432a4"/><circle cx="148.8" cy="348.2" r="1.0" fill="#5a58d4"/><circle cx="129.6" cy="347.4" r="0.6" fill="#4240b8"/><circle cx="137.3" cy="340.2" r="0.8" fill="#4240b8"/><circle cx="122.6" cy="367.9" r="0.7" fill="#5250cc"/><circle cx="149.2" cy="353.3" r="1.0" fill="#3432a4"/><circle cx="137.9" cy="339.7" r="0.7" fill="#5a58d4"/><circle cx="138.7" cy="358.7" r="0.8" fill="#5a58d4"/><circle cx="125.6" cy="368.4" r="0.6" fill="#4240b8"/><circle cx="141.5" cy="366.6" r="1.0" fill="#5250cc"/><circle cx="122.4" cy="327.7" r="1.0" fill="#3432a4"/><circle cx="151.2" cy="354.2" r="1.0" fill="#5a58d4"/><circle cx="151.5" cy="344.0" r="0.6" fill="#3432a4"/><circle cx="124.9" cy="328.9" r="1.0" fill="#5250cc"/><circle cx="131.2" cy="329.2" r="0.8" fill="#4240b8"/><circle cx="141.7" cy="342.3" r="0.8" fill="#5a58d4"/><circle cx="148.0" cy="343.4" r="0.9" fill="#5250cc"/><circle cx="154.7" cy="331.9" r="0.7" fill="#5250cc"/><circle cx="160.2" cy="357.9" r="1.0" fill="#5a58d4"/><circle cx="147.9" cy="346.0" r="1.0" fill="#5250cc"/><circle cx="149.4" cy="347.1" r="1.0" fill="#3432a4"/><circle cx="128.4" cy="354.2" r="0.7" fill="#5a58d4"/><circle cx="136.5" cy="339.7" r="0.7" fill="#3432a4"/><circle cx="149.0" cy="345.1" r="0.9" fill="#4240b8"/><circle cx="127.5" cy="362.6" r="1.0" fill="#5250cc"/><circle cx="155.9" cy="350.2" r="0.7" fill="#5a58d4"/><circle cx="128.9" cy="338.3" r="0.6" fill="#4240b8"/><circle cx="138.2" cy="344.4" r="1.0" fill="#3432a4"/><circle cx="133.6" cy="346.6" r="1.0" fill="#5250cc"/><circle cx="153.1" cy="356.4" r="0.6" fill="#3432a4"/><circle cx="152.4" cy="330.9" r="0.8" fill="#5250cc"/><circle cx="155.0" cy="364.6" r="0.8" fill="#3432a4"/><circle cx="131.3" cy="342.7" r="0.9" fill="#5250cc"/><circle cx="126.0" cy="348.2" r="1.0" fill="#3432a4"/><circle cx="121.0" cy="359.7" r="0.7" fill="#5a58d4"/><circle cx="156.4" cy="339.3" r="1.0" fill="#4240b8"/><circle cx="126.3" cy="341.5" r="1.0" fill="#5a58d4"/><circle cx="127.1" cy="335.9" r="0.8" fill="#4240b8"/><circle cx="158.3" cy="330.5" r="0.9" fill="#5a58d4"/><circle cx="154.9" cy="361.5" r="1.0" fill="#3432a4"/><circle cx="133.4" cy="333.2" r="0.6" fill="#5250cc"/><circle cx="138.9" cy="346.4" r="1.0" fill="#5250cc"/><circle cx="139.3" cy="357.9" r="0.7" fill="#5250cc"/><circle cx="156.8" cy="366.2" r="0.9" fill="#3432a4"/><circle cx="158.7" cy="332.2" r="0.7" fill="#5250cc"/><circle cx="136.8" cy="341.4" r="0.7" fill="#4240b8"/><circle cx="127.0" cy="335.1" r="0.6" fill="#5250cc"/><circle cx="119.6" cy="339.4" r="0.7" fill="#5a58d4"/><circle cx="133.3" cy="334.2" r="1.0" fill="#3432a4"/><circle cx="144.1" cy="365.3" r="1.0" fill="#4240b8"/><circle cx="159.2" cy="336.2" r="1.0" fill="#5a58d4"/><circle cx="123.4" cy="338.9" r="0.9" fill="#5a58d4"/><circle cx="129.3" cy="341.0" r="0.9" fill="#3432a4"/><circle cx="132.5" cy="326.2" r="1.0" fill="#5a58d4"/><circle cx="160.8" cy="363.6" r="0.7" fill="#3432a4"/><circle cx="130.3" cy="345.5" r="0.7" fill="#3432a4"/><circle cx="134.0" cy="327.8" r="0.6" fill="#5250cc"/><circle cx="155.0" cy="338.0" r="0.8" fill="#5a58d4"/><circle cx="121.6" cy="353.3" r="0.7" fill="#4240b8"/><circle cx="138.9" cy="347.1" r="0.8" fill="#3432a4"/><circle cx="125.4" cy="361.7" r="0.8" fill="#3432a4"/><circle cx="149.4" cy="365.3" r="0.7" fill="#5a58d4"/><circle cx="148.8" cy="328.0" r="0.8" fill="#5250cc"/><circle cx="151.2" cy="343.8" r="0.8" fill="#5250cc"/><circle cx="129.1" cy="342.2" r="0.8" fill="#5250cc"/><circle cx="134.7" cy="355.6" r="0.8" fill="#4240b8"/><circle cx="121.5" cy="360.4" r="0.8" fill="#4240b8"/><circle cx="130.0" cy="367.4" r="0.9" fill="#5a58d4"/><circle cx="158.4" cy="330.2" r="0.9" fill="#3432a4"/><circle cx="119.2" cy="333.7" r="0.6" fill="#5250cc"/><circle cx="157.7" cy="330.6" r="0.8" fill="#3432a4"/><circle cx="152.8" cy="352.9" r="0.8" fill="#5250cc"/><circle cx="156.0" cy="332.2" r="1.0" fill="#4240b8"/><circle cx="126.4" cy="338.0" r="0.8" fill="#4240b8"/><circle cx="118.8" cy="333.1" r="1.0" fill="#5a58d4"/><circle cx="133.7" cy="333.9" r="0.7" fill="#4240b8"/><circle cx="141.5" cy="343.6" r="0.7" fill="#4240b8"/><circle cx="142.7" cy="352.7" r="0.9" fill="#3432a4"/><circle cx="141.6" cy="367.3" r="1.0" fill="#3432a4"/><circle cx="148.1" cy="337.1" r="0.7" fill="#3432a4"/><circle cx="148.7" cy="363.5" r="1.0" fill="#3432a4"/><circle cx="153.2" cy="328.7" r="0.7" fill="#5a58d4"/><circle cx="159.8" cy="349.0" r="0.6" fill="#5a58d4"/><circle cx="130.8" cy="328.7" r="0.8" fill="#3432a4"/><circle cx="121.2" cy="328.3" r="0.9" fill="#3432a4"/><circle cx="144.4" cy="356.2" r="1.0" fill="#5a58d4"/><circle cx="122.7" cy="368.2" r="0.8" fill="#5250cc"/><circle cx="140.5" cy="353.2" r="1.0" fill="#3432a4"/><circle cx="157.5" cy="348.3" r="0.7" fill="#4240b8"/><circle cx="130.4" cy="337.1" r="0.8" fill="#5a58d4"/><circle cx="149.3" cy="350.6" r="0.8" fill="#5250cc"/><circle cx="127.8" cy="353.9" r="0.6" fill="#5a58d4"/><circle cx="124.2" cy="362.6" r="0.8" fill="#5250cc"/><circle cx="157.6" cy="342.5" r="0.8" fill="#5250cc"/><circle cx="144.3" cy="330.7" r="0.9" fill="#4240b8"/><circle cx="157.8" cy="368.6" r="0.6" fill="#5250cc"/><circle cx="159.4" cy="363.1" r="1.0" fill="#5250cc"/><circle cx="150.7" cy="357.5" r="0.7" fill="#5250cc"/><circle cx="123.9" cy="345.9" r="0.9" fill="#3432a4"/><circle cx="139.2" cy="350.3" r="0.6" fill="#5250cc"/><circle cx="148.2" cy="341.0" r="1.0" fill="#5a58d4"/><circle cx="122.3" cy="338.3" r="1.0" fill="#5a58d4"/><circle cx="126.0" cy="358.7" r="0.8" fill="#3432a4"/><circle cx="137.7" cy="344.5" r="1.0" fill="#4240b8"/><circle cx="122.0" cy="362.1" r="0.7" fill="#5250cc"/><circle cx="126.0" cy="334.7" r="0.7" fill="#5a58d4"/><circle cx="142.4" cy="338.5" r="0.6" fill="#3432a4"/><circle cx="142.9" cy="326.3" r="1.0" fill="#5250cc"/><circle cx="133.9" cy="358.7" r="0.6" fill="#5a58d4"/><circle cx="128.9" cy="362.9" r="0.9" fill="#5a58d4"/><circle cx="128.7" cy="367.7" r="0.7" fill="#3432a4"/><circle cx="153.1" cy="336.1" r="1.0" fill="#3432a4"/><circle cx="130.7" cy="340.7" r="1.0" fill="#5a58d4"/><circle cx="122.6" cy="343.7" r="0.8" fill="#5250cc"/><circle cx="137.9" cy="362.0" r="0.7" fill="#3432a4"/><circle cx="154.7" cy="340.9" r="0.8" fill="#5250cc"/><circle cx="146.8" cy="333.1" r="0.8" fill="#5a58d4"/><circle cx="160.5" cy="349.6" r="0.7" fill="#5250cc"/><circle cx="161.0" cy="359.3" r="1.0" fill="#5a58d4"/><circle cx="150.3" cy="363.8" r="0.7" fill="#5250cc"/><circle cx="132.7" cy="340.4" r="0.9" fill="#5a58d4"/><circle cx="139.4" cy="343.9" r="0.8" fill="#5a58d4"/><circle cx="154.0" cy="353.1" r="0.7" fill="#3432a4"/><circle cx="149.2" cy="354.0" r="1.0" fill="#3432a4"/><circle cx="132.6" cy="336.3" r="0.8" fill="#5250cc"/><circle cx="140.5" cy="341.8" r="0.6" fill="#5a58d4"/><circle cx="139.0" cy="361.8" r="0.8" fill="#4240b8"/><circle cx="122.6" cy="333.7" r="0.9" fill="#5250cc"/><circle cx="141.1" cy="363.4" r="0.9" fill="#3432a4"/><circle cx="159.5" cy="358.6" r="1.0" fill="#5a58d4"/><circle cx="151.8" cy="337.0" r="0.6" fill="#5a58d4"/><circle cx="155.6" cy="343.0" r="1.0" fill="#4240b8"/><circle cx="149.0" cy="367.6" r="0.8" fill="#5250cc"/><circle cx="159.9" cy="357.4" r="0.9" fill="#5250cc"/><circle cx="148.0" cy="360.2" r="0.9" fill="#5250cc"/><circle cx="159.6" cy="347.4" r="0.8" fill="#5250cc"/><circle cx="151.4" cy="358.4" r="0.8" fill="#3432a4"/><circle cx="135.1" cy="355.1" r="0.8" fill="#3432a4"/><circle cx="123.2" cy="339.7" r="0.8" fill="#4240b8"/><circle cx="148.5" cy="365.0" r="0.7" fill="#4240b8"/><circle cx="145.7" cy="350.9" r="0.6" fill="#3432a4"/><circle cx="153.5" cy="344.3" r="0.8" fill="#4240b8"/><circle cx="128.1" cy="328.2" r="0.6" fill="#4240b8"/><circle cx="149.0" cy="358.7" r="0.8" fill="#3432a4"/><circle cx="149.1" cy="357.3" r="1.0" fill="#4240b8"/><circle cx="160.1" cy="350.5" r="0.6" fill="#5a58d4"/><circle cx="132.2" cy="361.0" r="0.8" fill="#5250cc"/><circle cx="122.4" cy="346.9" r="0.7" fill="#3432a4"/><circle cx="126.3" cy="361.0" r="0.6" fill="#5250cc"/><circle cx="142.3" cy="358.0" r="0.9" fill="#4240b8"/><circle cx="123.2" cy="354.2" r="1.0" fill="#4240b8"/></g>
</g>
<rect x="121.5" y="321.4" width="9" height="1.7" fill="#fff"/>
<g clip-path="url(#c21)">
<rect x="164.6" y="282.1" width="64.30000000000001" height="42.5" fill="#1c1c5c"/>
<path d="M178.0,282.0 L206.0,282.0 L212.0,300.0 L214.0,325.0 L180.0,325.0 L176.0,300.0 Z" fill="#1e4060" filter="url(#f2)" opacity="0.9"/>
<g filter="url(#f4)" opacity="0.85"><circle cx="184.4" cy="324.0" r="0.8" fill="#48b050"/><circle cx="203.6" cy="309.0" r="0.8" fill="#2a8040"/><circle cx="194.5" cy="291.8" r="0.7" fill="#48b050"/><circle cx="188.5" cy="287.2" r="0.8" fill="#2a8040"/><circle cx="186.5" cy="296.2" r="0.7" fill="#48b050"/><circle cx="194.0" cy="300.9" r="0.8" fill="#3a9a48"/><circle cx="201.5" cy="292.0" r="0.9" fill="#48b050"/><circle cx="180.7" cy="303.4" r="0.8" fill="#60c858"/><circle cx="191.5" cy="315.1" r="1.0" fill="#60c858"/><circle cx="190.9" cy="311.1" r="1.0" fill="#60c858"/><circle cx="186.6" cy="287.0" r="0.7" fill="#2a8040"/><circle cx="210.0" cy="303.7" r="0.6" fill="#2a8040"/><circle cx="201.0" cy="296.2" r="0.9" fill="#2a8040"/><circle cx="196.6" cy="305.4" r="0.9" fill="#60c858"/><circle cx="204.4" cy="296.1" r="0.5" fill="#48b050"/><circle cx="193.5" cy="292.2" r="0.9" fill="#48b050"/><circle cx="202.7" cy="322.9" r="0.8" fill="#48b050"/><circle cx="203.5" cy="289.7" r="0.5" fill="#3a9a48"/><circle cx="179.6" cy="307.7" r="0.5" fill="#3a9a48"/><circle cx="186.3" cy="322.7" r="0.9" fill="#2a8040"/><circle cx="184.6" cy="301.1" r="0.6" fill="#60c858"/><circle cx="205.2" cy="307.1" r="0.7" fill="#48b050"/><circle cx="202.2" cy="301.5" r="0.9" fill="#60c858"/><circle cx="202.3" cy="320.3" r="0.6" fill="#48b050"/><circle cx="203.5" cy="295.9" r="1.0" fill="#48b050"/><circle cx="191.3" cy="310.8" r="0.7" fill="#3a9a48"/><circle cx="181.0" cy="297.3" r="0.7" fill="#60c858"/><circle cx="202.2" cy="323.8" r="0.9" fill="#3a9a48"/><circle cx="209.3" cy="303.3" r="0.8" fill="#3a9a48"/><circle cx="211.4" cy="290.2" r="0.9" fill="#60c858"/><circle cx="197.1" cy="321.2" r="0.7" fill="#2a8040"/><circle cx="200.0" cy="315.4" r="1.0" fill="#2a8040"/><circle cx="198.3" cy="314.1" r="0.7" fill="#3a9a48"/><circle cx="208.2" cy="322.0" r="0.9" fill="#48b050"/><circle cx="185.3" cy="324.3" r="1.0" fill="#2a8040"/><circle cx="178.3" cy="303.4" r="0.9" fill="#48b050"/><circle cx="207.6" cy="296.6" r="0.7" fill="#60c858"/><circle cx="178.0" cy="309.1" r="0.7" fill="#48b050"/><circle cx="193.4" cy="324.7" r="0.9" fill="#3a9a48"/><circle cx="186.7" cy="323.4" r="0.7" fill="#60c858"/><circle cx="192.7" cy="292.7" r="0.7" fill="#60c858"/><circle cx="191.4" cy="308.1" r="1.0" fill="#2a8040"/><circle cx="200.6" cy="310.3" r="0.6" fill="#3a9a48"/><circle cx="205.8" cy="310.5" r="0.9" fill="#48b050"/><circle cx="193.5" cy="290.8" r="0.8" fill="#3a9a48"/><circle cx="208.8" cy="324.5" r="0.7" fill="#3a9a48"/><circle cx="211.4" cy="313.6" r="0.7" fill="#3a9a48"/><circle cx="184.4" cy="305.4" r="0.7" fill="#48b050"/><circle cx="203.7" cy="288.8" r="0.7" fill="#2a8040"/><circle cx="210.4" cy="299.6" r="0.9" fill="#60c858"/><circle cx="199.9" cy="292.9" r="1.0" fill="#3a9a48"/><circle cx="210.9" cy="285.5" r="0.8" fill="#60c858"/><circle cx="178.6" cy="315.6" r="1.0" fill="#2a8040"/><circle cx="188.1" cy="315.8" r="0.7" fill="#60c858"/><circle cx="203.1" cy="324.8" r="0.6" fill="#2a8040"/><circle cx="188.3" cy="319.2" r="0.5" fill="#60c858"/><circle cx="183.9" cy="294.0" r="0.6" fill="#60c858"/><circle cx="181.4" cy="318.4" r="0.8" fill="#60c858"/><circle cx="183.1" cy="308.9" r="0.9" fill="#48b050"/><circle cx="196.9" cy="317.6" r="0.9" fill="#2a8040"/><circle cx="206.7" cy="303.9" r="0.9" fill="#48b050"/><circle cx="197.7" cy="299.4" r="0.9" fill="#60c858"/><circle cx="211.8" cy="321.2" r="1.0" fill="#60c858"/><circle cx="185.7" cy="286.8" r="1.0" fill="#60c858"/><circle cx="201.6" cy="317.3" r="0.8" fill="#3a9a48"/><circle cx="209.4" cy="303.8" r="0.6" fill="#2a8040"/><circle cx="182.4" cy="292.5" r="0.7" fill="#3a9a48"/><circle cx="180.2" cy="303.8" r="0.7" fill="#48b050"/><circle cx="205.7" cy="312.3" r="0.8" fill="#48b050"/><circle cx="203.5" cy="324.2" r="0.5" fill="#3a9a48"/><circle cx="198.5" cy="321.9" r="0.6" fill="#60c858"/><circle cx="210.9" cy="298.2" r="0.7" fill="#48b050"/><circle cx="181.2" cy="284.4" r="0.9" fill="#60c858"/><circle cx="203.2" cy="296.9" r="0.9" fill="#48b050"/><circle cx="179.0" cy="315.8" r="0.7" fill="#48b050"/><circle cx="200.0" cy="286.3" r="0.6" fill="#48b050"/><circle cx="202.9" cy="323.0" r="1.0" fill="#3a9a48"/><circle cx="198.8" cy="309.1" r="0.6" fill="#3a9a48"/><circle cx="184.0" cy="289.9" r="0.9" fill="#48b050"/><circle cx="184.8" cy="284.8" r="0.9" fill="#48b050"/><circle cx="190.0" cy="311.7" r="0.7" fill="#60c858"/><circle cx="182.6" cy="285.5" r="0.6" fill="#3a9a48"/><circle cx="184.1" cy="302.7" r="0.7" fill="#2a8040"/><circle cx="209.9" cy="285.4" r="0.7" fill="#2a8040"/><circle cx="205.6" cy="317.7" r="1.0" fill="#2a8040"/><circle cx="180.7" cy="299.4" r="0.9" fill="#60c858"/><circle cx="181.5" cy="299.0" r="0.6" fill="#3a9a48"/><circle cx="181.6" cy="313.0" r="0.6" fill="#3a9a48"/><circle cx="183.0" cy="295.0" r="0.6" fill="#60c858"/><circle cx="197.9" cy="320.2" r="0.7" fill="#2a8040"/><circle cx="196.6" cy="289.4" r="0.7" fill="#2a8040"/><circle cx="185.8" cy="285.5" r="1.0" fill="#3a9a48"/><circle cx="181.6" cy="299.8" r="0.9" fill="#60c858"/><circle cx="191.3" cy="296.9" r="1.0" fill="#2a8040"/><circle cx="207.3" cy="298.6" r="0.7" fill="#60c858"/><circle cx="182.2" cy="303.2" r="0.5" fill="#3a9a48"/><circle cx="198.8" cy="289.0" r="0.5" fill="#60c858"/><circle cx="191.8" cy="288.7" r="0.7" fill="#60c858"/><circle cx="204.2" cy="286.4" r="0.8" fill="#48b050"/><circle cx="184.1" cy="312.5" r="0.6" fill="#2a8040"/><circle cx="189.0" cy="302.4" r="0.9" fill="#48b050"/><circle cx="203.8" cy="300.8" r="0.8" fill="#3a9a48"/><circle cx="192.8" cy="286.3" r="0.7" fill="#60c858"/><circle cx="202.5" cy="323.5" r="0.7" fill="#60c858"/><circle cx="203.8" cy="291.4" r="0.9" fill="#60c858"/><circle cx="179.3" cy="302.7" r="0.9" fill="#48b050"/><circle cx="200.8" cy="317.3" r="1.0" fill="#3a9a48"/><circle cx="190.3" cy="322.9" r="0.6" fill="#3a9a48"/><circle cx="202.4" cy="299.0" r="0.8" fill="#60c858"/><circle cx="181.8" cy="298.4" r="0.5" fill="#60c858"/><circle cx="193.1" cy="311.0" r="0.8" fill="#3a9a48"/><circle cx="184.6" cy="289.0" r="1.0" fill="#2a8040"/><circle cx="184.5" cy="302.7" r="0.7" fill="#2a8040"/><circle cx="194.3" cy="303.6" r="0.8" fill="#60c858"/><circle cx="180.8" cy="319.7" r="0.6" fill="#2a8040"/><circle cx="210.9" cy="315.2" r="0.7" fill="#60c858"/><circle cx="192.6" cy="308.0" r="1.0" fill="#2a8040"/><circle cx="193.3" cy="294.6" r="0.9" fill="#2a8040"/><circle cx="210.5" cy="310.3" r="0.7" fill="#60c858"/><circle cx="209.7" cy="311.8" r="0.6" fill="#2a8040"/><circle cx="195.5" cy="319.2" r="0.7" fill="#48b050"/><circle cx="204.9" cy="288.5" r="0.5" fill="#3a9a48"/><circle cx="205.5" cy="298.0" r="0.6" fill="#60c858"/><circle cx="199.4" cy="285.6" r="0.9" fill="#3a9a48"/><circle cx="201.8" cy="307.7" r="0.6" fill="#3a9a48"/><circle cx="187.6" cy="301.2" r="0.6" fill="#3a9a48"/><circle cx="208.4" cy="324.9" r="0.9" fill="#60c858"/><circle cx="185.4" cy="289.7" r="0.6" fill="#48b050"/><circle cx="209.2" cy="319.8" r="0.7" fill="#3a9a48"/><circle cx="195.9" cy="284.7" r="0.7" fill="#2a8040"/><circle cx="192.6" cy="301.0" r="0.6" fill="#60c858"/><circle cx="178.6" cy="289.4" r="0.9" fill="#3a9a48"/><circle cx="208.6" cy="310.6" r="0.7" fill="#48b050"/><circle cx="209.5" cy="316.1" r="1.0" fill="#3a9a48"/><circle cx="186.8" cy="311.7" r="0.6" fill="#2a8040"/><circle cx="182.5" cy="306.7" r="0.8" fill="#48b050"/><circle cx="190.0" cy="303.0" r="0.8" fill="#2a8040"/><circle cx="211.0" cy="307.0" r="0.7" fill="#2a8040"/><circle cx="191.4" cy="303.8" r="1.0" fill="#2a8040"/><circle cx="188.8" cy="284.5" r="0.9" fill="#60c858"/><circle cx="189.4" cy="298.0" r="0.7" fill="#60c858"/><circle cx="210.5" cy="293.5" r="1.0" fill="#2a8040"/><circle cx="183.1" cy="311.3" r="0.7" fill="#48b050"/><circle cx="193.4" cy="315.5" r="0.8" fill="#60c858"/><circle cx="206.6" cy="304.9" r="0.5" fill="#60c858"/><circle cx="198.1" cy="307.2" r="0.9" fill="#60c858"/><circle cx="198.4" cy="303.9" r="0.8" fill="#3a9a48"/><circle cx="198.9" cy="323.0" r="0.6" fill="#3a9a48"/><circle cx="205.7" cy="321.8" r="0.9" fill="#48b050"/><circle cx="207.5" cy="302.3" r="1.0" fill="#60c858"/><circle cx="206.6" cy="324.0" r="0.7" fill="#60c858"/><circle cx="195.7" cy="322.1" r="0.8" fill="#3a9a48"/><circle cx="208.9" cy="300.3" r="0.8" fill="#48b050"/><circle cx="203.1" cy="324.4" r="0.7" fill="#2a8040"/><circle cx="190.2" cy="323.6" r="0.7" fill="#3a9a48"/><circle cx="178.7" cy="299.5" r="0.8" fill="#48b050"/><circle cx="189.8" cy="315.9" r="0.6" fill="#48b050"/><circle cx="196.3" cy="313.2" r="0.6" fill="#48b050"/><circle cx="184.4" cy="309.9" r="1.0" fill="#3a9a48"/><circle cx="185.1" cy="306.7" r="0.7" fill="#3a9a48"/></g>
<path d="M165.0,282.0 L178.0,282.0 L179.0,288.0 L172.0,290.0 L165.0,292.0 Z" fill="#4848c0" filter="url(#f3)"/>
<path d="M166,295 Q172,291 180,290" fill="none" stroke="#04041a" stroke-width="3.5" stroke-linecap="round" filter="url(#f3)" opacity="1"/>
<path d="M205,288 Q210,283 216,285 Q224,290 228,298 L228,304 Q222,298 216,295 Q210,292 205,288 Z" stroke="#04041a" stroke-width="1" fill="#04041a" filter="url(#f3)"/>
<path d="M196,300 Q206,306 214,314 Q219,320 222,325" fill="none" stroke="#3c9a48" stroke-width="9" stroke-linecap="round" filter="url(#f2)" opacity="0.7"/>
<path d="M197,302 Q206,308 214,315 Q218,320 221,325" fill="none" stroke="#62c850" stroke-width="4.0" stroke-linecap="round" filter="url(#f1)" opacity="1"/>
<path d="M199,304 Q206,309 212,314" fill="none" stroke="#90e878" stroke-width="1.4" stroke-linecap="round" filter="url(#f1)" opacity="1"/>
<circle cx="221.7" cy="305.2" r="0.9" fill="#fff"/>
</g>
<g clip-path="url(#c22)">
<rect x="164.6" y="326.2" width="64.30000000000001" height="43.0" fill="#1e1e66"/>
<path d="M186.0,326.0 L214.0,326.0 L220.0,345.0 L218.0,369.0 L188.0,369.0 L184.0,345.0 Z" fill="#24507a" filter="url(#f2)" opacity="0.8"/>
<g filter="url(#f4)" opacity="0.75"><circle cx="212.1" cy="342.9" r="0.7" fill="#2a8050"/><circle cx="193.2" cy="361.6" r="0.9" fill="#60c870"/><circle cx="206.0" cy="354.0" r="0.5" fill="#2a8050"/><circle cx="211.0" cy="346.5" r="1.0" fill="#2a8050"/><circle cx="203.3" cy="336.0" r="0.9" fill="#3a9a60"/><circle cx="208.0" cy="346.6" r="0.9" fill="#3a9a60"/><circle cx="194.4" cy="347.3" r="0.8" fill="#3a9a60"/><circle cx="215.4" cy="349.9" r="0.9" fill="#48b068"/><circle cx="209.2" cy="358.1" r="0.9" fill="#2a8050"/><circle cx="196.3" cy="342.9" r="1.0" fill="#3a9a60"/><circle cx="205.8" cy="343.0" r="0.8" fill="#3a9a60"/><circle cx="189.7" cy="347.0" r="1.0" fill="#48b068"/><circle cx="185.1" cy="344.8" r="0.6" fill="#60c870"/><circle cx="215.2" cy="346.6" r="0.9" fill="#48b068"/><circle cx="208.1" cy="329.3" r="0.9" fill="#2a8050"/><circle cx="217.1" cy="349.9" r="1.0" fill="#2a8050"/><circle cx="214.0" cy="356.3" r="0.9" fill="#60c870"/><circle cx="211.5" cy="360.5" r="0.9" fill="#60c870"/><circle cx="208.1" cy="332.2" r="0.5" fill="#2a8050"/><circle cx="189.3" cy="345.8" r="0.5" fill="#3a9a60"/><circle cx="200.0" cy="333.7" r="0.5" fill="#60c870"/><circle cx="211.7" cy="347.9" r="0.5" fill="#2a8050"/><circle cx="186.3" cy="347.2" r="0.9" fill="#60c870"/><circle cx="202.4" cy="343.3" r="0.8" fill="#3a9a60"/><circle cx="189.0" cy="344.8" r="0.5" fill="#48b068"/><circle cx="199.0" cy="364.9" r="0.6" fill="#3a9a60"/><circle cx="192.0" cy="343.8" r="0.7" fill="#2a8050"/><circle cx="189.3" cy="358.8" r="0.9" fill="#2a8050"/><circle cx="187.2" cy="367.4" r="0.7" fill="#2a8050"/><circle cx="213.3" cy="361.3" r="0.7" fill="#48b068"/><circle cx="216.2" cy="333.9" r="0.9" fill="#3a9a60"/><circle cx="214.3" cy="365.9" r="0.7" fill="#3a9a60"/><circle cx="190.2" cy="342.1" r="0.6" fill="#48b068"/><circle cx="202.7" cy="342.6" r="0.9" fill="#3a9a60"/><circle cx="196.4" cy="353.6" r="0.8" fill="#2a8050"/><circle cx="216.2" cy="353.2" r="1.0" fill="#60c870"/><circle cx="196.3" cy="368.7" r="0.8" fill="#48b068"/><circle cx="192.7" cy="368.5" r="0.6" fill="#48b068"/><circle cx="191.6" cy="341.6" r="0.6" fill="#2a8050"/><circle cx="216.9" cy="334.4" r="0.8" fill="#2a8050"/><circle cx="197.5" cy="362.9" r="0.6" fill="#60c870"/><circle cx="204.4" cy="364.3" r="1.0" fill="#48b068"/><circle cx="204.9" cy="365.9" r="0.9" fill="#60c870"/><circle cx="197.1" cy="334.0" r="0.6" fill="#60c870"/><circle cx="210.6" cy="348.1" r="0.5" fill="#2a8050"/><circle cx="186.2" cy="334.3" r="0.5" fill="#2a8050"/><circle cx="216.3" cy="365.7" r="0.6" fill="#2a8050"/><circle cx="190.4" cy="366.3" r="0.6" fill="#60c870"/><circle cx="199.5" cy="356.3" r="0.8" fill="#3a9a60"/><circle cx="195.4" cy="359.8" r="0.6" fill="#48b068"/><circle cx="203.7" cy="365.0" r="0.9" fill="#3a9a60"/><circle cx="213.6" cy="333.5" r="0.6" fill="#60c870"/><circle cx="206.2" cy="331.2" r="0.6" fill="#2a8050"/><circle cx="193.3" cy="346.1" r="0.7" fill="#48b068"/><circle cx="194.2" cy="347.6" r="0.7" fill="#2a8050"/><circle cx="200.8" cy="362.2" r="0.9" fill="#3a9a60"/><circle cx="215.5" cy="340.3" r="0.8" fill="#3a9a60"/><circle cx="211.9" cy="355.6" r="0.7" fill="#48b068"/><circle cx="210.9" cy="336.1" r="0.6" fill="#48b068"/><circle cx="193.5" cy="356.9" r="0.7" fill="#2a8050"/><circle cx="194.3" cy="366.5" r="0.6" fill="#2a8050"/><circle cx="195.2" cy="329.3" r="0.9" fill="#3a9a60"/><circle cx="198.5" cy="360.3" r="0.6" fill="#2a8050"/><circle cx="208.6" cy="336.7" r="0.7" fill="#2a8050"/><circle cx="204.1" cy="354.5" r="0.7" fill="#48b068"/><circle cx="205.9" cy="359.9" r="0.7" fill="#3a9a60"/><circle cx="206.8" cy="348.4" r="0.7" fill="#2a8050"/><circle cx="213.5" cy="360.2" r="0.6" fill="#2a8050"/><circle cx="193.8" cy="353.5" r="0.9" fill="#3a9a60"/><circle cx="184.1" cy="341.3" r="1.0" fill="#48b068"/><circle cx="202.7" cy="356.9" r="0.6" fill="#3a9a60"/><circle cx="206.2" cy="329.4" r="0.6" fill="#3a9a60"/><circle cx="184.8" cy="337.0" r="0.6" fill="#2a8050"/><circle cx="211.7" cy="349.8" r="1.0" fill="#2a8050"/><circle cx="214.0" cy="352.2" r="0.5" fill="#60c870"/><circle cx="216.7" cy="364.9" r="0.6" fill="#48b068"/><circle cx="197.1" cy="343.5" r="0.8" fill="#2a8050"/><circle cx="208.3" cy="331.6" r="0.6" fill="#60c870"/><circle cx="206.2" cy="346.1" r="0.6" fill="#2a8050"/><circle cx="200.8" cy="331.9" r="0.9" fill="#48b068"/><circle cx="209.6" cy="366.3" r="0.8" fill="#3a9a60"/><circle cx="209.2" cy="354.4" r="0.9" fill="#3a9a60"/><circle cx="200.2" cy="348.0" r="0.5" fill="#60c870"/><circle cx="209.3" cy="364.8" r="1.0" fill="#3a9a60"/><circle cx="214.1" cy="362.8" r="0.9" fill="#60c870"/><circle cx="197.5" cy="340.7" r="0.9" fill="#48b068"/><circle cx="196.1" cy="329.7" r="0.8" fill="#3a9a60"/><circle cx="212.7" cy="365.8" r="0.6" fill="#48b068"/><circle cx="196.5" cy="351.0" r="1.0" fill="#48b068"/><circle cx="204.1" cy="362.1" r="0.9" fill="#2a8050"/><circle cx="201.7" cy="348.6" r="1.0" fill="#48b068"/><circle cx="195.6" cy="351.0" r="0.9" fill="#2a8050"/><circle cx="217.1" cy="353.8" r="0.6" fill="#48b068"/><circle cx="200.1" cy="341.6" r="0.7" fill="#2a8050"/><circle cx="210.6" cy="330.7" r="0.6" fill="#2a8050"/><circle cx="203.6" cy="348.1" r="1.0" fill="#2a8050"/><circle cx="184.8" cy="343.3" r="0.9" fill="#2a8050"/><circle cx="192.6" cy="344.3" r="0.8" fill="#48b068"/><circle cx="186.1" cy="359.2" r="0.7" fill="#2a8050"/><circle cx="197.3" cy="356.1" r="0.9" fill="#3a9a60"/><circle cx="192.7" cy="368.9" r="0.5" fill="#60c870"/><circle cx="212.0" cy="353.6" r="0.8" fill="#3a9a60"/><circle cx="190.1" cy="362.2" r="1.0" fill="#48b068"/><circle cx="204.2" cy="356.1" r="1.0" fill="#2a8050"/><circle cx="207.0" cy="358.0" r="0.9" fill="#60c870"/><circle cx="216.3" cy="366.1" r="0.7" fill="#2a8050"/><circle cx="215.6" cy="357.0" r="0.6" fill="#2a8050"/><circle cx="197.8" cy="331.1" r="0.7" fill="#3a9a60"/><circle cx="212.1" cy="333.9" r="0.6" fill="#2a8050"/><circle cx="192.1" cy="333.6" r="0.6" fill="#60c870"/><circle cx="215.6" cy="330.3" r="0.8" fill="#2a8050"/><circle cx="208.0" cy="348.1" r="0.7" fill="#60c870"/><circle cx="199.9" cy="342.7" r="0.7" fill="#2a8050"/><circle cx="207.1" cy="353.2" r="0.9" fill="#48b068"/><circle cx="188.7" cy="344.1" r="0.5" fill="#3a9a60"/><circle cx="184.9" cy="338.2" r="0.9" fill="#2a8050"/><circle cx="200.6" cy="339.4" r="0.9" fill="#2a8050"/><circle cx="190.6" cy="345.3" r="0.6" fill="#60c870"/><circle cx="217.5" cy="364.2" r="0.8" fill="#2a8050"/><circle cx="186.2" cy="339.7" r="0.6" fill="#2a8050"/><circle cx="213.1" cy="357.2" r="0.6" fill="#2a8050"/><circle cx="201.4" cy="362.3" r="0.7" fill="#3a9a60"/><circle cx="216.6" cy="333.8" r="0.6" fill="#60c870"/><circle cx="207.2" cy="331.1" r="0.5" fill="#2a8050"/><circle cx="196.4" cy="330.0" r="0.6" fill="#48b068"/><circle cx="195.4" cy="328.9" r="1.0" fill="#60c870"/><circle cx="217.7" cy="356.8" r="0.9" fill="#48b068"/><circle cx="189.3" cy="347.9" r="0.8" fill="#60c870"/><circle cx="191.2" cy="337.0" r="0.9" fill="#2a8050"/><circle cx="212.5" cy="360.0" r="0.8" fill="#3a9a60"/><circle cx="217.0" cy="356.8" r="0.9" fill="#60c870"/><circle cx="211.3" cy="336.3" r="0.6" fill="#60c870"/><circle cx="204.0" cy="333.7" r="0.6" fill="#3a9a60"/><circle cx="205.5" cy="336.0" r="0.8" fill="#48b068"/><circle cx="191.8" cy="355.0" r="0.9" fill="#48b068"/><circle cx="202.5" cy="334.3" r="0.7" fill="#3a9a60"/><circle cx="195.7" cy="333.0" r="0.7" fill="#3a9a60"/><circle cx="210.0" cy="362.7" r="0.6" fill="#2a8050"/><circle cx="191.2" cy="336.0" r="0.6" fill="#60c870"/><circle cx="201.2" cy="337.9" r="0.6" fill="#48b068"/><circle cx="204.3" cy="340.8" r="0.8" fill="#2a8050"/><circle cx="201.3" cy="336.9" r="0.8" fill="#60c870"/><circle cx="212.1" cy="357.7" r="0.6" fill="#3a9a60"/><circle cx="214.8" cy="350.5" r="0.7" fill="#3a9a60"/><circle cx="207.5" cy="332.0" r="0.7" fill="#3a9a60"/><circle cx="198.4" cy="345.2" r="0.6" fill="#3a9a60"/><circle cx="195.7" cy="364.4" r="1.0" fill="#3a9a60"/><circle cx="191.7" cy="358.3" r="0.9" fill="#48b068"/><circle cx="204.9" cy="341.2" r="0.9" fill="#3a9a60"/><circle cx="190.0" cy="362.7" r="0.7" fill="#3a9a60"/></g>
<path d="M165.0,328.0 L178.0,328.0 L180.0,334.0 L170.0,338.0 L165.0,340.0 Z" fill="#4848c0" filter="url(#f3)"/>
<path d="M166,344 Q170,336 180,333 Q184,338 178,344 Q172,350 166,350 Z" stroke="#04041a" stroke-width="1" fill="#04041a" filter="url(#f3)"/>
<path d="M218,330 Q224,326 229,328 L229,336 Q224,332 218,334 Z" stroke="#04041a" stroke-width="1" fill="#04041a" filter="url(#f3)"/>
<circle cx="217.5" cy="349" r="0.9" fill="#fff"/>
</g>
<g clip-path="url(#c23)">
<rect x="230.2" y="282.1" width="42.80000000000001" height="42.5" fill="#0e0c30"/>
<g filter="url(#f4)"><circle cx="263.0" cy="318.9" r="0.9" fill="#5452d0"/><circle cx="271.0" cy="315.4" r="1.0" fill="#4e4cc8"/><circle cx="231.7" cy="317.1" r="0.9" fill="#4e4cc8"/><circle cx="271.7" cy="301.3" r="0.9" fill="#3e3cb4"/><circle cx="240.5" cy="322.2" r="0.6" fill="#5452d0"/><circle cx="246.3" cy="318.6" r="0.8" fill="#3230a0"/><circle cx="257.8" cy="290.6" r="0.8" fill="#5452d0"/><circle cx="268.7" cy="307.6" r="0.9" fill="#3e3cb4"/><circle cx="240.3" cy="307.9" r="0.8" fill="#3230a0"/><circle cx="234.1" cy="305.5" r="1.0" fill="#3e3cb4"/><circle cx="244.7" cy="299.0" r="0.6" fill="#3e3cb4"/><circle cx="244.7" cy="313.1" r="0.6" fill="#4e4cc8"/><circle cx="258.0" cy="293.8" r="0.7" fill="#3e3cb4"/><circle cx="262.2" cy="310.2" r="1.0" fill="#5452d0"/><circle cx="247.6" cy="288.5" r="0.9" fill="#5452d0"/><circle cx="231.3" cy="292.3" r="0.6" fill="#3e3cb4"/><circle cx="232.1" cy="288.6" r="0.6" fill="#3230a0"/><circle cx="241.3" cy="296.6" r="0.7" fill="#3230a0"/><circle cx="237.6" cy="287.4" r="0.8" fill="#3230a0"/><circle cx="242.7" cy="289.7" r="0.6" fill="#3230a0"/><circle cx="256.4" cy="298.3" r="1.0" fill="#3230a0"/><circle cx="271.9" cy="291.8" r="0.7" fill="#3230a0"/><circle cx="271.6" cy="284.8" r="0.6" fill="#3230a0"/><circle cx="234.6" cy="303.1" r="0.9" fill="#5452d0"/><circle cx="272.0" cy="321.1" r="0.7" fill="#5452d0"/><circle cx="247.0" cy="296.4" r="0.7" fill="#4e4cc8"/><circle cx="239.2" cy="282.4" r="1.0" fill="#5452d0"/><circle cx="271.6" cy="321.4" r="1.0" fill="#3e3cb4"/><circle cx="258.7" cy="323.9" r="0.8" fill="#3230a0"/><circle cx="249.7" cy="296.0" r="0.6" fill="#3e3cb4"/><circle cx="266.3" cy="285.8" r="0.7" fill="#5452d0"/><circle cx="257.7" cy="309.3" r="0.8" fill="#3230a0"/><circle cx="231.2" cy="295.0" r="0.8" fill="#3230a0"/><circle cx="253.6" cy="297.3" r="0.9" fill="#4e4cc8"/><circle cx="241.1" cy="283.2" r="0.6" fill="#3e3cb4"/><circle cx="251.8" cy="305.3" r="1.0" fill="#4e4cc8"/><circle cx="232.5" cy="290.4" r="0.9" fill="#3e3cb4"/><circle cx="240.0" cy="292.2" r="1.0" fill="#4e4cc8"/><circle cx="233.3" cy="297.0" r="0.8" fill="#3230a0"/><circle cx="232.9" cy="311.9" r="0.9" fill="#5452d0"/><circle cx="269.2" cy="308.5" r="1.0" fill="#4e4cc8"/><circle cx="248.0" cy="316.3" r="0.9" fill="#3230a0"/><circle cx="235.7" cy="309.0" r="0.7" fill="#5452d0"/><circle cx="234.8" cy="316.5" r="1.0" fill="#5452d0"/><circle cx="250.0" cy="286.5" r="0.9" fill="#3e3cb4"/><circle cx="272.1" cy="302.8" r="0.6" fill="#3230a0"/><circle cx="257.3" cy="312.7" r="0.8" fill="#3e3cb4"/><circle cx="259.0" cy="318.9" r="0.6" fill="#4e4cc8"/><circle cx="258.3" cy="304.1" r="0.7" fill="#3e3cb4"/><circle cx="253.2" cy="316.4" r="0.6" fill="#5452d0"/><circle cx="235.0" cy="291.5" r="0.7" fill="#5452d0"/><circle cx="267.1" cy="292.4" r="0.6" fill="#5452d0"/><circle cx="237.6" cy="288.7" r="0.9" fill="#5452d0"/><circle cx="230.4" cy="293.7" r="0.7" fill="#5452d0"/><circle cx="230.3" cy="309.2" r="1.0" fill="#3e3cb4"/><circle cx="253.3" cy="324.3" r="0.9" fill="#4e4cc8"/><circle cx="231.7" cy="316.4" r="0.7" fill="#5452d0"/><circle cx="249.7" cy="295.3" r="0.9" fill="#3e3cb4"/><circle cx="232.7" cy="301.4" r="0.6" fill="#4e4cc8"/><circle cx="247.7" cy="297.1" r="0.8" fill="#4e4cc8"/><circle cx="268.9" cy="311.6" r="0.6" fill="#3e3cb4"/><circle cx="245.0" cy="314.7" r="0.9" fill="#4e4cc8"/><circle cx="252.1" cy="297.7" r="0.9" fill="#3e3cb4"/><circle cx="246.4" cy="322.6" r="0.7" fill="#3e3cb4"/><circle cx="260.6" cy="284.0" r="0.7" fill="#3230a0"/><circle cx="235.2" cy="284.8" r="1.0" fill="#3e3cb4"/><circle cx="244.6" cy="291.7" r="0.9" fill="#4e4cc8"/><circle cx="230.7" cy="290.0" r="0.6" fill="#5452d0"/><circle cx="249.4" cy="289.7" r="0.7" fill="#3230a0"/><circle cx="245.9" cy="293.2" r="0.6" fill="#4e4cc8"/><circle cx="234.4" cy="290.1" r="0.8" fill="#3e3cb4"/><circle cx="255.0" cy="303.6" r="1.0" fill="#4e4cc8"/><circle cx="265.3" cy="301.8" r="0.6" fill="#3e3cb4"/><circle cx="233.6" cy="320.8" r="0.7" fill="#5452d0"/><circle cx="234.2" cy="309.4" r="0.6" fill="#5452d0"/><circle cx="232.6" cy="305.1" r="0.9" fill="#3230a0"/><circle cx="268.2" cy="294.5" r="0.7" fill="#3230a0"/><circle cx="258.4" cy="312.4" r="0.8" fill="#4e4cc8"/><circle cx="250.8" cy="293.6" r="1.0" fill="#3e3cb4"/><circle cx="241.3" cy="322.9" r="0.7" fill="#4e4cc8"/><circle cx="259.7" cy="297.9" r="0.8" fill="#3e3cb4"/><circle cx="268.5" cy="301.8" r="0.6" fill="#3e3cb4"/><circle cx="237.0" cy="288.1" r="0.8" fill="#4e4cc8"/><circle cx="234.3" cy="289.5" r="0.6" fill="#4e4cc8"/><circle cx="234.8" cy="297.0" r="0.6" fill="#4e4cc8"/><circle cx="267.3" cy="306.5" r="0.7" fill="#5452d0"/><circle cx="231.2" cy="306.3" r="0.6" fill="#4e4cc8"/><circle cx="255.7" cy="306.2" r="1.0" fill="#5452d0"/><circle cx="265.4" cy="319.8" r="1.0" fill="#4e4cc8"/><circle cx="255.6" cy="322.5" r="0.9" fill="#3e3cb4"/><circle cx="250.7" cy="286.4" r="1.0" fill="#5452d0"/><circle cx="245.6" cy="313.9" r="0.8" fill="#4e4cc8"/><circle cx="238.4" cy="301.6" r="0.6" fill="#3e3cb4"/><circle cx="232.6" cy="296.0" r="0.7" fill="#4e4cc8"/><circle cx="264.0" cy="288.9" r="0.9" fill="#4e4cc8"/><circle cx="269.4" cy="297.5" r="0.9" fill="#5452d0"/><circle cx="239.4" cy="313.5" r="0.8" fill="#3e3cb4"/><circle cx="242.2" cy="313.4" r="0.9" fill="#3230a0"/><circle cx="252.2" cy="323.0" r="0.7" fill="#3e3cb4"/><circle cx="246.7" cy="313.3" r="0.9" fill="#5452d0"/><circle cx="259.2" cy="286.0" r="0.6" fill="#4e4cc8"/><circle cx="245.6" cy="285.0" r="0.7" fill="#5452d0"/><circle cx="231.8" cy="309.6" r="0.8" fill="#3e3cb4"/><circle cx="253.4" cy="310.2" r="0.7" fill="#5452d0"/><circle cx="270.1" cy="307.6" r="0.9" fill="#4e4cc8"/><circle cx="235.4" cy="291.2" r="1.0" fill="#4e4cc8"/><circle cx="244.4" cy="324.4" r="0.9" fill="#3230a0"/><circle cx="236.7" cy="295.9" r="0.8" fill="#5452d0"/><circle cx="250.4" cy="322.4" r="1.0" fill="#3230a0"/><circle cx="246.0" cy="299.9" r="1.0" fill="#5452d0"/><circle cx="270.3" cy="304.1" r="0.8" fill="#4e4cc8"/><circle cx="242.4" cy="309.9" r="1.0" fill="#3e3cb4"/><circle cx="257.5" cy="294.2" r="0.9" fill="#3230a0"/><circle cx="262.6" cy="304.0" r="1.0" fill="#4e4cc8"/><circle cx="268.6" cy="289.1" r="0.7" fill="#4e4cc8"/><circle cx="239.7" cy="285.3" r="0.8" fill="#5452d0"/><circle cx="264.9" cy="307.3" r="0.7" fill="#3e3cb4"/><circle cx="234.9" cy="304.1" r="0.9" fill="#3e3cb4"/><circle cx="268.4" cy="288.3" r="1.0" fill="#3e3cb4"/><circle cx="236.0" cy="286.5" r="0.8" fill="#3e3cb4"/><circle cx="236.4" cy="305.3" r="0.6" fill="#3230a0"/><circle cx="269.3" cy="290.0" r="0.7" fill="#3230a0"/><circle cx="237.3" cy="284.2" r="0.8" fill="#3230a0"/><circle cx="237.7" cy="282.3" r="0.8" fill="#5452d0"/><circle cx="268.8" cy="311.9" r="0.7" fill="#5452d0"/><circle cx="263.3" cy="323.7" r="0.7" fill="#5452d0"/><circle cx="238.2" cy="287.5" r="0.6" fill="#4e4cc8"/><circle cx="269.4" cy="286.7" r="1.0" fill="#3230a0"/><circle cx="266.8" cy="288.5" r="0.7" fill="#3230a0"/><circle cx="243.5" cy="292.2" r="0.8" fill="#3230a0"/><circle cx="268.6" cy="291.8" r="0.8" fill="#3e3cb4"/><circle cx="264.5" cy="301.6" r="1.0" fill="#4e4cc8"/><circle cx="246.6" cy="304.1" r="0.6" fill="#3e3cb4"/><circle cx="271.0" cy="296.8" r="0.8" fill="#3230a0"/><circle cx="253.9" cy="290.5" r="0.9" fill="#5452d0"/><circle cx="270.9" cy="322.3" r="1.0" fill="#3230a0"/><circle cx="242.1" cy="307.4" r="0.9" fill="#4e4cc8"/><circle cx="260.4" cy="298.0" r="0.9" fill="#4e4cc8"/><circle cx="239.5" cy="311.0" r="0.6" fill="#3230a0"/><circle cx="239.7" cy="302.9" r="1.0" fill="#3e3cb4"/><circle cx="243.0" cy="305.7" r="0.6" fill="#3230a0"/><circle cx="230.4" cy="318.4" r="0.8" fill="#3230a0"/><circle cx="236.0" cy="289.3" r="0.7" fill="#5452d0"/><circle cx="234.2" cy="321.9" r="0.9" fill="#3230a0"/><circle cx="251.2" cy="322.3" r="0.8" fill="#3e3cb4"/><circle cx="242.3" cy="287.7" r="0.9" fill="#3e3cb4"/><circle cx="231.9" cy="283.5" r="0.6" fill="#4e4cc8"/><circle cx="251.4" cy="283.3" r="0.7" fill="#5452d0"/><circle cx="264.1" cy="305.0" r="0.9" fill="#3e3cb4"/><circle cx="251.1" cy="319.7" r="0.9" fill="#4e4cc8"/><circle cx="272.7" cy="288.1" r="0.8" fill="#3e3cb4"/><circle cx="235.4" cy="291.2" r="0.8" fill="#4e4cc8"/><circle cx="267.9" cy="301.7" r="0.9" fill="#3230a0"/><circle cx="233.7" cy="298.8" r="0.7" fill="#5452d0"/><circle cx="251.6" cy="292.1" r="0.9" fill="#3230a0"/><circle cx="259.6" cy="306.7" r="0.6" fill="#3e3cb4"/><circle cx="259.2" cy="318.1" r="1.0" fill="#4e4cc8"/><circle cx="248.0" cy="305.6" r="0.6" fill="#5452d0"/><circle cx="255.8" cy="293.5" r="0.9" fill="#3230a0"/><circle cx="235.1" cy="302.1" r="0.7" fill="#3e3cb4"/><circle cx="240.4" cy="307.1" r="1.0" fill="#5452d0"/><circle cx="249.9" cy="321.5" r="0.9" fill="#3230a0"/><circle cx="259.0" cy="284.2" r="0.6" fill="#3230a0"/><circle cx="265.6" cy="308.0" r="0.9" fill="#3e3cb4"/><circle cx="269.7" cy="283.0" r="0.7" fill="#3e3cb4"/><circle cx="262.1" cy="314.8" r="0.7" fill="#5452d0"/><circle cx="266.5" cy="290.9" r="1.0" fill="#3230a0"/><circle cx="233.7" cy="315.9" r="1.0" fill="#5452d0"/><circle cx="236.0" cy="300.0" r="0.6" fill="#3e3cb4"/><circle cx="259.1" cy="302.6" r="0.9" fill="#3e3cb4"/><circle cx="259.9" cy="295.4" r="1.0" fill="#5452d0"/><circle cx="249.2" cy="283.5" r="0.9" fill="#3e3cb4"/><circle cx="262.2" cy="294.2" r="1.0" fill="#3230a0"/><circle cx="252.6" cy="290.7" r="1.0" fill="#3e3cb4"/><circle cx="235.6" cy="284.5" r="0.9" fill="#3e3cb4"/><circle cx="239.0" cy="297.0" r="0.7" fill="#3e3cb4"/><circle cx="237.3" cy="292.4" r="0.7" fill="#3e3cb4"/><circle cx="261.5" cy="284.2" r="0.8" fill="#5452d0"/><circle cx="234.1" cy="319.3" r="0.7" fill="#3230a0"/><circle cx="269.4" cy="293.8" r="0.9" fill="#5452d0"/><circle cx="266.7" cy="285.5" r="0.8" fill="#5452d0"/><circle cx="235.5" cy="309.9" r="0.8" fill="#4e4cc8"/><circle cx="245.3" cy="303.4" r="0.9" fill="#3230a0"/><circle cx="270.5" cy="298.2" r="0.8" fill="#3e3cb4"/><circle cx="238.2" cy="320.5" r="0.8" fill="#5452d0"/><circle cx="269.7" cy="315.3" r="1.0" fill="#3230a0"/><circle cx="232.7" cy="290.0" r="0.7" fill="#3e3cb4"/><circle cx="267.6" cy="321.6" r="0.9" fill="#4e4cc8"/><circle cx="271.7" cy="297.3" r="0.7" fill="#3e3cb4"/><circle cx="232.2" cy="313.2" r="0.6" fill="#4e4cc8"/><circle cx="241.7" cy="312.2" r="0.6" fill="#3230a0"/><circle cx="235.0" cy="298.1" r="0.9" fill="#5452d0"/><circle cx="262.6" cy="303.9" r="1.0" fill="#4e4cc8"/><circle cx="237.7" cy="318.1" r="0.7" fill="#4e4cc8"/><circle cx="234.4" cy="295.1" r="0.8" fill="#3e3cb4"/><circle cx="272.9" cy="295.7" r="0.9" fill="#3e3cb4"/><circle cx="243.1" cy="305.0" r="0.7" fill="#4e4cc8"/><circle cx="251.1" cy="321.6" r="0.9" fill="#3230a0"/><circle cx="253.6" cy="320.3" r="0.9" fill="#3e3cb4"/><circle cx="238.5" cy="284.1" r="0.9" fill="#3e3cb4"/><circle cx="235.3" cy="304.1" r="0.9" fill="#5452d0"/><circle cx="238.0" cy="320.6" r="0.8" fill="#3230a0"/><circle cx="247.7" cy="298.0" r="0.7" fill="#4e4cc8"/><circle cx="252.3" cy="304.1" r="1.0" fill="#3e3cb4"/><circle cx="242.2" cy="318.9" r="0.6" fill="#4e4cc8"/><circle cx="240.9" cy="306.7" r="0.6" fill="#3230a0"/><circle cx="230.5" cy="307.9" r="0.7" fill="#4e4cc8"/><circle cx="264.8" cy="321.9" r="0.9" fill="#4e4cc8"/><circle cx="249.7" cy="297.2" r="1.0" fill="#3230a0"/><circle cx="248.3" cy="283.7" r="0.6" fill="#3e3cb4"/><circle cx="230.2" cy="303.6" r="0.6" fill="#4e4cc8"/><circle cx="250.6" cy="318.0" r="0.8" fill="#4e4cc8"/><circle cx="265.9" cy="303.4" r="0.8" fill="#4e4cc8"/><circle cx="254.6" cy="302.4" r="0.6" fill="#5452d0"/><circle cx="244.2" cy="291.3" r="0.8" fill="#4e4cc8"/><circle cx="272.3" cy="289.5" r="0.8" fill="#3e3cb4"/><circle cx="247.9" cy="286.2" r="0.6" fill="#3e3cb4"/><circle cx="233.2" cy="317.5" r="0.9" fill="#3e3cb4"/><circle cx="259.9" cy="324.2" r="1.0" fill="#4e4cc8"/><circle cx="237.4" cy="284.7" r="0.7" fill="#3230a0"/><circle cx="255.4" cy="317.3" r="1.0" fill="#5452d0"/><circle cx="260.9" cy="312.6" r="0.8" fill="#3230a0"/><circle cx="248.1" cy="316.9" r="0.8" fill="#5452d0"/><circle cx="258.9" cy="305.0" r="0.9" fill="#3e3cb4"/><circle cx="233.3" cy="292.2" r="0.7" fill="#4e4cc8"/><circle cx="230.5" cy="292.5" r="0.9" fill="#4e4cc8"/><circle cx="244.5" cy="306.7" r="0.7" fill="#4e4cc8"/><circle cx="259.3" cy="323.8" r="1.0" fill="#3230a0"/><circle cx="244.1" cy="308.0" r="0.7" fill="#3230a0"/><circle cx="270.6" cy="291.5" r="0.8" fill="#5452d0"/><circle cx="243.7" cy="301.7" r="0.9" fill="#3e3cb4"/><circle cx="246.6" cy="309.0" r="0.6" fill="#3e3cb4"/><circle cx="243.9" cy="291.7" r="0.8" fill="#5452d0"/><circle cx="249.8" cy="293.1" r="0.7" fill="#3e3cb4"/><circle cx="237.2" cy="312.5" r="0.6" fill="#3230a0"/><circle cx="238.4" cy="286.0" r="0.9" fill="#3230a0"/><circle cx="259.0" cy="304.5" r="0.8" fill="#3e3cb4"/><circle cx="262.7" cy="319.9" r="0.6" fill="#5452d0"/><circle cx="271.6" cy="323.0" r="0.7" fill="#4e4cc8"/><circle cx="269.4" cy="286.7" r="0.8" fill="#5452d0"/><circle cx="239.4" cy="320.0" r="0.8" fill="#3230a0"/><circle cx="245.5" cy="285.4" r="0.6" fill="#3230a0"/><circle cx="238.6" cy="303.2" r="0.8" fill="#3e3cb4"/><circle cx="230.4" cy="320.9" r="0.9" fill="#3230a0"/><circle cx="270.2" cy="291.6" r="0.6" fill="#3230a0"/><circle cx="269.1" cy="316.2" r="0.6" fill="#3e3cb4"/><circle cx="261.0" cy="300.2" r="1.0" fill="#3230a0"/><circle cx="240.1" cy="308.9" r="0.6" fill="#3230a0"/><circle cx="247.7" cy="298.7" r="0.7" fill="#5452d0"/><circle cx="269.5" cy="301.0" r="0.7" fill="#3e3cb4"/><circle cx="234.9" cy="282.4" r="0.6" fill="#4e4cc8"/><circle cx="231.4" cy="314.7" r="1.0" fill="#3e3cb4"/><circle cx="243.7" cy="289.1" r="0.6" fill="#4e4cc8"/><circle cx="264.0" cy="308.8" r="0.6" fill="#4e4cc8"/><circle cx="231.8" cy="305.5" r="0.6" fill="#3e3cb4"/><circle cx="261.8" cy="308.1" r="0.9" fill="#3230a0"/><circle cx="268.7" cy="295.2" r="0.9" fill="#4e4cc8"/><circle cx="236.9" cy="284.3" r="0.8" fill="#5452d0"/><circle cx="267.9" cy="285.9" r="0.9" fill="#4e4cc8"/><circle cx="236.7" cy="313.9" r="0.9" fill="#3230a0"/><circle cx="256.6" cy="313.0" r="1.0" fill="#4e4cc8"/><circle cx="248.8" cy="284.6" r="0.9" fill="#4e4cc8"/><circle cx="247.3" cy="310.1" r="1.0" fill="#4e4cc8"/><circle cx="261.2" cy="322.3" r="0.7" fill="#3230a0"/><circle cx="265.3" cy="295.1" r="0.6" fill="#4e4cc8"/><circle cx="259.0" cy="282.9" r="0.9" fill="#4e4cc8"/><circle cx="258.7" cy="298.6" r="0.6" fill="#5452d0"/><circle cx="262.1" cy="305.3" r="0.8" fill="#4e4cc8"/><circle cx="245.6" cy="302.6" r="1.0" fill="#4e4cc8"/><circle cx="238.2" cy="299.4" r="0.8" fill="#4e4cc8"/><circle cx="270.7" cy="287.5" r="1.0" fill="#3e3cb4"/><circle cx="264.4" cy="293.0" r="0.8" fill="#5452d0"/><circle cx="259.4" cy="323.4" r="0.7" fill="#4e4cc8"/><circle cx="247.7" cy="324.1" r="0.6" fill="#4e4cc8"/><circle cx="252.6" cy="284.0" r="0.6" fill="#3230a0"/><circle cx="265.1" cy="283.5" r="0.6" fill="#3e3cb4"/><circle cx="243.7" cy="297.7" r="0.8" fill="#4e4cc8"/><circle cx="232.9" cy="298.5" r="0.8" fill="#4e4cc8"/><circle cx="245.0" cy="307.5" r="0.8" fill="#3e3cb4"/><circle cx="241.3" cy="322.4" r="0.7" fill="#5452d0"/><circle cx="245.8" cy="287.0" r="1.0" fill="#3230a0"/><circle cx="261.8" cy="284.0" r="0.9" fill="#5452d0"/><circle cx="265.0" cy="322.2" r="0.8" fill="#5452d0"/><circle cx="254.2" cy="322.1" r="0.7" fill="#5452d0"/><circle cx="250.6" cy="316.6" r="0.6" fill="#5452d0"/><circle cx="269.1" cy="283.4" r="0.8" fill="#3230a0"/><circle cx="258.1" cy="312.8" r="1.0" fill="#4e4cc8"/><circle cx="256.5" cy="290.3" r="0.8" fill="#3230a0"/><circle cx="237.6" cy="291.3" r="0.8" fill="#3e3cb4"/><circle cx="259.1" cy="319.9" r="1.0" fill="#3e3cb4"/><circle cx="260.4" cy="308.2" r="0.7" fill="#5452d0"/><circle cx="236.0" cy="285.9" r="0.6" fill="#4e4cc8"/><circle cx="232.5" cy="283.7" r="0.8" fill="#3e3cb4"/><circle cx="267.4" cy="291.5" r="0.8" fill="#5452d0"/><circle cx="253.9" cy="286.5" r="0.6" fill="#3e3cb4"/><circle cx="259.4" cy="324.4" r="0.6" fill="#5452d0"/><circle cx="235.8" cy="298.3" r="0.8" fill="#4e4cc8"/><circle cx="232.3" cy="318.5" r="0.7" fill="#3e3cb4"/><circle cx="267.3" cy="312.5" r="0.7" fill="#4e4cc8"/><circle cx="260.1" cy="297.2" r="0.8" fill="#3e3cb4"/></g>
<g filter="url(#f4)"><circle cx="244.3" cy="294.1" r="1.1" fill="#70f060"/><circle cx="255.0" cy="309.6" r="0.7" fill="#48c840"/><circle cx="231.0" cy="288.1" r="1.2" fill="#3aa838"/><circle cx="230.7" cy="293.1" r="1.0" fill="#58e048"/><circle cx="262.9" cy="289.9" r="1.1" fill="#70f060"/><circle cx="260.4" cy="286.5" r="1.3" fill="#48c840"/><circle cx="252.1" cy="295.7" r="0.8" fill="#70f060"/><circle cx="257.9" cy="282.2" r="0.9" fill="#3aa838"/><circle cx="235.9" cy="308.6" r="1.3" fill="#48c840"/><circle cx="272.7" cy="284.3" r="1.2" fill="#58e048"/><circle cx="241.3" cy="310.8" r="1.1" fill="#70f060"/><circle cx="267.6" cy="293.2" r="1.4" fill="#48c840"/><circle cx="257.8" cy="320.9" r="1.0" fill="#48c840"/><circle cx="233.6" cy="294.6" r="1.1" fill="#3aa838"/><circle cx="240.4" cy="298.1" r="0.7" fill="#70f060"/><circle cx="271.4" cy="294.1" r="0.9" fill="#3aa838"/><circle cx="244.1" cy="290.0" r="0.8" fill="#58e048"/><circle cx="252.0" cy="289.4" r="0.7" fill="#58e048"/><circle cx="238.8" cy="302.8" r="1.1" fill="#70f060"/><circle cx="265.2" cy="289.6" r="1.2" fill="#70f060"/><circle cx="255.1" cy="283.8" r="1.0" fill="#70f060"/><circle cx="258.5" cy="302.3" r="1.3" fill="#70f060"/><circle cx="257.2" cy="317.3" r="0.9" fill="#48c840"/><circle cx="235.8" cy="303.9" r="0.7" fill="#70f060"/><circle cx="258.0" cy="314.1" r="0.8" fill="#70f060"/><circle cx="259.9" cy="283.7" r="1.1" fill="#3aa838"/><circle cx="245.3" cy="299.3" r="1.1" fill="#58e048"/><circle cx="260.4" cy="307.5" r="1.1" fill="#3aa838"/><circle cx="266.4" cy="282.1" r="1.1" fill="#3aa838"/><circle cx="266.0" cy="318.1" r="1.1" fill="#70f060"/><circle cx="249.0" cy="284.0" r="0.8" fill="#70f060"/><circle cx="256.9" cy="294.0" r="1.4" fill="#58e048"/><circle cx="271.7" cy="283.4" r="0.9" fill="#3aa838"/><circle cx="253.0" cy="282.3" r="1.3" fill="#58e048"/><circle cx="269.0" cy="293.2" r="0.9" fill="#3aa838"/><circle cx="245.1" cy="300.9" r="1.1" fill="#70f060"/><circle cx="256.1" cy="302.3" r="1.2" fill="#70f060"/><circle cx="245.2" cy="308.6" r="0.6" fill="#70f060"/><circle cx="241.1" cy="308.0" r="1.0" fill="#48c840"/><circle cx="272.6" cy="310.8" r="1.1" fill="#58e048"/></g>
<path d="M260,300 Q264,296 268,292" fill="none" stroke="#60d850" stroke-width="1.8" stroke-linecap="round" filter="url(#f3)" opacity="1"/>
<path d="M236,300 Q240,304 244,306" fill="none" stroke="#50c848" stroke-width="1.4" stroke-linecap="round" filter="url(#f3)" opacity="1"/>
<path d="M246,285 Q250,288 252,292" fill="none" stroke="#50c848" stroke-width="1.2" stroke-linecap="round" filter="url(#f3)" opacity="1"/>
</g>
<g clip-path="url(#c24)">
<rect x="230.2" y="326.2" width="42.80000000000001" height="43.0" fill="#0e0c30"/>
<g filter="url(#f4)"><circle cx="248.5" cy="354.7" r="0.7" fill="#5452d0"/><circle cx="243.7" cy="332.3" r="1.0" fill="#5452d0"/><circle cx="235.2" cy="365.2" r="0.9" fill="#3230a0"/><circle cx="242.1" cy="359.1" r="0.7" fill="#3230a0"/><circle cx="268.1" cy="349.9" r="0.8" fill="#5452d0"/><circle cx="265.0" cy="344.8" r="0.7" fill="#5452d0"/><circle cx="240.0" cy="357.1" r="1.0" fill="#5452d0"/><circle cx="257.1" cy="367.2" r="0.6" fill="#4e4cc8"/><circle cx="261.8" cy="347.8" r="1.0" fill="#3e3cb4"/><circle cx="240.2" cy="345.1" r="0.7" fill="#4e4cc8"/><circle cx="231.0" cy="326.3" r="0.7" fill="#4e4cc8"/><circle cx="232.8" cy="363.0" r="0.9" fill="#4e4cc8"/><circle cx="242.4" cy="353.7" r="0.6" fill="#4e4cc8"/><circle cx="265.4" cy="328.9" r="0.8" fill="#3e3cb4"/><circle cx="244.5" cy="337.6" r="0.8" fill="#5452d0"/><circle cx="232.9" cy="343.2" r="0.7" fill="#5452d0"/><circle cx="249.5" cy="332.4" r="0.8" fill="#3e3cb4"/><circle cx="262.9" cy="335.8" r="1.0" fill="#3e3cb4"/><circle cx="245.6" cy="327.5" r="0.6" fill="#5452d0"/><circle cx="236.0" cy="353.7" r="1.0" fill="#4e4cc8"/><circle cx="263.1" cy="342.8" r="0.6" fill="#5452d0"/><circle cx="257.8" cy="364.5" r="0.8" fill="#4e4cc8"/><circle cx="239.7" cy="352.3" r="0.6" fill="#4e4cc8"/><circle cx="258.4" cy="364.8" r="0.6" fill="#3e3cb4"/><circle cx="259.8" cy="327.8" r="0.8" fill="#5452d0"/><circle cx="256.9" cy="363.6" r="0.9" fill="#4e4cc8"/><circle cx="235.9" cy="336.0" r="1.0" fill="#5452d0"/><circle cx="265.0" cy="346.8" r="0.8" fill="#5452d0"/><circle cx="272.5" cy="350.3" r="0.9" fill="#3230a0"/><circle cx="270.5" cy="357.2" r="0.6" fill="#5452d0"/><circle cx="243.8" cy="366.4" r="0.6" fill="#3230a0"/><circle cx="258.4" cy="362.2" r="0.8" fill="#5452d0"/><circle cx="248.6" cy="362.0" r="0.9" fill="#5452d0"/><circle cx="267.9" cy="337.1" r="0.8" fill="#3230a0"/><circle cx="263.7" cy="340.6" r="0.8" fill="#4e4cc8"/><circle cx="238.2" cy="360.8" r="0.9" fill="#5452d0"/><circle cx="255.6" cy="363.4" r="0.7" fill="#5452d0"/><circle cx="271.1" cy="333.5" r="0.9" fill="#3230a0"/><circle cx="241.9" cy="356.9" r="0.9" fill="#5452d0"/><circle cx="261.9" cy="336.8" r="1.0" fill="#3230a0"/><circle cx="244.6" cy="364.5" r="0.6" fill="#3230a0"/><circle cx="249.8" cy="357.2" r="1.0" fill="#3e3cb4"/><circle cx="262.7" cy="348.4" r="0.9" fill="#5452d0"/><circle cx="264.0" cy="347.3" r="0.7" fill="#3e3cb4"/><circle cx="238.0" cy="368.7" r="1.0" fill="#5452d0"/><circle cx="250.7" cy="343.5" r="0.8" fill="#4e4cc8"/><circle cx="248.7" cy="337.0" r="0.7" fill="#4e4cc8"/><circle cx="239.7" cy="347.5" r="0.6" fill="#4e4cc8"/><circle cx="271.2" cy="332.4" r="0.8" fill="#5452d0"/><circle cx="237.0" cy="329.3" r="0.6" fill="#3e3cb4"/><circle cx="234.0" cy="364.2" r="0.7" fill="#5452d0"/><circle cx="234.9" cy="356.4" r="0.6" fill="#5452d0"/><circle cx="266.2" cy="362.4" r="0.8" fill="#5452d0"/><circle cx="271.9" cy="356.6" r="1.0" fill="#5452d0"/><circle cx="251.1" cy="336.4" r="1.0" fill="#5452d0"/><circle cx="235.5" cy="361.8" r="0.8" fill="#5452d0"/><circle cx="233.2" cy="342.7" r="0.9" fill="#5452d0"/><circle cx="260.5" cy="345.3" r="0.6" fill="#3230a0"/><circle cx="243.8" cy="340.2" r="0.7" fill="#5452d0"/><circle cx="232.5" cy="329.3" r="0.8" fill="#3230a0"/><circle cx="269.6" cy="333.4" r="0.8" fill="#4e4cc8"/><circle cx="230.3" cy="347.1" r="0.7" fill="#3e3cb4"/><circle cx="264.3" cy="331.3" r="0.8" fill="#4e4cc8"/><circle cx="243.9" cy="345.0" r="0.8" fill="#5452d0"/><circle cx="245.1" cy="346.1" r="0.9" fill="#5452d0"/><circle cx="240.9" cy="336.6" r="0.7" fill="#4e4cc8"/><circle cx="259.6" cy="339.4" r="1.0" fill="#5452d0"/><circle cx="268.2" cy="337.8" r="0.9" fill="#5452d0"/><circle cx="249.0" cy="338.7" r="0.7" fill="#4e4cc8"/><circle cx="230.3" cy="341.4" r="1.0" fill="#5452d0"/><circle cx="236.1" cy="328.7" r="0.8" fill="#3e3cb4"/><circle cx="240.3" cy="361.3" r="1.0" fill="#3230a0"/><circle cx="266.9" cy="336.2" r="1.0" fill="#4e4cc8"/><circle cx="232.2" cy="364.6" r="1.0" fill="#5452d0"/><circle cx="235.2" cy="341.0" r="0.9" fill="#4e4cc8"/><circle cx="267.5" cy="344.9" r="0.8" fill="#3230a0"/><circle cx="272.1" cy="357.2" r="0.7" fill="#4e4cc8"/><circle cx="273.0" cy="353.7" r="1.0" fill="#5452d0"/><circle cx="231.0" cy="356.2" r="0.8" fill="#3230a0"/><circle cx="247.2" cy="365.1" r="1.0" fill="#4e4cc8"/><circle cx="267.0" cy="368.8" r="1.0" fill="#4e4cc8"/><circle cx="231.8" cy="334.6" r="0.7" fill="#3230a0"/><circle cx="236.0" cy="352.1" r="0.6" fill="#3230a0"/><circle cx="241.3" cy="344.2" r="0.9" fill="#5452d0"/><circle cx="234.2" cy="368.4" r="0.6" fill="#3e3cb4"/><circle cx="233.4" cy="343.2" r="0.7" fill="#4e4cc8"/><circle cx="252.1" cy="345.4" r="1.0" fill="#4e4cc8"/><circle cx="231.7" cy="361.1" r="0.6" fill="#5452d0"/><circle cx="258.1" cy="333.6" r="0.8" fill="#3230a0"/><circle cx="258.0" cy="326.4" r="0.8" fill="#4e4cc8"/><circle cx="254.3" cy="329.7" r="0.7" fill="#4e4cc8"/><circle cx="257.6" cy="336.4" r="0.7" fill="#3e3cb4"/><circle cx="240.6" cy="339.3" r="0.6" fill="#5452d0"/><circle cx="242.7" cy="367.1" r="0.8" fill="#3230a0"/><circle cx="260.2" cy="339.4" r="0.6" fill="#3230a0"/><circle cx="272.1" cy="367.0" r="0.8" fill="#4e4cc8"/><circle cx="232.2" cy="365.3" r="1.0" fill="#3e3cb4"/><circle cx="245.1" cy="330.5" r="0.9" fill="#3230a0"/><circle cx="272.1" cy="350.5" r="0.7" fill="#4e4cc8"/><circle cx="246.2" cy="345.4" r="0.7" fill="#3230a0"/><circle cx="271.8" cy="343.5" r="0.7" fill="#4e4cc8"/><circle cx="242.4" cy="363.3" r="0.9" fill="#3230a0"/><circle cx="248.1" cy="330.7" r="0.7" fill="#3e3cb4"/><circle cx="255.6" cy="367.7" r="0.6" fill="#3e3cb4"/><circle cx="270.5" cy="351.1" r="0.7" fill="#3230a0"/><circle cx="271.9" cy="355.3" r="0.9" fill="#3e3cb4"/><circle cx="256.2" cy="363.3" r="0.6" fill="#3230a0"/><circle cx="250.9" cy="361.9" r="0.9" fill="#3230a0"/><circle cx="263.3" cy="332.6" r="0.7" fill="#3230a0"/><circle cx="231.6" cy="347.7" r="1.0" fill="#3230a0"/><circle cx="232.8" cy="347.0" r="1.0" fill="#3230a0"/><circle cx="247.4" cy="358.6" r="0.9" fill="#3230a0"/><circle cx="252.8" cy="329.4" r="0.8" fill="#3e3cb4"/><circle cx="240.1" cy="362.2" r="0.6" fill="#3230a0"/><circle cx="232.5" cy="361.2" r="1.0" fill="#4e4cc8"/><circle cx="243.3" cy="365.1" r="1.0" fill="#3230a0"/><circle cx="249.5" cy="348.8" r="0.6" fill="#3e3cb4"/><circle cx="273.0" cy="340.1" r="0.8" fill="#5452d0"/><circle cx="248.5" cy="335.3" r="0.7" fill="#3230a0"/><circle cx="245.9" cy="349.3" r="1.0" fill="#4e4cc8"/><circle cx="248.9" cy="336.1" r="0.8" fill="#3e3cb4"/><circle cx="241.7" cy="352.6" r="0.8" fill="#3230a0"/><circle cx="247.4" cy="351.7" r="0.6" fill="#3e3cb4"/><circle cx="262.6" cy="365.4" r="0.6" fill="#3e3cb4"/><circle cx="230.8" cy="341.6" r="0.8" fill="#4e4cc8"/><circle cx="256.1" cy="361.3" r="0.9" fill="#4e4cc8"/><circle cx="242.8" cy="363.5" r="0.7" fill="#4e4cc8"/><circle cx="250.2" cy="368.9" r="0.8" fill="#3230a0"/><circle cx="243.5" cy="350.3" r="0.7" fill="#3230a0"/><circle cx="232.4" cy="363.2" r="0.6" fill="#3e3cb4"/><circle cx="241.8" cy="332.5" r="0.8" fill="#3e3cb4"/><circle cx="244.2" cy="354.7" r="0.8" fill="#4e4cc8"/><circle cx="249.5" cy="348.4" r="0.9" fill="#3230a0"/><circle cx="235.9" cy="328.1" r="0.6" fill="#4e4cc8"/><circle cx="254.0" cy="331.3" r="0.6" fill="#5452d0"/><circle cx="267.0" cy="367.2" r="0.9" fill="#3e3cb4"/><circle cx="263.2" cy="362.8" r="0.6" fill="#4e4cc8"/><circle cx="246.9" cy="341.6" r="0.6" fill="#3230a0"/><circle cx="244.7" cy="359.2" r="0.9" fill="#4e4cc8"/><circle cx="268.5" cy="334.2" r="0.9" fill="#4e4cc8"/><circle cx="232.4" cy="348.5" r="0.7" fill="#5452d0"/><circle cx="262.1" cy="327.1" r="0.8" fill="#4e4cc8"/><circle cx="246.9" cy="330.1" r="0.6" fill="#3230a0"/><circle cx="254.8" cy="362.6" r="0.8" fill="#4e4cc8"/><circle cx="257.1" cy="340.8" r="0.7" fill="#5452d0"/><circle cx="262.7" cy="328.5" r="0.6" fill="#4e4cc8"/><circle cx="256.9" cy="348.0" r="0.8" fill="#4e4cc8"/><circle cx="256.4" cy="354.1" r="1.0" fill="#4e4cc8"/><circle cx="273.0" cy="369.1" r="0.8" fill="#3230a0"/><circle cx="270.7" cy="351.4" r="0.6" fill="#5452d0"/><circle cx="266.8" cy="349.3" r="0.9" fill="#3e3cb4"/><circle cx="272.8" cy="352.3" r="0.6" fill="#5452d0"/><circle cx="249.3" cy="349.8" r="0.9" fill="#3e3cb4"/><circle cx="237.8" cy="362.6" r="0.7" fill="#3e3cb4"/><circle cx="266.1" cy="334.0" r="1.0" fill="#3230a0"/><circle cx="235.8" cy="335.9" r="0.8" fill="#4e4cc8"/><circle cx="265.8" cy="355.0" r="0.9" fill="#5452d0"/><circle cx="262.6" cy="343.0" r="1.0" fill="#3230a0"/><circle cx="249.6" cy="350.1" r="0.8" fill="#3e3cb4"/><circle cx="237.3" cy="365.9" r="0.9" fill="#5452d0"/><circle cx="240.5" cy="357.3" r="1.0" fill="#5452d0"/><circle cx="256.6" cy="333.5" r="0.8" fill="#4e4cc8"/><circle cx="243.1" cy="364.4" r="0.7" fill="#4e4cc8"/><circle cx="251.8" cy="360.2" r="0.6" fill="#4e4cc8"/><circle cx="238.9" cy="331.7" r="0.7" fill="#3e3cb4"/><circle cx="256.5" cy="364.1" r="1.0" fill="#4e4cc8"/><circle cx="267.9" cy="343.7" r="0.9" fill="#5452d0"/><circle cx="249.3" cy="340.3" r="0.8" fill="#3230a0"/><circle cx="266.6" cy="368.0" r="1.0" fill="#3230a0"/><circle cx="237.7" cy="353.8" r="0.6" fill="#3230a0"/><circle cx="269.8" cy="337.2" r="1.0" fill="#5452d0"/><circle cx="246.8" cy="348.0" r="0.8" fill="#3e3cb4"/><circle cx="247.2" cy="337.9" r="0.7" fill="#3230a0"/><circle cx="253.8" cy="358.2" r="0.6" fill="#3230a0"/><circle cx="246.4" cy="366.3" r="0.8" fill="#3e3cb4"/><circle cx="262.7" cy="327.8" r="0.6" fill="#5452d0"/><circle cx="262.9" cy="332.5" r="0.8" fill="#3230a0"/><circle cx="252.9" cy="330.4" r="1.0" fill="#4e4cc8"/><circle cx="239.2" cy="327.5" r="0.9" fill="#3230a0"/><circle cx="266.7" cy="343.6" r="0.9" fill="#3e3cb4"/><circle cx="245.3" cy="327.1" r="1.0" fill="#5452d0"/><circle cx="249.9" cy="327.7" r="1.0" fill="#3e3cb4"/><circle cx="250.7" cy="367.3" r="0.9" fill="#5452d0"/><circle cx="239.0" cy="353.3" r="0.7" fill="#3230a0"/><circle cx="244.8" cy="339.9" r="0.9" fill="#5452d0"/><circle cx="248.4" cy="333.2" r="0.9" fill="#4e4cc8"/><circle cx="252.6" cy="335.7" r="0.6" fill="#5452d0"/><circle cx="256.8" cy="352.6" r="0.8" fill="#3230a0"/><circle cx="241.0" cy="363.0" r="1.0" fill="#3e3cb4"/><circle cx="251.0" cy="327.7" r="0.8" fill="#4e4cc8"/><circle cx="247.5" cy="350.7" r="0.7" fill="#3e3cb4"/><circle cx="269.9" cy="344.2" r="0.7" fill="#4e4cc8"/><circle cx="258.4" cy="332.9" r="0.9" fill="#3e3cb4"/><circle cx="260.0" cy="352.1" r="0.8" fill="#3230a0"/><circle cx="262.5" cy="344.1" r="0.9" fill="#5452d0"/><circle cx="254.5" cy="337.1" r="0.6" fill="#3230a0"/><circle cx="265.6" cy="357.7" r="0.7" fill="#4e4cc8"/><circle cx="234.9" cy="338.2" r="0.6" fill="#3230a0"/><circle cx="240.0" cy="344.6" r="0.6" fill="#5452d0"/><circle cx="263.5" cy="345.4" r="0.9" fill="#3e3cb4"/><circle cx="245.2" cy="332.1" r="1.0" fill="#4e4cc8"/><circle cx="262.7" cy="341.0" r="0.9" fill="#5452d0"/><circle cx="266.3" cy="335.4" r="0.9" fill="#5452d0"/><circle cx="254.9" cy="338.7" r="0.6" fill="#3230a0"/><circle cx="245.4" cy="357.1" r="0.7" fill="#3230a0"/><circle cx="245.0" cy="368.5" r="0.7" fill="#5452d0"/><circle cx="250.3" cy="360.7" r="1.0" fill="#5452d0"/><circle cx="238.6" cy="363.4" r="1.0" fill="#3230a0"/><circle cx="238.6" cy="327.6" r="0.8" fill="#3e3cb4"/><circle cx="242.7" cy="361.0" r="1.0" fill="#3e3cb4"/><circle cx="239.5" cy="341.3" r="1.0" fill="#4e4cc8"/><circle cx="271.5" cy="358.1" r="1.0" fill="#3230a0"/><circle cx="248.8" cy="344.1" r="0.9" fill="#5452d0"/><circle cx="267.0" cy="352.4" r="0.6" fill="#5452d0"/><circle cx="248.9" cy="356.9" r="0.8" fill="#3230a0"/><circle cx="263.9" cy="336.1" r="0.9" fill="#3e3cb4"/><circle cx="255.7" cy="329.3" r="1.0" fill="#4e4cc8"/><circle cx="258.5" cy="327.4" r="0.6" fill="#4e4cc8"/><circle cx="245.8" cy="359.8" r="0.8" fill="#3e3cb4"/><circle cx="266.9" cy="363.6" r="0.6" fill="#5452d0"/><circle cx="268.6" cy="354.8" r="0.7" fill="#3230a0"/><circle cx="243.3" cy="360.2" r="0.8" fill="#3230a0"/><circle cx="230.5" cy="344.1" r="0.6" fill="#3e3cb4"/><circle cx="247.9" cy="353.7" r="0.9" fill="#3230a0"/><circle cx="264.5" cy="342.6" r="0.7" fill="#4e4cc8"/><circle cx="265.8" cy="328.3" r="0.9" fill="#3e3cb4"/><circle cx="240.0" cy="334.2" r="0.7" fill="#3230a0"/><circle cx="259.2" cy="360.9" r="0.6" fill="#4e4cc8"/><circle cx="230.6" cy="337.5" r="0.9" fill="#4e4cc8"/><circle cx="254.4" cy="362.9" r="0.8" fill="#3230a0"/><circle cx="230.9" cy="363.9" r="1.0" fill="#4e4cc8"/><circle cx="267.0" cy="355.5" r="0.7" fill="#5452d0"/><circle cx="259.4" cy="328.5" r="1.0" fill="#3e3cb4"/><circle cx="249.1" cy="339.5" r="0.6" fill="#3230a0"/><circle cx="240.0" cy="356.9" r="0.8" fill="#5452d0"/><circle cx="244.6" cy="344.2" r="0.8" fill="#3230a0"/><circle cx="264.3" cy="354.1" r="1.0" fill="#5452d0"/><circle cx="261.2" cy="361.8" r="0.6" fill="#3e3cb4"/><circle cx="257.1" cy="348.3" r="0.8" fill="#3230a0"/><circle cx="260.1" cy="354.9" r="0.8" fill="#3230a0"/><circle cx="261.1" cy="354.5" r="0.6" fill="#3e3cb4"/><circle cx="264.8" cy="326.4" r="0.7" fill="#5452d0"/><circle cx="251.7" cy="361.2" r="0.6" fill="#3e3cb4"/><circle cx="264.3" cy="361.6" r="1.0" fill="#3230a0"/><circle cx="259.0" cy="359.6" r="1.0" fill="#3230a0"/><circle cx="269.9" cy="353.2" r="0.8" fill="#3230a0"/><circle cx="271.4" cy="367.4" r="0.7" fill="#5452d0"/><circle cx="239.4" cy="360.9" r="1.0" fill="#3230a0"/><circle cx="237.4" cy="338.8" r="1.0" fill="#4e4cc8"/><circle cx="249.2" cy="342.6" r="0.8" fill="#4e4cc8"/><circle cx="260.4" cy="356.6" r="0.7" fill="#3e3cb4"/><circle cx="250.6" cy="335.9" r="0.7" fill="#4e4cc8"/><circle cx="260.4" cy="359.9" r="1.0" fill="#3e3cb4"/><circle cx="240.2" cy="355.4" r="0.7" fill="#5452d0"/><circle cx="259.0" cy="360.6" r="0.7" fill="#5452d0"/><circle cx="268.9" cy="369.1" r="0.6" fill="#3230a0"/><circle cx="243.1" cy="345.5" r="0.7" fill="#3230a0"/><circle cx="264.6" cy="342.0" r="0.7" fill="#3e3cb4"/><circle cx="271.0" cy="350.5" r="0.7" fill="#3230a0"/><circle cx="260.3" cy="333.0" r="1.0" fill="#3230a0"/><circle cx="255.8" cy="349.0" r="0.6" fill="#3230a0"/><circle cx="261.9" cy="350.8" r="0.7" fill="#3e3cb4"/><circle cx="271.9" cy="361.8" r="0.9" fill="#3e3cb4"/><circle cx="265.6" cy="327.6" r="1.0" fill="#5452d0"/><circle cx="248.0" cy="337.9" r="0.8" fill="#3230a0"/><circle cx="244.9" cy="333.9" r="0.7" fill="#5452d0"/><circle cx="233.8" cy="358.1" r="0.7" fill="#4e4cc8"/><circle cx="269.7" cy="337.0" r="0.9" fill="#4e4cc8"/><circle cx="269.4" cy="341.6" r="1.0" fill="#3e3cb4"/><circle cx="252.4" cy="327.2" r="0.6" fill="#4e4cc8"/><circle cx="270.5" cy="335.2" r="1.0" fill="#5452d0"/><circle cx="236.6" cy="360.5" r="1.0" fill="#3230a0"/><circle cx="267.6" cy="329.7" r="0.9" fill="#3e3cb4"/><circle cx="266.7" cy="353.8" r="0.7" fill="#3e3cb4"/><circle cx="271.7" cy="343.5" r="1.0" fill="#3230a0"/><circle cx="261.7" cy="339.7" r="0.7" fill="#4e4cc8"/><circle cx="262.1" cy="356.5" r="0.8" fill="#3e3cb4"/><circle cx="238.5" cy="336.6" r="0.8" fill="#3230a0"/><circle cx="270.5" cy="349.3" r="0.7" fill="#3230a0"/><circle cx="260.8" cy="367.5" r="1.0" fill="#5452d0"/><circle cx="269.0" cy="352.5" r="0.6" fill="#4e4cc8"/><circle cx="254.4" cy="367.2" r="1.0" fill="#3230a0"/><circle cx="239.1" cy="340.1" r="0.9" fill="#4e4cc8"/><circle cx="247.9" cy="347.9" r="0.9" fill="#3230a0"/><circle cx="269.0" cy="352.8" r="0.7" fill="#3e3cb4"/><circle cx="245.8" cy="352.0" r="0.6" fill="#3230a0"/><circle cx="257.6" cy="364.4" r="0.6" fill="#4e4cc8"/><circle cx="257.9" cy="326.8" r="0.8" fill="#5452d0"/><circle cx="263.9" cy="367.2" r="0.7" fill="#5452d0"/><circle cx="252.9" cy="349.3" r="1.0" fill="#3230a0"/><circle cx="254.0" cy="330.0" r="0.7" fill="#5452d0"/><circle cx="237.3" cy="365.2" r="0.8" fill="#5452d0"/><circle cx="254.1" cy="327.7" r="0.9" fill="#4e4cc8"/><circle cx="231.2" cy="356.9" r="0.7" fill="#4e4cc8"/><circle cx="236.5" cy="361.8" r="0.6" fill="#3e3cb4"/><circle cx="258.6" cy="331.2" r="0.9" fill="#3230a0"/><circle cx="235.0" cy="352.5" r="0.7" fill="#5452d0"/><circle cx="241.6" cy="349.9" r="0.8" fill="#3230a0"/><circle cx="264.0" cy="355.5" r="1.0" fill="#3230a0"/><circle cx="260.1" cy="337.6" r="0.7" fill="#3e3cb4"/></g>
<g filter="url(#f4)"><circle cx="265.4" cy="354.7" r="1.0" fill="#58e048"/><circle cx="243.5" cy="335.3" r="1.2" fill="#48c840"/><circle cx="234.6" cy="327.8" r="0.8" fill="#70f060"/><circle cx="252.3" cy="347.0" r="1.4" fill="#70f060"/><circle cx="251.9" cy="334.6" r="0.9" fill="#48c840"/><circle cx="246.3" cy="327.1" r="1.1" fill="#58e048"/><circle cx="235.8" cy="335.7" r="0.9" fill="#3aa838"/><circle cx="262.9" cy="353.7" r="0.7" fill="#3aa838"/><circle cx="237.0" cy="334.0" r="0.8" fill="#3aa838"/><circle cx="251.6" cy="334.1" r="1.4" fill="#58e048"/><circle cx="234.6" cy="345.9" r="1.2" fill="#58e048"/><circle cx="270.7" cy="335.6" r="0.8" fill="#3aa838"/><circle cx="271.9" cy="346.4" r="1.0" fill="#58e048"/><circle cx="263.8" cy="326.6" r="1.0" fill="#3aa838"/></g>
<path d="M262,352 Q266,348 268,343" fill="none" stroke="#50c848" stroke-width="1.2" stroke-linecap="round" filter="url(#f3)" opacity="1"/>
<ellipse cx="254" cy="366" rx="2.2" ry="1.4" fill="#60d850" filter="url(#f4)" opacity="1"/>
</g>
<rect x="51.8" y="282.1" width="65.10000000000001" height="42.5" fill="none" stroke="#222" stroke-width="0.6"/>
<rect x="51.8" y="326.2" width="65.10000000000001" height="43.0" fill="none" stroke="#222" stroke-width="0.6"/>
<rect x="118.2" y="282.1" width="43.3" height="42.5" fill="none" stroke="#222" stroke-width="0.6"/>
<rect x="118.2" y="326.2" width="43.3" height="43.0" fill="none" stroke="#222" stroke-width="0.6"/>
<rect x="164.6" y="282.1" width="64.30000000000001" height="42.5" fill="none" stroke="#222" stroke-width="0.6"/>
<rect x="164.6" y="326.2" width="64.30000000000001" height="43.0" fill="none" stroke="#222" stroke-width="0.6"/>
<rect x="230.2" y="282.1" width="42.80000000000001" height="42.5" fill="none" stroke="#222" stroke-width="0.6"/>
<rect x="230.2" y="326.2" width="42.80000000000001" height="43.0" fill="none" stroke="#222" stroke-width="0.6"/>
<g transform="translate(13.5 420.2) scale(0.88 1)"><text x="0" y="0" font-size="10.2" font-weight="bold" stroke="#000">i</text></g>
<text x="87.7" y="429.5" font-size="9.5" text-anchor="middle" stroke="#000">WT</text>
<text x="145.4" y="429.5" font-size="9.5" text-anchor="middle" stroke="#000">hA53T</text>
<text x="209.1" y="429.5" font-size="9.5" text-anchor="middle" stroke="#000">WT</text>
<text x="266.2" y="429.5" font-size="9.5" text-anchor="middle" stroke="#000">hA53T</text>
<line x1="61.9" y1="433.5" x2="113.9" y2="433.5" stroke="#111" stroke-width="1.1"/>
<line x1="119" y1="433.5" x2="172.1" y2="433.5" stroke="#111" stroke-width="1.1"/>
<line x1="182.6" y1="433.5" x2="234.4" y2="433.5" stroke="#111" stroke-width="1.1"/>
<line x1="239.7" y1="433.5" x2="292.8" y2="433.5" stroke="#111" stroke-width="1.1"/>
<text x="73.7" y="446.4" font-size="9.5" text-anchor="middle" stroke="#000">Veh</text>
<text x="101.8" y="446.4" font-size="9.5" text-anchor="middle" stroke="#000">NLY</text>
<text x="130.8" y="446.4" font-size="9.5" text-anchor="middle" stroke="#000">Veh</text>
<text x="160.3" y="446.4" font-size="9.5" text-anchor="middle" stroke="#000">NLY</text>
<text x="194.5" y="446.4" font-size="9.5" text-anchor="middle" stroke="#000">Veh</text>
<text x="223" y="446.4" font-size="9.5" text-anchor="middle" stroke="#000">NLY</text>
<text x="251.6" y="446.4" font-size="9.5" text-anchor="middle" stroke="#000">Veh</text>
<text x="280.8" y="446.4" font-size="9.5" text-anchor="middle" stroke="#000">NLY</text>
<line x1="61.9" y1="450.5" x2="85.2" y2="450.5" stroke="#111" stroke-width="1.1"/>
<line x1="90.5" y1="450.5" x2="113.9" y2="450.5" stroke="#111" stroke-width="1.1"/>
<line x1="119" y1="450.5" x2="142.9" y2="450.5" stroke="#111" stroke-width="1.1"/>
<line x1="148.5" y1="450.5" x2="172.1" y2="450.5" stroke="#111" stroke-width="1.1"/>
<line x1="182.6" y1="450.5" x2="206.5" y2="450.5" stroke="#111" stroke-width="1.1"/>
<line x1="211" y1="450.5" x2="234.4" y2="450.5" stroke="#111" stroke-width="1.1"/>
<line x1="239.7" y1="450.5" x2="263.3" y2="450.5" stroke="#111" stroke-width="1.1"/>
<line x1="269.5" y1="450.5" x2="292.8" y2="450.5" stroke="#111" stroke-width="1.1"/>
<line x1="54.5" y1="452.9" x2="54.5" y2="577.2" stroke="#111" stroke-width="1.1"/>
<text x="50.5" y="515.3" font-size="9.5" text-anchor="middle" transform="rotate(-90 50.5 515.3)" stroke="#000">α-Syn</text>
<text x="3.4" y="594.7" font-size="9.5" stroke="#000">p-α-syn<tspan font-size="6.5" dy="-3.8">Ser129</tspan></text>
<text x="54.6" y="622.8" font-size="9.5" text-anchor="end" stroke="#000">β-actin</text>
<text x="116.7" y="644.1" font-size="9.5" text-anchor="middle" stroke="#000">Brainstem: Triton X-100</text>
<text x="116.7" y="655.1" font-size="9.5" text-anchor="middle" stroke="#000">unsoluble fraction</text>
<text x="238.9" y="643.9" font-size="9.5" text-anchor="middle" stroke="#000">Brainstem: Triton X-100</text>
<text x="238.9" y="654.7" font-size="9.5" text-anchor="middle" stroke="#000">soluble fraction</text>
<text x="306.5" y="459.5" font-size="9.5" stroke="#000">kD</text>
<line x1="298.2" y1="471.5" x2="303.4" y2="471.5" stroke="#111" stroke-width="1.0"/>
<text x="306.5" y="474.59999999999997" font-size="9.5" stroke="#000">250</text>
<line x1="298.2" y1="485.5" x2="303.4" y2="485.5" stroke="#111" stroke-width="1.0"/>
<text x="306.5" y="489.2" font-size="9.5" stroke="#000">150</text>
<line x1="298.2" y1="499.5" x2="303.4" y2="499.5" stroke="#111" stroke-width="1.0"/>
<text x="306.5" y="503.0" font-size="9.5" stroke="#000">100</text>
<line x1="298.2" y1="511.5" x2="303.4" y2="511.5" stroke="#111" stroke-width="1.0"/>
<text x="306.5" y="515.0" font-size="9.5" stroke="#000">75</text>
<line x1="298.2" y1="525.5" x2="303.4" y2="525.5" stroke="#111" stroke-width="1.0"/>
<text x="306.5" y="528.8" font-size="9.5" stroke="#000">50</text>
<line x1="298.2" y1="545.5" x2="303.4" y2="545.5" stroke="#111" stroke-width="1.0"/>
<text x="306.5" y="548.9" font-size="9.5" stroke="#000">25</text>
<line x1="298.2" y1="565.5" x2="303.4" y2="565.5" stroke="#111" stroke-width="1.0"/>
<text x="306.5" y="569.3" font-size="9.5" stroke="#000">15</text>
<line x1="298.2" y1="596.5" x2="303.4" y2="596.5" stroke="#111" stroke-width="1.0"/>
<text x="306.5" y="600.3" font-size="9.5" stroke="#000">15</text>
<line x1="298.2" y1="630.5" x2="303.4" y2="630.5" stroke="#111" stroke-width="1.0"/>
<text x="306.5" y="633.5" font-size="9.5" stroke="#000">37</text>
<g clip-path="url(#c25)">
<rect x="58.2" y="452.9" width="117.60000000000001" height="98.39999999999998" fill="#f7f7f7"/>
<rect x="117.9" y="458" width="7.2" height="64" fill="url(#sm1)" filter="url(#f1)"/>
<ellipse cx="121.5" cy="524.1" rx="3.5" ry="1.3" fill="#8a8a8a" filter="url(#f3)" opacity="1"/>
<ellipse cx="121.5" cy="529.3" rx="3.5" ry="1.4" fill="#5e5e5e" filter="url(#f3)" opacity="1"/>
<ellipse cx="121.5" cy="532.6" rx="3.5" ry="1.0" fill="#aaa" filter="url(#f3)" opacity="1"/>
<ellipse cx="121.5" cy="536.1" rx="3.5" ry="1.2" fill="#4a4a4a" filter="url(#f3)" opacity="1"/>
<ellipse cx="121.5" cy="540.5" rx="3.5" ry="1.3" fill="#7a7a7a" filter="url(#f3)" opacity="1"/>
<ellipse cx="121.5" cy="544.3" rx="4.1" ry="2.7" fill="#000" filter="url(#f3)" opacity="1"/>
<ellipse cx="121.5" cy="549.6" rx="3.25" ry="1.1" fill="#444" filter="url(#f3)" opacity="1"/>
<rect x="127.20000000000002" y="458" width="7.2" height="64" fill="url(#sm1)" filter="url(#f1)"/>
<ellipse cx="130.8" cy="524.1" rx="3.5" ry="1.3" fill="#8a8a8a" filter="url(#f3)" opacity="1"/>
<ellipse cx="130.8" cy="529.3" rx="3.5" ry="1.4" fill="#5e5e5e" filter="url(#f3)" opacity="1"/>
<ellipse cx="130.8" cy="532.6" rx="3.5" ry="1.0" fill="#aaa" filter="url(#f3)" opacity="1"/>
<ellipse cx="130.8" cy="536.1" rx="3.5" ry="1.2" fill="#4a4a4a" filter="url(#f3)" opacity="1"/>
<ellipse cx="130.8" cy="540.5" rx="3.5" ry="1.3" fill="#7a7a7a" filter="url(#f3)" opacity="1"/>
<ellipse cx="130.8" cy="544.3" rx="3.8" ry="2.7" fill="#000" filter="url(#f3)" opacity="1"/>
<ellipse cx="130.8" cy="549.6" rx="3.25" ry="1.1" fill="#444" filter="url(#f3)" opacity="1"/>
<rect x="136.5" y="458" width="7.2" height="64" fill="url(#sm1)" filter="url(#f1)"/>
<ellipse cx="140.1" cy="524.1" rx="3.5" ry="1.3" fill="#8a8a8a" filter="url(#f3)" opacity="1"/>
<ellipse cx="140.1" cy="529.3" rx="3.5" ry="1.4" fill="#5e5e5e" filter="url(#f3)" opacity="1"/>
<ellipse cx="140.1" cy="532.6" rx="3.5" ry="1.0" fill="#aaa" filter="url(#f3)" opacity="1"/>
<ellipse cx="140.1" cy="536.1" rx="3.5" ry="1.2" fill="#4a4a4a" filter="url(#f3)" opacity="1"/>
<ellipse cx="140.1" cy="540.5" rx="3.5" ry="1.3" fill="#7a7a7a" filter="url(#f3)" opacity="1"/>
<ellipse cx="140.1" cy="544.3" rx="4.1" ry="2.7" fill="#000" filter="url(#f3)" opacity="1"/>
<ellipse cx="140.1" cy="549.6" rx="3.25" ry="1.1" fill="#444" filter="url(#f3)" opacity="1"/>
<rect x="145.8" y="458" width="7.2" height="64" fill="url(#sm2)" filter="url(#f1)"/>
<ellipse cx="149.4" cy="524.1" rx="3.5" ry="1.2" fill="#d0d0d0" filter="url(#f3)" opacity="1"/>
<ellipse cx="149.4" cy="529.3" rx="3.5" ry="1.2" fill="#c8c8c8" filter="url(#f3)" opacity="1"/>
<ellipse cx="149.4" cy="536.1" rx="3.5" ry="1.1" fill="#d4d4d4" filter="url(#f3)" opacity="1"/>
<ellipse cx="149.4" cy="544.3" rx="3.5" ry="2.0" fill="#555" filter="url(#f3)" opacity="1"/>
<rect x="154.5" y="458" width="7.2" height="64" fill="url(#sm2)" filter="url(#f1)"/>
<ellipse cx="158.1" cy="524.1" rx="3.5" ry="1.2" fill="#e0e0e0" filter="url(#f3)" opacity="1"/>
<ellipse cx="158.1" cy="529.3" rx="3.5" ry="1.2" fill="#dadada" filter="url(#f3)" opacity="1"/>
<ellipse cx="158.1" cy="536.1" rx="3.5" ry="1.1" fill="#e2e2e2" filter="url(#f3)" opacity="1"/>
<ellipse cx="158.1" cy="544.3" rx="3.5" ry="1.5" fill="#b4b4b4" filter="url(#f3)" opacity="1"/>
<rect x="164.4" y="458" width="7.2" height="64" fill="url(#sm2)" filter="url(#f1)"/>
<ellipse cx="168.0" cy="524.1" rx="3.5" ry="1.2" fill="#b8b8b8" filter="url(#f3)" opacity="1"/>
<ellipse cx="168.0" cy="529.3" rx="3.5" ry="1.2" fill="#cfcfcf" filter="url(#f3)" opacity="1"/>
<ellipse cx="168.0" cy="536.1" rx="3.5" ry="1.1" fill="#d6d6d6" filter="url(#f3)" opacity="1"/>
<ellipse cx="168.0" cy="544.3" rx="3.5" ry="1.7" fill="#8a8a8a" filter="url(#f3)" opacity="1"/>
<rect x="164.6" y="510" width="7" height="12" rx="3" fill="#4a4a4a" filter="url(#f1)"/>
<rect x="165.0" y="502" width="6.2" height="10" rx="2" fill="#a8a8a8" filter="url(#f1)" opacity="0.7"/>
</g>
<rect x="58.2" y="452.9" width="117.60000000000001" height="98.39999999999998" fill="none" stroke="#222" stroke-width="1.1"/>
<rect x="58.2" y="553.3" width="117.60000000000001" height="23.90000000000009" fill="#f7f7f7" stroke="#222" stroke-width="1.1"/>
<ellipse cx="124.3" cy="567" rx="4.25" ry="1.9" fill="#000" filter="url(#f3)" opacity="1"/>
<ellipse cx="124.3" cy="574.2" rx="3.75" ry="0.9" fill="#666" filter="url(#f3)" opacity="1"/>
<ellipse cx="133.1" cy="567" rx="4.25" ry="1.8" fill="#000" filter="url(#f3)" opacity="1"/>
<ellipse cx="133.1" cy="574.2" rx="3.75" ry="0.9" fill="#666" filter="url(#f3)" opacity="1"/>
<ellipse cx="142.3" cy="567" rx="4.25" ry="1.8" fill="#000" filter="url(#f3)" opacity="1"/>
<ellipse cx="142.3" cy="574.2" rx="3.75" ry="0.9" fill="#666" filter="url(#f3)" opacity="1"/>
<ellipse cx="151.1" cy="567" rx="4.25" ry="1.2" fill="#111" filter="url(#f3)" opacity="1"/>
<ellipse cx="151.1" cy="574.2" rx="3.75" ry="0.9" fill="#aaa" filter="url(#f3)" opacity="1"/>
<ellipse cx="159.9" cy="567" rx="4.25" ry="1.1" fill="#444" filter="url(#f3)" opacity="1"/>
<ellipse cx="159.9" cy="574.2" rx="3.75" ry="0.9" fill="#ccc" filter="url(#f3)" opacity="1"/>
<ellipse cx="169.3" cy="567" rx="4.25" ry="1.3" fill="#222" filter="url(#f3)" opacity="1"/>
<ellipse cx="169.3" cy="574.2" rx="3.75" ry="0.9" fill="#bbb" filter="url(#f3)" opacity="1"/>
<rect x="58.2" y="580" width="117.60000000000001" height="25.399999999999977" fill="#efefef" stroke="#222" stroke-width="1.1"/>
<ellipse cx="122.5" cy="594" rx="4.75" ry="1.3" fill="#111" filter="url(#f3)" opacity="1"/>
<ellipse cx="131.6" cy="594" rx="4.75" ry="1.4" fill="#111" filter="url(#f3)" opacity="1"/>
<ellipse cx="141" cy="594" rx="4.75" ry="1.2" fill="#222" filter="url(#f3)" opacity="1"/>
<ellipse cx="150.5" cy="594" rx="4.75" ry="1.0" fill="#333" filter="url(#f3)" opacity="1"/>
<ellipse cx="159.6" cy="594" rx="4.75" ry="1.0" fill="#333" filter="url(#f3)" opacity="1"/>
<ellipse cx="168.5" cy="594" rx="4.75" ry="0.8" fill="#555" filter="url(#f3)" opacity="1"/>
<rect x="58.2" y="607.9" width="117.60000000000001" height="24.200000000000045" fill="#e9e9e9" stroke="#222" stroke-width="1.1"/>
<ellipse cx="66.0" cy="621.7" rx="5.25" ry="1.5" fill="#0a0a0a" filter="url(#f3)" opacity="1"/>
<ellipse cx="75.2" cy="621.7" rx="5.25" ry="1.5" fill="#0a0a0a" filter="url(#f3)" opacity="1"/>
<ellipse cx="84.4" cy="621.7" rx="5.25" ry="1.5" fill="#0a0a0a" filter="url(#f3)" opacity="1"/>
<ellipse cx="93.6" cy="621.7" rx="5.25" ry="1.5" fill="#0a0a0a" filter="url(#f3)" opacity="1"/>
<ellipse cx="102.8" cy="621.7" rx="5.25" ry="1.5" fill="#0a0a0a" filter="url(#f3)" opacity="1"/>
<ellipse cx="112.0" cy="621.7" rx="5.25" ry="1.5" fill="#0a0a0a" filter="url(#f3)" opacity="1"/>
<ellipse cx="121.19999999999999" cy="621.7" rx="5.25" ry="1.5" fill="#0a0a0a" filter="url(#f3)" opacity="1"/>
<ellipse cx="130.39999999999998" cy="621.7" rx="5.25" ry="1.8" fill="#0a0a0a" filter="url(#f3)" opacity="1"/>
<ellipse cx="139.6" cy="621.7" rx="5.25" ry="1.8" fill="#0a0a0a" filter="url(#f3)" opacity="1"/>
<ellipse cx="148.8" cy="621.7" rx="5.25" ry="1.8" fill="#0a0a0a" filter="url(#f3)" opacity="1"/>
<ellipse cx="158.0" cy="621.7" rx="5.25" ry="1.8" fill="#0a0a0a" filter="url(#f3)" opacity="1"/>
<ellipse cx="167.2" cy="621.7" rx="5.25" ry="1.8" fill="#0a0a0a" filter="url(#f3)" opacity="1"/>
<rect x="179.9" y="453.1" width="117.70000000000002" height="126.60000000000002" fill="#f1f1f1" stroke="#222" stroke-width="1.1"/>
<line x1="181.5" y1="453.1" x2="181.5" y2="579.7" stroke="#888" stroke-width="0.8"/>
<path d="M188,564.1 L237.5,563.6 L237.5,566.6 L188,566.3 Z" fill="#333" filter="url(#f3)"/>
<path d="M238.5,562.6 Q250,562 262,562.8 Q276,563.2 291.5,562.6 L291.5,567.8 Q276,567.2 262,567.6 Q250,568.2 238.5,567.8 Z" fill="#000" filter="url(#f3)"/>
<rect x="241.3" y="540" width="2.4" height="22" fill="#d8d8d8" filter="url(#f1)" opacity="0.5"/>
<rect x="248.8" y="540" width="2.4" height="22" fill="#d8d8d8" filter="url(#f1)" opacity="0.5"/>
<rect x="254.8" y="540" width="2.4" height="22" fill="#d8d8d8" filter="url(#f1)" opacity="0.5"/>
<ellipse cx="265" cy="568.5" rx="27.0" ry="0.8" fill="#888" filter="url(#f3)" opacity="1"/>
<rect x="179.9" y="581.8" width="117.70000000000002" height="24.40000000000009" fill="#e6e6e6" stroke="#222" stroke-width="1.1"/>
<ellipse cx="239.5" cy="596.9" rx="3.25" ry="0.8" fill="#777" filter="url(#f3)" opacity="1"/>
<ellipse cx="248" cy="596.9" rx="3.25" ry="0.8" fill="#555" filter="url(#f3)" opacity="1"/>
<ellipse cx="261" cy="596.9" rx="3.25" ry="0.8" fill="#666" filter="url(#f3)" opacity="1"/>
<ellipse cx="269" cy="596.9" rx="3.25" ry="0.8" fill="#999" filter="url(#f3)" opacity="1"/>
<ellipse cx="277" cy="596.9" rx="3.25" ry="0.8" fill="#bbb" filter="url(#f3)" opacity="1"/>
<ellipse cx="290" cy="596.9" rx="3.25" ry="0.8" fill="#ccc" filter="url(#f3)" opacity="1"/>
<ellipse cx="192" cy="596.9" rx="3.25" ry="0.8" fill="#d0d0d0" filter="url(#f3)" opacity="1"/>
<ellipse cx="201" cy="596.9" rx="3.25" ry="0.8" fill="#d4d4d4" filter="url(#f3)" opacity="1"/>
<rect x="179.9" y="608.4" width="117.70000000000002" height="23.899999999999977" fill="#ebebeb" stroke="#222" stroke-width="1.1"/>
<path d="M184,621 L236,620.8 Q250,621.2 262,621.4 Q276,621.6 294,620.6 L294,623.4 Q276,624 262,624.2 Q250,623.8 236,623.2 L184,623.4 Z" fill="#0a0a0a" filter="url(#f3)"/>
</svg>
</body></html>
